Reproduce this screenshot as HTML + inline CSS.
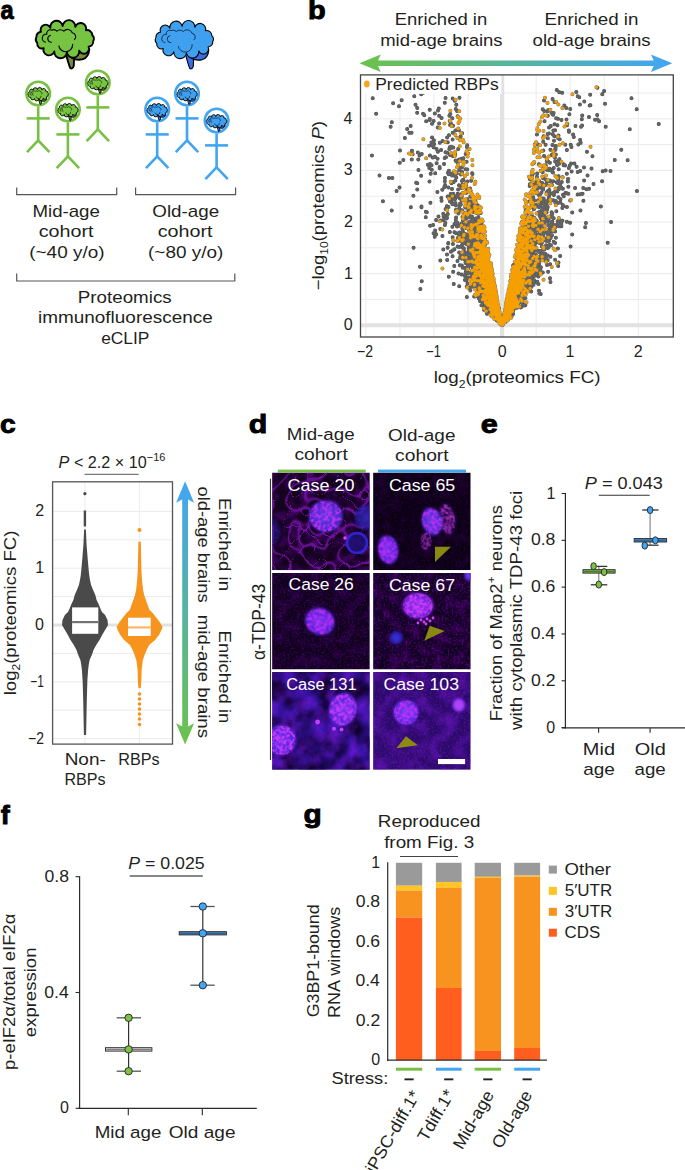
<!DOCTYPE html>
<html><head><meta charset="utf-8"><style>
html,body{margin:0;padding:0;background:#fff;}
body{width:685px;height:1170px;overflow:hidden;}
svg{display:block;font-family:"Liberation Sans",sans-serif;}
</style></head><body>
<svg width="685" height="1170" viewBox="0 0 685 1170">
<g transform="translate(0.51,19.2) scale(0.8917,1)"><text fill="#000" stroke="#000" stroke-width="0.9"><tspan x="0" y="0" font-size="26.5" font-weight="bold">a</tspan></text></g>
<g transform="translate(308.09,19.2) scale(1.0933,1)"><text fill="#000" stroke="#000" stroke-width="0.9"><tspan x="0" y="0" font-size="26.5" font-weight="bold">b</tspan></text></g>
<g transform="translate(-0.11,433) scale(1.0676,1)"><text fill="#000" stroke="#000" stroke-width="0.9"><tspan x="0" y="0" font-size="26.5" font-weight="bold">c</tspan></text></g>
<g transform="translate(248.75,432.6) scale(1.1458,1)"><text fill="#000" stroke="#000" stroke-width="0.9"><tspan x="0" y="0" font-size="26.5" font-weight="bold">d</tspan></text></g>
<g transform="translate(480.8,433) scale(1.1565,1)"><text fill="#000" stroke="#000" stroke-width="0.9"><tspan x="0" y="0" font-size="26.5" font-weight="bold">e</tspan></text></g>
<g transform="translate(0.74,823.6) scale(1.0209,1)"><text fill="#000" stroke="#000" stroke-width="0.9"><tspan x="0" y="0" font-size="26.5" font-weight="bold">f</tspan></text></g>
<g transform="translate(303.38,822.6) scale(1.1255,1)"><text fill="#000" stroke="#000" stroke-width="0.9"><tspan x="0" y="0" font-size="26.5" font-weight="bold">g</tspan></text></g>
<g transform="translate(64.8,39.2) scale(1.0)" stroke="#000" stroke-width="1.9" stroke-linejoin="round"><path d="M1,14 L9.5,14 L9,26.5 Q8,30 5.5,29 Q3.5,24 1,14Z" fill="#7a8a3c"/><path d="M2,13 Q8,22.5 18,20 Q24,18 24.5,10 L20,8Z" fill="#7a8a3c"/><path d="M28.48,1.97A5.2,5.2 0 0 1 23.79,7.44A4.42,4.42 0 0 1 14.39,11.43A5.72,5.72 0 0 1 2.14,13.16A4.94,4.94 0 0 1 -10.53,12.29A5.46,5.46 0 0 1 -21.12,8.97A4.68,4.68 0 0 1 -27.52,3.89A5.2,5.2 0 0 1 -28.48,-1.97A5.72,5.72 0 0 1 -23.79,-7.44A4.94,4.94 0 0 1 -14.39,-11.43A5.2,5.2 0 0 1 -2.14,-13.16A5.46,5.46 0 0 1 10.53,-12.29A4.68,4.68 0 0 1 21.12,-8.97A5.2,5.2 0 0 1 27.52,-3.89A4.94,4.94 0 0 1 28.48,1.97Z" fill="#76c442"/><path d="M-19,3 A4,4 0 0 1 -18,-5 A3.5,3.5 0 0 1 -13,-9 A4,4 0 0 1 -8,-8 A5,5 0 0 1 -1,-8 A5,5 0 0 1 7.5,-6.5 A4,4 0 0 1 9.5,0.5" fill="none" stroke-width="1.14"/><path d="M-14,-4 A3.5,3.5 0 0 0 -13,3 M-6,6.5 A6.5,6.5 0 0 0 7.8,4.6" fill="none" stroke-width="1.14"/></g>
<g transform="translate(184.3,39.6) scale(1.0)" stroke="#000" stroke-width="1.1" stroke-linejoin="round"><path d="M1,14 L9.5,14 L9,26.5 Q8,30 5.5,29 Q3.5,24 1,14Z" fill="#3a6ee6"/><path d="M2,13 Q8,22.5 18,20 Q24,18 24.5,10 L20,8Z" fill="#3a6ee6"/><path d="M28.48,1.97A5.2,5.2 0 0 1 23.79,7.44A4.42,4.42 0 0 1 14.39,11.43A5.72,5.72 0 0 1 2.14,13.16A4.94,4.94 0 0 1 -10.53,12.29A5.46,5.46 0 0 1 -21.12,8.97A4.68,4.68 0 0 1 -27.52,3.89A5.2,5.2 0 0 1 -28.48,-1.97A5.72,5.72 0 0 1 -23.79,-7.44A4.94,4.94 0 0 1 -14.39,-11.43A5.2,5.2 0 0 1 -2.14,-13.16A5.46,5.46 0 0 1 10.53,-12.29A4.68,4.68 0 0 1 21.12,-8.97A5.2,5.2 0 0 1 27.52,-3.89A4.94,4.94 0 0 1 28.48,1.97Z" fill="#40a0f0"/><path d="M-19,3 A4,4 0 0 1 -18,-5 A3.5,3.5 0 0 1 -13,-9 A4,4 0 0 1 -8,-8 A5,5 0 0 1 -1,-8 A5,5 0 0 1 7.5,-6.5 A4,4 0 0 1 9.5,0.5" fill="none" stroke-width="0.66"/><path d="M-14,-4 A3.5,3.5 0 0 0 -13,3 M-6,6.5 A6.5,6.5 0 0 0 7.8,4.6" fill="none" stroke-width="0.66"/></g>
<g stroke="#77c043" stroke-width="2.6" fill="none" stroke-linecap="butt"><circle cx="38.2" cy="93.6" r="11.8" fill="#fff"/><line x1="38.2" y1="106.6" x2="38.2" y2="140.3" stroke="#77c043" stroke-width="2.6"/><line x1="26.7" y1="118.4" x2="49.7" y2="118.4" stroke="#77c043" stroke-width="2.6"/><path d="M27,152.2 L38.2,140.3 L49.4,152.2"/></g><g transform="translate(38.2,94.2) scale(0.35)" stroke="#000" stroke-width="2.6" stroke-linejoin="round"><path d="M1,14 L9.5,14 L9,26.5 Q8,30 5.5,29 Q3.5,24 1,14Z" fill="#7a8a3c"/><path d="M2,13 Q8,22.5 18,20 Q24,18 24.5,10 L20,8Z" fill="#7a8a3c"/><path d="M28.48,1.97A5.2,5.2 0 0 1 23.79,7.44A4.42,4.42 0 0 1 14.39,11.43A5.72,5.72 0 0 1 2.14,13.16A4.94,4.94 0 0 1 -10.53,12.29A5.46,5.46 0 0 1 -21.12,8.97A4.68,4.68 0 0 1 -27.52,3.89A5.2,5.2 0 0 1 -28.48,-1.97A5.72,5.72 0 0 1 -23.79,-7.44A4.94,4.94 0 0 1 -14.39,-11.43A5.2,5.2 0 0 1 -2.14,-13.16A5.46,5.46 0 0 1 10.53,-12.29A4.68,4.68 0 0 1 21.12,-8.97A5.2,5.2 0 0 1 27.52,-3.89A4.94,4.94 0 0 1 28.48,1.97Z" fill="#76c442"/><path d="M-19,3 A4,4 0 0 1 -18,-5 A3.5,3.5 0 0 1 -13,-9 A4,4 0 0 1 -8,-8 A5,5 0 0 1 -1,-8 A5,5 0 0 1 7.5,-6.5 A4,4 0 0 1 9.5,0.5" fill="none" stroke-width="1.56"/><path d="M-14,-4 A3.5,3.5 0 0 0 -13,3 M-6,6.5 A6.5,6.5 0 0 0 7.8,4.6" fill="none" stroke-width="1.56"/></g>
<g stroke="#77c043" stroke-width="2.6" fill="none" stroke-linecap="butt"><circle cx="67.9" cy="109.6" r="11.8" fill="#fff"/><line x1="67.9" y1="122.6" x2="67.9" y2="156.3" stroke="#77c043" stroke-width="2.6"/><line x1="56.4" y1="134.4" x2="79.4" y2="134.4" stroke="#77c043" stroke-width="2.6"/><path d="M56.7,168.2 L67.9,156.3 L79.1,168.2"/></g><g transform="translate(67.9,110.2) scale(0.35)" stroke="#000" stroke-width="2.6" stroke-linejoin="round"><path d="M1,14 L9.5,14 L9,26.5 Q8,30 5.5,29 Q3.5,24 1,14Z" fill="#7a8a3c"/><path d="M2,13 Q8,22.5 18,20 Q24,18 24.5,10 L20,8Z" fill="#7a8a3c"/><path d="M28.48,1.97A5.2,5.2 0 0 1 23.79,7.44A4.42,4.42 0 0 1 14.39,11.43A5.72,5.72 0 0 1 2.14,13.16A4.94,4.94 0 0 1 -10.53,12.29A5.46,5.46 0 0 1 -21.12,8.97A4.68,4.68 0 0 1 -27.52,3.89A5.2,5.2 0 0 1 -28.48,-1.97A5.72,5.72 0 0 1 -23.79,-7.44A4.94,4.94 0 0 1 -14.39,-11.43A5.2,5.2 0 0 1 -2.14,-13.16A5.46,5.46 0 0 1 10.53,-12.29A4.68,4.68 0 0 1 21.12,-8.97A5.2,5.2 0 0 1 27.52,-3.89A4.94,4.94 0 0 1 28.48,1.97Z" fill="#76c442"/><path d="M-19,3 A4,4 0 0 1 -18,-5 A3.5,3.5 0 0 1 -13,-9 A4,4 0 0 1 -8,-8 A5,5 0 0 1 -1,-8 A5,5 0 0 1 7.5,-6.5 A4,4 0 0 1 9.5,0.5" fill="none" stroke-width="1.56"/><path d="M-14,-4 A3.5,3.5 0 0 0 -13,3 M-6,6.5 A6.5,6.5 0 0 0 7.8,4.6" fill="none" stroke-width="1.56"/></g>
<g stroke="#77c043" stroke-width="2.6" fill="none" stroke-linecap="butt"><circle cx="97.8" cy="82.6" r="11.8" fill="#fff"/><line x1="97.8" y1="95.6" x2="97.8" y2="129.3" stroke="#77c043" stroke-width="2.6"/><line x1="86.3" y1="107.4" x2="109.3" y2="107.4" stroke="#77c043" stroke-width="2.6"/><path d="M86.6,141.2 L97.8,129.3 L109,141.2"/></g><g transform="translate(97.8,83.2) scale(0.35)" stroke="#000" stroke-width="2.6" stroke-linejoin="round"><path d="M1,14 L9.5,14 L9,26.5 Q8,30 5.5,29 Q3.5,24 1,14Z" fill="#7a8a3c"/><path d="M2,13 Q8,22.5 18,20 Q24,18 24.5,10 L20,8Z" fill="#7a8a3c"/><path d="M28.48,1.97A5.2,5.2 0 0 1 23.79,7.44A4.42,4.42 0 0 1 14.39,11.43A5.72,5.72 0 0 1 2.14,13.16A4.94,4.94 0 0 1 -10.53,12.29A5.46,5.46 0 0 1 -21.12,8.97A4.68,4.68 0 0 1 -27.52,3.89A5.2,5.2 0 0 1 -28.48,-1.97A5.72,5.72 0 0 1 -23.79,-7.44A4.94,4.94 0 0 1 -14.39,-11.43A5.2,5.2 0 0 1 -2.14,-13.16A5.46,5.46 0 0 1 10.53,-12.29A4.68,4.68 0 0 1 21.12,-8.97A5.2,5.2 0 0 1 27.52,-3.89A4.94,4.94 0 0 1 28.48,1.97Z" fill="#76c442"/><path d="M-19,3 A4,4 0 0 1 -18,-5 A3.5,3.5 0 0 1 -13,-9 A4,4 0 0 1 -8,-8 A5,5 0 0 1 -1,-8 A5,5 0 0 1 7.5,-6.5 A4,4 0 0 1 9.5,0.5" fill="none" stroke-width="1.56"/><path d="M-14,-4 A3.5,3.5 0 0 0 -13,3 M-6,6.5 A6.5,6.5 0 0 0 7.8,4.6" fill="none" stroke-width="1.56"/></g>
<g stroke="#42a5f0" stroke-width="2.6" fill="none" stroke-linecap="butt"><circle cx="157.2" cy="109.6" r="11.8" fill="#fff"/><line x1="157.2" y1="122.6" x2="157.2" y2="156.3" stroke="#42a5f0" stroke-width="2.6"/><line x1="145.7" y1="134.4" x2="168.7" y2="134.4" stroke="#42a5f0" stroke-width="2.6"/><path d="M146,168.2 L157.2,156.3 L168.4,168.2"/></g><g transform="translate(157.2,110.2) scale(0.35)" stroke="#000" stroke-width="2.6" stroke-linejoin="round"><path d="M1,14 L9.5,14 L9,26.5 Q8,30 5.5,29 Q3.5,24 1,14Z" fill="#3a6ee6"/><path d="M2,13 Q8,22.5 18,20 Q24,18 24.5,10 L20,8Z" fill="#3a6ee6"/><path d="M28.48,1.97A5.2,5.2 0 0 1 23.79,7.44A4.42,4.42 0 0 1 14.39,11.43A5.72,5.72 0 0 1 2.14,13.16A4.94,4.94 0 0 1 -10.53,12.29A5.46,5.46 0 0 1 -21.12,8.97A4.68,4.68 0 0 1 -27.52,3.89A5.2,5.2 0 0 1 -28.48,-1.97A5.72,5.72 0 0 1 -23.79,-7.44A4.94,4.94 0 0 1 -14.39,-11.43A5.2,5.2 0 0 1 -2.14,-13.16A5.46,5.46 0 0 1 10.53,-12.29A4.68,4.68 0 0 1 21.12,-8.97A5.2,5.2 0 0 1 27.52,-3.89A4.94,4.94 0 0 1 28.48,1.97Z" fill="#40a0f0"/><path d="M-19,3 A4,4 0 0 1 -18,-5 A3.5,3.5 0 0 1 -13,-9 A4,4 0 0 1 -8,-8 A5,5 0 0 1 -1,-8 A5,5 0 0 1 7.5,-6.5 A4,4 0 0 1 9.5,0.5" fill="none" stroke-width="1.56"/><path d="M-14,-4 A3.5,3.5 0 0 0 -13,3 M-6,6.5 A6.5,6.5 0 0 0 7.8,4.6" fill="none" stroke-width="1.56"/></g>
<g stroke="#42a5f0" stroke-width="2.6" fill="none" stroke-linecap="butt"><circle cx="187" cy="93.6" r="11.8" fill="#fff"/><line x1="187" y1="106.6" x2="187" y2="140.3" stroke="#42a5f0" stroke-width="2.6"/><line x1="175.5" y1="118.4" x2="198.5" y2="118.4" stroke="#42a5f0" stroke-width="2.6"/><path d="M175.8,152.2 L187,140.3 L198.2,152.2"/></g><g transform="translate(187,94.2) scale(0.35)" stroke="#000" stroke-width="2.6" stroke-linejoin="round"><path d="M1,14 L9.5,14 L9,26.5 Q8,30 5.5,29 Q3.5,24 1,14Z" fill="#3a6ee6"/><path d="M2,13 Q8,22.5 18,20 Q24,18 24.5,10 L20,8Z" fill="#3a6ee6"/><path d="M28.48,1.97A5.2,5.2 0 0 1 23.79,7.44A4.42,4.42 0 0 1 14.39,11.43A5.72,5.72 0 0 1 2.14,13.16A4.94,4.94 0 0 1 -10.53,12.29A5.46,5.46 0 0 1 -21.12,8.97A4.68,4.68 0 0 1 -27.52,3.89A5.2,5.2 0 0 1 -28.48,-1.97A5.72,5.72 0 0 1 -23.79,-7.44A4.94,4.94 0 0 1 -14.39,-11.43A5.2,5.2 0 0 1 -2.14,-13.16A5.46,5.46 0 0 1 10.53,-12.29A4.68,4.68 0 0 1 21.12,-8.97A5.2,5.2 0 0 1 27.52,-3.89A4.94,4.94 0 0 1 28.48,1.97Z" fill="#40a0f0"/><path d="M-19,3 A4,4 0 0 1 -18,-5 A3.5,3.5 0 0 1 -13,-9 A4,4 0 0 1 -8,-8 A5,5 0 0 1 -1,-8 A5,5 0 0 1 7.5,-6.5 A4,4 0 0 1 9.5,0.5" fill="none" stroke-width="1.56"/><path d="M-14,-4 A3.5,3.5 0 0 0 -13,3 M-6,6.5 A6.5,6.5 0 0 0 7.8,4.6" fill="none" stroke-width="1.56"/></g>
<g stroke="#42a5f0" stroke-width="2.6" fill="none" stroke-linecap="butt"><circle cx="216.6" cy="120.6" r="11.8" fill="#fff"/><line x1="216.6" y1="133.6" x2="216.6" y2="167.3" stroke="#42a5f0" stroke-width="2.6"/><line x1="205.1" y1="145.4" x2="228.1" y2="145.4" stroke="#42a5f0" stroke-width="2.6"/><path d="M205.4,179.2 L216.6,167.3 L227.8,179.2"/></g><g transform="translate(216.6,121.2) scale(0.35)" stroke="#000" stroke-width="2.6" stroke-linejoin="round"><path d="M1,14 L9.5,14 L9,26.5 Q8,30 5.5,29 Q3.5,24 1,14Z" fill="#3a6ee6"/><path d="M2,13 Q8,22.5 18,20 Q24,18 24.5,10 L20,8Z" fill="#3a6ee6"/><path d="M28.48,1.97A5.2,5.2 0 0 1 23.79,7.44A4.42,4.42 0 0 1 14.39,11.43A5.72,5.72 0 0 1 2.14,13.16A4.94,4.94 0 0 1 -10.53,12.29A5.46,5.46 0 0 1 -21.12,8.97A4.68,4.68 0 0 1 -27.52,3.89A5.2,5.2 0 0 1 -28.48,-1.97A5.72,5.72 0 0 1 -23.79,-7.44A4.94,4.94 0 0 1 -14.39,-11.43A5.2,5.2 0 0 1 -2.14,-13.16A5.46,5.46 0 0 1 10.53,-12.29A4.68,4.68 0 0 1 21.12,-8.97A5.2,5.2 0 0 1 27.52,-3.89A4.94,4.94 0 0 1 28.48,1.97Z" fill="#40a0f0"/><path d="M-19,3 A4,4 0 0 1 -18,-5 A3.5,3.5 0 0 1 -13,-9 A4,4 0 0 1 -8,-8 A5,5 0 0 1 -1,-8 A5,5 0 0 1 7.5,-6.5 A4,4 0 0 1 9.5,0.5" fill="none" stroke-width="1.56"/><path d="M-14,-4 A3.5,3.5 0 0 0 -13,3 M-6,6.5 A6.5,6.5 0 0 0 7.8,4.6" fill="none" stroke-width="1.56"/></g>
<path d="M16.7,187.5 V194.7 H116.7 V187.5" fill="none" stroke="#555" stroke-width="1.2"/>
<path d="M135.6,187.5 V194.7 H235.6 V187.5" fill="none" stroke="#555" stroke-width="1.2"/>
<path d="M16.7,273.4 V281 H234.8 V273.4" fill="none" stroke="#555" stroke-width="1.2"/>
<g transform="translate(32.47,216.5) scale(1.0967,1)"><text fill="#231f20"><tspan x="0" y="0" font-size="17">Mid-age</tspan></text></g>
<g transform="translate(38.66,237.4) scale(1.1616,1)"><text fill="#231f20"><tspan x="0" y="0" font-size="17">cohort</tspan></text></g>
<g transform="translate(29.22,257.7) scale(1.1153,1)"><text fill="#231f20"><tspan x="0" y="0" font-size="17">(~40 y/o)</tspan></text></g>
<g transform="translate(152.31,216.5) scale(1.1049,1)"><text fill="#231f20"><tspan x="0" y="0" font-size="17">Old-age</tspan></text></g>
<g transform="translate(157.66,237.4) scale(1.1616,1)"><text fill="#231f20"><tspan x="0" y="0" font-size="17">cohort</tspan></text></g>
<g transform="translate(148.02,257.7) scale(1.1153,1)"><text fill="#231f20"><tspan x="0" y="0" font-size="17">(~80 y/o)</tspan></text></g>
<g transform="translate(77.86,302.5) scale(1.1034,1)"><text fill="#231f20"><tspan x="0" y="0" font-size="17">Proteomics</tspan></text></g>
<g transform="translate(38.03,322.7) scale(1.1145,1)"><text fill="#231f20"><tspan x="0" y="0" font-size="17">immunofluorescence</tspan></text></g>
<g transform="translate(101.16,343.6) scale(1.0213,1)"><text fill="#231f20"><tspan x="0" y="0" font-size="17">eCLIP</tspan></text></g>
<defs><linearGradient id="gb" gradientUnits="userSpaceOnUse" x1="359.4" y1="0" x2="672.3" y2="0"><stop offset="0" stop-color="#6cc24a"/><stop offset="1" stop-color="#42a5f5"/></linearGradient></defs><path d="M359.4,63.3 L380.7,54.55 L378.1,60.55 L653.6,60.55 L651,54.55 L672.3,63.3 L651,72.05 L653.6,66.05 L378.1,66.05 L380.7,72.05 Z" fill="url(#gb)"/>
<g transform="translate(394.78,24.5) scale(1.0866,1)"><text fill="#231f20"><tspan x="0" y="0" font-size="17">Enriched in</tspan></text></g>
<g transform="translate(380.17,46) scale(1.0894,1)"><text fill="#231f20"><tspan x="0" y="0" font-size="17">mid-age brains</tspan></text></g>
<g transform="translate(544.46,24.8) scale(1.1060,1)"><text fill="#231f20"><tspan x="0" y="0" font-size="17">Enriched in</tspan></text></g>
<g transform="translate(532.52,45.8) scale(1.0967,1)"><text fill="#231f20"><tspan x="0" y="0" font-size="17">old-age brains</tspan></text></g>
<line x1="365.9" y1="74.9" x2="365.9" y2="337" stroke="#ebebeb" stroke-width="1.0"/><line x1="399.95" y1="74.9" x2="399.95" y2="337" stroke="#ebebeb" stroke-width="1.0"/><line x1="434" y1="74.9" x2="434" y2="337" stroke="#ebebeb" stroke-width="1.0"/><line x1="468.05" y1="74.9" x2="468.05" y2="337" stroke="#ebebeb" stroke-width="1.0"/><line x1="536.15" y1="74.9" x2="536.15" y2="337" stroke="#ebebeb" stroke-width="1.0"/><line x1="570.2" y1="74.9" x2="570.2" y2="337" stroke="#ebebeb" stroke-width="1.0"/><line x1="604.25" y1="74.9" x2="604.25" y2="337" stroke="#ebebeb" stroke-width="1.0"/><line x1="638.3" y1="74.9" x2="638.3" y2="337" stroke="#ebebeb" stroke-width="1.0"/><line x1="360.5" y1="299.4" x2="673.3" y2="299.4" stroke="#ebebeb" stroke-width="1.0"/><line x1="360.5" y1="273.6" x2="673.3" y2="273.6" stroke="#ebebeb" stroke-width="1.0"/><line x1="360.5" y1="247.8" x2="673.3" y2="247.8" stroke="#ebebeb" stroke-width="1.0"/><line x1="360.5" y1="222" x2="673.3" y2="222" stroke="#ebebeb" stroke-width="1.0"/><line x1="360.5" y1="196.2" x2="673.3" y2="196.2" stroke="#ebebeb" stroke-width="1.0"/><line x1="360.5" y1="170.4" x2="673.3" y2="170.4" stroke="#ebebeb" stroke-width="1.0"/><line x1="360.5" y1="144.6" x2="673.3" y2="144.6" stroke="#ebebeb" stroke-width="1.0"/><line x1="360.5" y1="118.8" x2="673.3" y2="118.8" stroke="#ebebeb" stroke-width="1.0"/><line x1="360.5" y1="93" x2="673.3" y2="93" stroke="#ebebeb" stroke-width="1.0"/><line x1="502.1" y1="74.9" x2="502.1" y2="337" stroke="#e2e2e2" stroke-width="4.2"/><line x1="360.5" y1="325.2" x2="673.3" y2="325.2" stroke="#e2e2e2" stroke-width="4.0"/>
<clipPath id="cpb"><rect x="360.5" y="74.9" width="312.8" height="262.1"/></clipPath><g clip-path="url(#cpb)"><g fill="none" stroke-linecap="round"><path d="M505.55 317.57h0M466.25 192.83h0M507.02 309.68h0M485.12 282.63h0M510.73 293.91h0M546.13 245.36h0M390.62 126.87h0M491.61 294.72h0M511.51 316.74h0M484.78 295.49h0M437.39 192.01h0M482.63 282.17h0M504.59 321.29h0M501.57 324.47h0M459.88 234.51h0M459.23 286.17h0M491.02 297.34h0M460.83 194.43h0M499.77 316.99h0M521.88 264.78h0M514.02 292.27h0M450.82 174.06h0M529.19 238.56h0M480.45 281.86h0M487.44 266.3h0M533.12 197.31h0M499.33 318.05h0M495.23 305.04h0M494.59 298.32h0M493.38 315.21h0M504.79 317.55h0M543.57 233.07h0M461.11 158.79h0M419.92 266.76h0M508.87 305.28h0M483.25 292.05h0M498.51 316.76h0M532.3 264.69h0M507.34 308.33h0M480.67 212.94h0M509.42 293.44h0M392.31 177.98h0M441.55 200.71h0M541.82 246.39h0M513.82 287.77h0M558.64 160.33h0M497.17 310.48h0M484.6 256.61h0M468 259.32h0M501.21 322.21h0M476.23 207.2h0M505.83 315.79h0M436.58 149.07h0M468.75 214.67h0M485.71 287.02h0M495.89 312.56h0M532.24 276.15h0M480.5 255.92h0M497.67 310.36h0M562.33 207.93h0M504.1 320.19h0M530.54 239.69h0M506.09 317.92h0M522.1 295.53h0M531.68 267.59h0M521.18 254.53h0M544.03 100.56h0M468.28 265.03h0M524.89 259.9h0M423.07 113.81h0M466.7 286.48h0M507.24 312.97h0M448.37 187.57h0M503.54 322.29h0M470.24 237.91h0M514.67 297.46h0M512.81 309.51h0M538.47 200.26h0M441.35 197.91h0M502.6 322.7h0M547.48 111.31h0M448.43 206.94h0M474.53 274.37h0M508.07 305.21h0M544.44 256.47h0M503.6 321.31h0M524.21 288.72h0M528.64 233.31h0M454.93 155.16h0M473.43 280.05h0M491.46 309.41h0M509.87 314.02h0M500.78 322.32h0M505.37 312.88h0M494.32 297.84h0M528.87 254.11h0M495.43 306.48h0M551.98 235.14h0M478.39 256.84h0M523.43 228.65h0M462.37 255.06h0M489.57 310.67h0M512.64 275.94h0M480.21 287.17h0M519.39 247.56h0M532.01 265.89h0M505.4 315.29h0M469.32 243.38h0M475.79 236.12h0M531.52 286.7h0M517.59 282.1h0M468.84 249.64h0M546.35 212.57h0M467.17 261.35h0M498.34 312.55h0M494.13 316.08h0M502.89 323.35h0M526.52 268.1h0M535.45 241.74h0M530.73 257.38h0M432.03 123.72h0M518.53 275.41h0M460.77 204.57h0M495.59 310.39h0M473.29 276.2h0M551.14 215.66h0M499.99 319.38h0M421.7 153.97h0M498.85 319.49h0M419.52 155.45h0M521.47 300.45h0M517.15 287.45h0M530.9 253.65h0M546.46 183.33h0M489.58 282.29h0M602.28 94.17h0M482.12 266.98h0M494.57 310.65h0M540.55 217.99h0M483.45 279.63h0M478.62 297.24h0M443.55 219.97h0M561.4 226.17h0M470.97 221.04h0M492.42 290.52h0M520.49 269.7h0M527.78 285h0M503.02 321.84h0M506.94 313.29h0M502.79 324.28h0M423.16 92.74h0M507.75 310.95h0M452.4 226.76h0M523.46 232.16h0M532.59 279.28h0M448.75 174.31h0M579.9 104.57h0M504.44 314.49h0M546.62 256.05h0M496.37 316.93h0M533.09 217.24h0M460.56 255.94h0M479.96 278.72h0M485.09 264.64h0M490.5 281.68h0M500.41 317.44h0M504.52 314.7h0M498.94 318.75h0M475.95 296.22h0M472.18 263.01h0M515.06 263.76h0M466.61 218.25h0M513.96 293.29h0M509.42 294.06h0M479.96 245h0M511.23 304.69h0M485.75 276.87h0M485.13 266.78h0M513.65 271.65h0M491.39 305.83h0M520.97 283.7h0M522.67 301.05h0M525.78 225.93h0M456.12 233.22h0M539.51 252.13h0M541.14 228.72h0M529 232.17h0M488.52 283.33h0M511.7 300.61h0M501.44 321.99h0M482.25 286.24h0M508.52 309.05h0M503.86 319.96h0M539.92 231.68h0M523.95 271.09h0M526.84 271.43h0M432.71 157.56h0M534.47 218.05h0M505.07 317.78h0M501.64 323.96h0M550.44 256.64h0M514.23 284.95h0M504.38 318.29h0M499.52 317.62h0M554.47 101.94h0M466.49 237.22h0M526.76 233.47h0M474 238.04h0M462.03 180.88h0M526.26 257.66h0M498.92 317.39h0M474.96 251.51h0M528.08 264.91h0M508.45 300.22h0M511.48 295.6h0M493.64 314.45h0M576.32 91.93h0M563.07 194.83h0M509.2 312.78h0M475.37 259.41h0M530.37 238.58h0M467.48 239.93h0M546.72 205.18h0M491.25 302.06h0M520.7 283.76h0M495.64 309.23h0M534.08 162.64h0M557.91 248.54h0M441.12 149.97h0M518.39 280.17h0M490.31 295.16h0M442.32 189.69h0M529.63 269.43h0M486.96 313.76h0M527.01 277.44h0M501.08 323.37h0M480.46 299.11h0M504.84 317.58h0M544.52 223.47h0M494.87 291.12h0M501.04 322.24h0M589.66 105.48h0M521.21 271.63h0M499.58 317.32h0M508.42 312.21h0M509.04 311.15h0M525.62 264.6h0M457.05 226.38h0M483.92 281.31h0M483.45 268.54h0M566.51 119.62h0M466.17 270.77h0M524.94 241.7h0M501.4 323.21h0M501.87 324.52h0M528.05 244.36h0M519.18 247.94h0M447.01 254.62h0M517.71 282.14h0M511.28 305.21h0M494.64 307.57h0M509.61 301.63h0M477.64 257.33h0M636.7 109.2h0M479.98 230.25h0M487 283.78h0M462.99 231.78h0M442.56 141.08h0M491.75 293.07h0M530.05 266.46h0M477.39 253.65h0M447.18 259.88h0M511.29 306.03h0M546.74 259.94h0M577.7 171.9h0M502.72 322.88h0M469.52 233.8h0M506.04 314.68h0M514.59 292h0M523.88 279.36h0M514.25 298.65h0M468.97 238.79h0M536.42 182.89h0M495.45 316.12h0M461.72 200.74h0M465.78 206.88h0M466.94 147h0M528.45 271.47h0M498.92 319.57h0M507.95 314.73h0M544.2 111.04h0M513.94 305.21h0M531.8 234.81h0M458.61 195.17h0M529.65 228.81h0M548.85 225.4h0M500.5 322.37h0M558.59 176.16h0M552.4 171.94h0M495.13 313.51h0M491.2 294.84h0M483.49 279.75h0M481.66 260.88h0M506.8 314.16h0M543.22 234.57h0M542.11 182.98h0M480.58 233.65h0M548.37 191.73h0M475.06 211.22h0M532.69 238.84h0M529.66 277.32h0M433.64 120.89h0M542.7 109.2h0M523.89 242.63h0M445.22 185.76h0M501.24 323.07h0M543.14 178.28h0M520.95 284.94h0M495.9 303.2h0M479.81 293.53h0M527.53 278.11h0M521.69 306.67h0M513.93 300.26h0M477.07 264.84h0M507.68 302.47h0M431.41 142.43h0M522.59 243.58h0M497.97 317.98h0M481.43 305.28h0M544.01 209.16h0M493.24 316.02h0M474.23 237.01h0M535.96 183.74h0M488.22 288.4h0M454.75 100.66h0M566.28 193.12h0M494 302.72h0M485.11 269.48h0M484.61 271.2h0M439.15 123.45h0M484.75 309.95h0M568.82 130.38h0M559.09 163.63h0M498.11 312.53h0M497.44 314.12h0M499.73 319.36h0M505.5 308.93h0M516.36 285.66h0M531.32 275.02h0M546.78 161.22h0M511.37 309.95h0M463.21 233.8h0M483.57 281.33h0M536.06 255.09h0M458.98 185.28h0M500.53 320.78h0M521.91 291.47h0M500.34 322.6h0M476.83 283.78h0M472.15 282.93h0M512.84 307.84h0M427.87 164.69h0M543.25 141.82h0M491.13 279.86h0M550.4 149.76h0M532.74 247.57h0M508.12 302.68h0M507.44 312.17h0M430.42 202.83h0M500.18 320.88h0M480.98 224.09h0M475.37 247.28h0M461.94 245.04h0M527.58 249.04h0M401.66 100.25h0M486.93 279.99h0M505.32 319.02h0M498.18 309.56h0M512.32 297.33h0M491.04 293.72h0M533.73 226.37h0M500.43 321.41h0M514.49 305.58h0M529.85 230.96h0M496.13 307.61h0M497.75 318.58h0M497.79 309.31h0M449.72 121h0M549.55 168.63h0M522.25 285.07h0M476.91 258.09h0M522.22 284.68h0M535.14 192.87h0M444.67 158.08h0M494.35 295.08h0M481.66 246.91h0M511.61 303.18h0M540.52 213.9h0M481.24 301.3h0M555.85 237.69h0M590.18 94.7h0M513.08 292.94h0M538.91 164.17h0M510.69 285.04h0M517.8 298.76h0M487.03 275.05h0M501.76 324.38h0M547.02 209.74h0M487.97 297.37h0M550.16 264.2h0M557.63 221.2h0M429.69 119.92h0M482.54 295.92h0M552.35 217.38h0M498.25 314.36h0M485.19 283.32h0M445.38 223.09h0M510.83 312h0M555.79 145.89h0M486.41 278.33h0M557.03 224.39h0M468.89 229.71h0M506.61 319.08h0M522.01 296.25h0M544.5 222h0M580.13 139.92h0M513.36 285.94h0M523.5 251.34h0M508.31 309.1h0M448.94 170.65h0M410.85 207.17h0M514.31 283.93h0M485.57 291.56h0M497.72 312.71h0M434.92 156.67h0M523.55 277.3h0M521.84 246.72h0M524.55 282.11h0M495.13 314.37h0M416.18 182.83h0M472.69 218.83h0M539.44 256.97h0M534.18 221.66h0M588.94 117.08h0M482.15 230.68h0M489.08 288.19h0M510.17 302.02h0M503.11 321.34h0M504.34 314.7h0M495.72 310.6h0M488.6 263.04h0M454.4 232.17h0M534.62 237.73h0M483.3 281.92h0M532.05 250.03h0M532 251.23h0M429.78 118.91h0M498.03 309.71h0M532.86 273.58h0M476.52 262.41h0M539.87 230.02h0M466.88 297.03h0M450.07 125.04h0M468.17 268.49h0M511.85 301.59h0M521.32 245.13h0M507.11 308.68h0M525.22 253.79h0M502.31 324.53h0M482.67 288.58h0M533.94 276.14h0M516.02 292.78h0M581.08 126.68h0M496.92 310.68h0M488.36 282.86h0M489.46 296.37h0M556.74 89.96h0M524.83 259.6h0M518.9 282.92h0M532.69 251.59h0M525.02 224.19h0M525.85 291.7h0M480.41 279.52h0M533.83 209.35h0M540.08 205.8h0M502.7 324.04h0M452.63 237.34h0M451.13 146.76h0M502.68 323.03h0M509.55 313.52h0M489.85 298.84h0M584.27 101.61h0M465.26 207.6h0M494.22 295.59h0M477.63 281.63h0M557.37 191.39h0M503.76 321.38h0M505.54 321.86h0M492.04 302.57h0M527.82 239.94h0M479.6 286.82h0M465.1 267.88h0M515.4 293.24h0M505.94 313.72h0M494.45 311.26h0M472.78 212.22h0M473.15 244.43h0M504.08 320.87h0M542.03 227.83h0M566.83 173.72h0M550.7 126h0M511.6 296.01h0M459.19 208.62h0M460.79 198.66h0M472.09 226.06h0M478.21 275.17h0M520.28 271.25h0M457.53 162.6h0M547.73 248.1h0M553.92 195.07h0M452.67 98.48h0M595.09 119.67h0M483.01 302.96h0M509.55 311.82h0M553.64 241.71h0M448.22 243.46h0M483.55 284.16h0M488.65 279.2h0M497.96 318.16h0M473.02 208.39h0M488.33 290.41h0M503.98 321.36h0M548.85 217.06h0M553.71 168.12h0M449.42 115.75h0M486.57 306.68h0M535.39 260.65h0M482.04 259.42h0M467.05 189.56h0M534.14 245.91h0M474.82 256.37h0M557.79 189.64h0M514.71 306.84h0M542.01 187.34h0M551.88 216.56h0M511.3 283.59h0M496.85 309.94h0M526.67 290.31h0M477.29 278.96h0M535.66 222.75h0M447.85 172.8h0M545.44 185.08h0M490.67 301.66h0M584.13 180.54h0M536.68 220.72h0M561.46 119.96h0M417.24 189.55h0M491.21 289.18h0M486.16 292.26h0M532.45 222.43h0M563.76 196.33h0M540.7 294.06h0M487.02 296.92h0M508.39 303.57h0M452.61 199.49h0M517.87 288.07h0M477.66 259.86h0M443.54 216.2h0M486.31 295.77h0M456.05 217.5h0M434.71 236.86h0M472.1 216.8h0M469.29 216.97h0M513.92 264.86h0M492.53 302.26h0M557.75 162.42h0M567.83 181.57h0M545.65 168.63h0M557.99 183.36h0M511.85 292.66h0M551.57 212.31h0M488.86 294.72h0M466.05 228.04h0M465.05 254.46h0M523.58 272.04h0M534.29 227.97h0M489.2 277.98h0M513.71 299.51h0M539.5 194.7h0M521.68 291.48h0M511.7 303.64h0M570.29 109.02h0M501.98 324.72h0M487.08 264.41h0M498.68 320.19h0M520.67 260.22h0M525.43 305.03h0M504.74 320.5h0M523.99 297.1h0M471.22 262.19h0M530.63 255.53h0M537.14 250.84h0M502.41 323.91h0M510.2 297.19h0M522.19 249.19h0M503.24 320.66h0M491.73 315.91h0M522.03 252.98h0M517.49 298.58h0M513.06 271.63h0M481.82 273.81h0M503.88 321.68h0M458.2 149.05h0M510.62 300.72h0M476.07 287.26h0M518.25 300.2h0M500.63 319.85h0M467.58 283.54h0M529.92 287.92h0M519.95 294.76h0M525.25 223.77h0M531 225.9h0M485.9 290.2h0M462.96 220.57h0M471.45 248.21h0M430.7 173.78h0M478.97 271.08h0M538.19 257.77h0M485.71 303.68h0M463.53 235.53h0M516.26 282.92h0M484.49 279.73h0M514.11 277.32h0M513.64 297.02h0M511.83 310.16h0M493.06 280.73h0M478.49 212.48h0M474.32 278.22h0M548.45 170.29h0M534.74 237.21h0M475.75 269.05h0M522.05 301.11h0M528 280.94h0M560.45 226.22h0M505.54 318.61h0M529.24 228.42h0M458.93 233.14h0M433.54 233.16h0M495.05 287.27h0M477.74 205.35h0M479.69 280.3h0M494.59 295.07h0M530.37 242.74h0M558.43 197.14h0M466.25 280.39h0M494.39 305.17h0M480.36 274.44h0M462.8 267.72h0M441.58 118.06h0M470.1 188.47h0M614.74 159.94h0M529.84 184.25h0M529.43 201.6h0M497.17 304.94h0M592.46 156.35h0M477.64 280.33h0M417.82 152.57h0M582.54 193.84h0M519.58 263.47h0M537.79 223.79h0M508.28 304.9h0M450.66 194.11h0M467.25 235.29h0M501.11 321.23h0M519.32 286.65h0M548.45 232.44h0M457.4 240.39h0M494.15 303.09h0M526.31 254.31h0M508.42 294.99h0M521.91 294.53h0M583.39 200.85h0M539.63 185.71h0M474.53 245.13h0M571.07 163.6h0M524.24 277.77h0M553.06 200.33h0M518.25 283.01h0M555.77 201.1h0M482.93 280.35h0M553.18 181.29h0M470.39 290.47h0M484.91 303.7h0M446.83 206.18h0M509.06 304.37h0M483.77 291.82h0M453.23 147.44h0M508.28 316.43h0M568.96 131.83h0M481.58 274.34h0M514.54 281.93h0M537.39 282.74h0M494.31 309.28h0M519.97 295.66h0M535.77 231.32h0M561.4 187.46h0M568.08 178.89h0M449.78 147.21h0M488.55 290.26h0M495.27 313h0M509.61 309.18h0M483.41 270.55h0M520.72 307.58h0M557.87 118.74h0M555.58 147.83h0M523.42 271.83h0M553.58 113.01h0M509.47 290.23h0M421.47 207.21h0M485.45 298.31h0M447.63 196.58h0M488.01 293.74h0M498.12 320.62h0M494.65 296.25h0M476.63 212.88h0M521.96 293.19h0M488.53 303.61h0M485.27 288.45h0M515.18 278.68h0M548.9 133.51h0M485.07 276.81h0M471.1 257.45h0M512.09 285.31h0M461.3 258.51h0M543.14 189.51h0M498.53 314.72h0M475.13 281.3h0M505.08 316.07h0M508.25 314.88h0M533.29 251.92h0M486.43 271.04h0M498.18 312.21h0M527.41 271.97h0M517.61 295.98h0M418.46 170.08h0M520.76 297h0M444.48 215.79h0M529.15 270.74h0M544 206.79h0M534.8 200.44h0M511.89 293.73h0M458.49 212.63h0M546.61 192.4h0M462.15 133.36h0M508.6 299.27h0M493.83 313.7h0M494.09 292.31h0M537.52 271.43h0M479.89 275.58h0M472.37 265.5h0M418.29 159.56h0M458.17 189.39h0M497.53 309.15h0M519.66 269.79h0M526.23 279.14h0M466.16 186.31h0M492.93 302.11h0M604.12 90.96h0M546.99 231.94h0M487.09 292.45h0M473.83 206.69h0M506.04 320.46h0M450.08 154.94h0M563.61 206.36h0M537.7 229.84h0M546.06 203.34h0M511.42 295.18h0M436.21 234.35h0M429.73 109.78h0M453.04 125.83h0M507.74 301.82h0M471.09 223.48h0M517.13 300.24h0M475.79 246.61h0M499.32 318.25h0M526.82 285.02h0M411.76 159.55h0M506.93 316.67h0M503.41 322.61h0M535.27 241.51h0M517.26 289.73h0M511 306.7h0M533.65 251.76h0M536.05 241.67h0M504.57 317.47h0M495.48 301.26h0M537.57 224.98h0M496.41 305.47h0M467.95 265.75h0M493.61 310.2h0M500.41 321.81h0M487.2 286.77h0M465.02 275.93h0M484.62 251.07h0M444.82 181.33h0M507.41 317.48h0M520.46 283.94h0M516.87 274.19h0M521.86 244.03h0M510.91 303.3h0M499.71 314.91h0M537.13 260.78h0M493.11 307.24h0M472.51 174.09h0M499.12 315.77h0M499.24 321.05h0M516.22 298.32h0M559.29 92.14h0M527.47 235.17h0M504.23 320.69h0M495.6 309.95h0M459.83 265.2h0M478.12 273.61h0M417.28 183.35h0M451.46 183.14h0M541.06 203.08h0M509.56 299.54h0M472.02 203.17h0M521.81 301.77h0M508.62 301.37h0M509.92 312.34h0M513.21 291.16h0M529.39 268.43h0M519.82 289.68h0M425.87 211.85h0M515.09 281.83h0M479.09 270.39h0M475.73 244.66h0M527.43 274.8h0M512.86 308.34h0M469.38 205.69h0M522.74 287.54h0M488.22 283.83h0M521.86 236.05h0M520.25 258.61h0M516.09 295.31h0M501.87 324.65h0M546.64 169.63h0M445.96 157.18h0M496.71 311.67h0M485.96 295.57h0M463.36 179.82h0M475.95 223.09h0M494.45 312.35h0M460.08 203.56h0M533.23 204.22h0M546.3 255.43h0M551.68 215.62h0M533.74 218.78h0M531.93 244.78h0M554.59 192.02h0M480.37 241.64h0M482.47 254.08h0M610.49 170.9h0M431.51 165.2h0M543.95 222.19h0M476.36 261.98h0M548.15 190.75h0M528.76 256.11h0M400.02 150.6h0M486.35 278.66h0M568.24 193.63h0M548.12 110.15h0M464.5 224.74h0M486.01 294h0M524.15 273.5h0M460.45 237.17h0M435.7 233.96h0M510.69 280.92h0M493.79 304.99h0M590.42 105.22h0M538.85 237.03h0M498.3 319.5h0M500.93 320.76h0M473.82 249.94h0M562.73 204.88h0M516.48 298.68h0M514.11 308.68h0M485.65 262.13h0M484.05 263.46h0M551.89 231.37h0M551.69 222.96h0M525.25 262.84h0M501.3 322.97h0M480.11 261.71h0M503.41 319.29h0M544.55 260.06h0M474.72 206.88h0M483.67 285.37h0M456.82 173.56h0M502.94 323.87h0M487.75 274.67h0M505.14 314.56h0M523.88 286.18h0M536.88 192.25h0M486.38 293.93h0M495.76 305.29h0M520.93 274.12h0M514.76 303.8h0M543.51 249.48h0M455.16 175.5h0M597.45 119.39h0M461.28 239h0M513.57 303.09h0M515.61 281.3h0M530.12 290.15h0M501.96 324.73h0M522.59 239.47h0M556.58 162.82h0M521.92 305.94h0M498.08 310.45h0M548.65 198.08h0M558.49 135.54h0M515.09 292h0M526.95 252.96h0M468.86 272.99h0M484.96 263.08h0M541.44 192.47h0M481.31 280.59h0M521.56 274.13h0M548.76 246.2h0M519.66 267.93h0M550.65 238.04h0M550.57 169.55h0M553.99 140.69h0M467.68 261.26h0M450.01 201.55h0M532.32 252.45h0M515.46 280.96h0M568.8 167.99h0M510.96 295.19h0M519.69 265.35h0M433.9 140.29h0M520.72 248.63h0M477.57 280.04h0M496.95 310.12h0M417.18 112.78h0M449.32 148.91h0M488.41 287.63h0M513.87 286.72h0M473.25 264.66h0M452.7 204.28h0M527.05 249.62h0M538.37 242.43h0M447.17 152.77h0M484.1 290.03h0M506.36 310.4h0M605.69 126.69h0M499.65 322.5h0M532.77 174.1h0M473.78 281.76h0M497.51 319.02h0M497.2 308.26h0M481.01 236.25h0M514.1 279.77h0M506.38 316.45h0M507.6 305.47h0M475.37 200.99h0M519.82 285.98h0M520.57 275.75h0M544.25 212.84h0M483.65 269.84h0M485.75 298.17h0M517.1 280.02h0M582.23 115.41h0M536.8 266.76h0M521.9 240.57h0M473.44 285.62h0M534.67 206.2h0M508.21 300.39h0M532.39 257.68h0M530.38 230.2h0M506.64 316.95h0M490.25 298.91h0M468.85 236.48h0M492.3 309.7h0M534.83 219.01h0M488.55 273.04h0M512.79 307.52h0M501.6 324.46h0M432.34 145.49h0M518.27 289.65h0M538.09 250.84h0M488.41 286.5h0M538.11 144.44h0M485.04 289.74h0M529.77 240.37h0M507.09 313.29h0M549.33 195.91h0M512.07 308.59h0M548.69 219.96h0M493.85 303.2h0M481.73 222.52h0M555.86 154.61h0M491.57 310.18h0M480.77 298.94h0M554.28 225.27h0M513.33 296.89h0M547.66 193.13h0M460.86 174.56h0M507.52 313.01h0M525.54 275.93h0M504.99 318.83h0M514.42 307.05h0M520.66 295.24h0M524.51 278.01h0M486.98 295.15h0M526.64 287.48h0M458.03 237.72h0M479.93 247.51h0M437.58 158.72h0M512.9 301.78h0M517.14 305.87h0M469.48 240.23h0M508.89 298.83h0M528.42 291.05h0M488 260.16h0M493.16 303.13h0M552.94 172.55h0M542.71 210.67h0M454.3 265.89h0M502.33 324.41h0M485.1 253.81h0M551.94 185.06h0M486.47 279.12h0M597.19 115.03h0M488.94 283.55h0M551.55 154.95h0M453.88 195.44h0M535.68 229.06h0M464.64 186.18h0M553.32 130.56h0M471.9 244.23h0M467.39 259.41h0M470.97 245.45h0M455.57 160.58h0M475 230.23h0M507.04 309.45h0M495.86 318.1h0M500.84 322.54h0M500.76 321.16h0M511.89 283.73h0M460.08 257.78h0M466.31 238.52h0M524.28 295.49h0M543.22 258.92h0M549.78 228.22h0M513.18 270.46h0M504.08 319.65h0M464.87 224.53h0M517.29 281.45h0M518.93 264.53h0M500.9 321.31h0M510.15 288.72h0M593.51 183.94h0M499.35 313.5h0M508.5 301.43h0M474.16 296.47h0M524.08 253.05h0M505.04 320.58h0M529.12 282.64h0M507.5 306.6h0M525.65 259.33h0M599.1 121.19h0M464.95 279.97h0M530.86 269.32h0M491.88 279.72h0M513.1 313.94h0M514.1 291.56h0M583.31 188.1h0M501.43 323.51h0M424.3 115.19h0M452.71 250.43h0M585.92 223.06h0M528.9 268.39h0M448.29 242.98h0M546.64 158.67h0M494.05 302.36h0M482.8 256.65h0M501.43 323.96h0M491.97 293.96h0M471.62 223.67h0M547.74 207.04h0M522.69 255.98h0M516.96 252.47h0M503.81 320.1h0M524.72 219.73h0M442.43 236.1h0M551.34 226.37h0M487.47 294.07h0M468.45 235.6h0M507.22 316.83h0M483.77 273.59h0M525.54 281.42h0M505.58 316.17h0M526.12 273.52h0M471.98 255.03h0M465.74 184.21h0M532.73 206.46h0M475.93 258.38h0M498.46 310.04h0M523.19 258.29h0M504.46 318.2h0M514.29 295.81h0M421.18 94.19h0M537.94 262.36h0M455.14 199.01h0M510.37 288.46h0M527.25 241.73h0M494.29 307.02h0M531.77 284.71h0M460.14 195.79h0M445.6 209.08h0M546.46 258.64h0M500.16 319.53h0M490.71 304.99h0M527.15 281.58h0M459 240.54h0M526.71 277.12h0M512.7 301.71h0M478.46 217.11h0M501.11 321.17h0M462.03 193.82h0M500.56 319.91h0M498.93 319.82h0M481.62 286.48h0M517.37 287.3h0M458.75 236.91h0M486.9 282.46h0M477.57 251.78h0M507.27 308.71h0M473.79 246.02h0M492.7 297.28h0M512.14 308.86h0M529.68 185.95h0M474.44 237.56h0M496.76 320.43h0M533.26 261.49h0M483.6 278.93h0M530.75 228.95h0M521.05 264.98h0M538.38 276.46h0M487.78 302.41h0M521.75 292.73h0M482.26 290.71h0M579.25 97.26h0M528.28 260.95h0M567.03 125.17h0M479.62 207.87h0M525.12 248.02h0M532.56 184.21h0M490.79 299.85h0M413.4 195.65h0M580.17 194.27h0M536.92 176.8h0M457.09 111.06h0M459.86 205.56h0M521.48 278.56h0M482.01 259.21h0M458.85 225.83h0M479.28 244.98h0M525.65 269.26h0M543.76 258.27h0M520.96 279.23h0M581.8 119.2h0M541.64 210.39h0M475.3 279.76h0M536.41 206.18h0M474.67 252.3h0M493.52 297.56h0M508.34 306.41h0M515.31 288.08h0M532.53 181.56h0M505.81 317.65h0M457.49 260.88h0M489.25 308.81h0M485.14 239.53h0M515.63 285.14h0M519.27 276.14h0M536.29 255.73h0M487.08 281.31h0M467.83 236.98h0M521.04 253.57h0M528.65 281.48h0M503.93 318.06h0M493.8 304.06h0M484.84 306.79h0M529.4 259.68h0M533.86 231.24h0M515.21 304.16h0M482.52 289.57h0M558.73 169.37h0M478.19 262.72h0M508.74 310.75h0M525.45 294.15h0M552.1 171.23h0M553.69 218.15h0M438.02 110.55h0M500.92 319.83h0M460.66 234.36h0M552.72 134.15h0M529.11 248.46h0M577.63 194.45h0M489.27 277.16h0M504.85 317.52h0M541 212.16h0M481.57 240.17h0M482.57 273.7h0M409.33 132.78h0M467.25 169.44h0M511.25 296.53h0M492.23 302.54h0M505.61 317.91h0M474.59 260.82h0M490.89 313.37h0M546.49 239.32h0M488.65 300.22h0M492.13 294.62h0M495 310.03h0M570.2 200.56h0M486.07 284.51h0M502.29 324.62h0M589.06 188.82h0M530.68 234.71h0M448.97 135.23h0M454.49 223.97h0M544 209.93h0M474.9 234.04h0M431.72 169.66h0M455.4 180.52h0M481.24 259.27h0M543.1 203.04h0M494.92 292.97h0M580.18 171.12h0M486.45 292.1h0M506.06 306.82h0M506.02 310.37h0M506.14 314.12h0M520.48 302.04h0M506.87 313.12h0M498.19 313.78h0M391.8 122.18h0M458.46 213.4h0M549.97 180.51h0M492.05 278.77h0M499.69 320.74h0M532.08 281.54h0M517.47 285.62h0M529.52 262.77h0M545.95 239.75h0M462.36 210.73h0M555.24 149h0M468.12 277.43h0M510.57 307.04h0M478.87 285.7h0M464.3 243.17h0M482.98 247.94h0M499.15 311.18h0M505.75 312.04h0M468.07 253.3h0M518.26 277.31h0M495.65 306.61h0M528.15 260.73h0M504.48 317.69h0M489.2 283.6h0M505.67 314.14h0M512.39 295.45h0M475.9 218.5h0M521.63 283.35h0M519.85 280.04h0M555.48 149.87h0M526.19 281.27h0M498.88 310.38h0M535.16 220.77h0M449.83 232.09h0M558.82 189.34h0M519.55 282.44h0M490.33 279.3h0M439.66 168.34h0M570.72 144.83h0M566.83 221.71h0M504.77 315.92h0M516.76 280.34h0M528.7 239.62h0M485.16 276.35h0M547.4 207.45h0M493.34 301.4h0M468.88 251.8h0M510.66 312.01h0M475.27 252.7h0M533.54 224.65h0M516.19 303.67h0M470.58 225.03h0M549.33 189.91h0M565.26 144.67h0M461.25 223.63h0M500.59 322.97h0M627.62 160.14h0M485.8 292.73h0M524.23 259.61h0M547.11 264.99h0M456.05 161.18h0M490.1 294.57h0M388.88 177.96h0M506.19 315.49h0M535.93 182.41h0M477.9 265.22h0M501.14 322.93h0M473.97 274.42h0M512.23 311.24h0M483.46 253.14h0M558.22 221.65h0M484.2 261.69h0M580.69 142.79h0M452.81 155.88h0M527.59 253.58h0M545.12 253.86h0M526.85 254.41h0M539.31 181.18h0M480.57 264.22h0M504.32 314.82h0M495.42 309.55h0M489.87 280.86h0M492.1 300.23h0M559.4 159.18h0M527.05 212h0M410.63 126h0M472.49 251.6h0M444.77 102.87h0M495.51 310.36h0M447.61 247.82h0M472.75 208.32h0M483.44 283.5h0M472.09 173.16h0M517.53 283.07h0M506.19 319.11h0M450.84 123.35h0M532.74 201.68h0M468.89 249.74h0M484.7 283.71h0M480.5 254.05h0M533.81 259.3h0M462.35 184.66h0M482.2 283.59h0M510.94 312.55h0M510.19 293.05h0M501.07 323.52h0M489.79 306.54h0M539 212.3h0M501.63 324.45h0M493.83 300.38h0M497.7 316.3h0M500.64 323.42h0M525.17 274.57h0M523.87 278.54h0M483.7 258.52h0M512.17 282.75h0M478.02 249.34h0M482.56 281.32h0M586.97 151.7h0M555.06 130.29h0M479.82 244.68h0M504.37 322.25h0M515.22 277.17h0M521.48 248.71h0M513.05 310.95h0M452.3 118.24h0M404.85 137.88h0M464.46 253.84h0M536.08 204.93h0M528.33 277.25h0M479.91 242.69h0M530.68 238.1h0M555.07 231.49h0M459.49 247.12h0M546.57 212.48h0M501.29 323.06h0M522.17 230.76h0M492.61 299.52h0M569.8 165.39h0M479.75 250.21h0M533.49 200.16h0M425.76 217.21h0M497.71 314.9h0M504.57 319.3h0M519.2 297.46h0M498.57 316.72h0M497.39 310.68h0M488.62 274.7h0M469.94 244.9h0M520.75 271.35h0M525.1 277.39h0M491.22 302.48h0M465.5 262.44h0M449.03 173.11h0M482.11 296.23h0M507.56 304.33h0M549.75 199.58h0M466.93 204.29h0M504.72 316.3h0M453.72 181.95h0M452.56 256.24h0M511.12 280.22h0M510.55 293.61h0M439.16 115.81h0M455.42 202.95h0M519.68 292.81h0M502.6 324.17h0M554.96 157.86h0M468.14 205.18h0M472.14 209.13h0M426.78 212.27h0M586.42 189.28h0M475.75 227.54h0M542.77 272.48h0M514.98 300.45h0M565.09 165.44h0M437.84 151.87h0M480.58 272h0M537.75 270.69h0M491.46 275.51h0M515.63 296.75h0M417.27 108.06h0M536.18 206.23h0M582.06 125.48h0M505.14 316.2h0M495.01 293.29h0M486.16 281.28h0M522.09 223.13h0M502.82 323.03h0M516.25 295.37h0M528.95 232.09h0M506.54 307.17h0M489.9 301.14h0M411.93 150.75h0M477.33 283.24h0M541.09 256.09h0M447.07 217.64h0M518.59 256.61h0M498.84 321.38h0M494.4 308.17h0M524.26 254.59h0M575.49 125.98h0M547.65 133.92h0M543.61 198.62h0M496.6 314.8h0M482.9 282.04h0M503.41 322.8h0M548.43 225.03h0M555.09 243h0M492.29 300.24h0M494.27 306.95h0M502.23 324.78h0M497.6 314.25h0M507.67 314.12h0M473.51 250.83h0M476.98 261.72h0M456.3 177.4h0M515.86 277.06h0M525.41 298.02h0M542.02 220.68h0M495.54 299.28h0M436.69 163.26h0M562.86 188.7h0M498.31 317.63h0M497.89 318.33h0M539.6 224.17h0M436.1 220.05h0M438.48 216.62h0M519.63 291.38h0M469.7 233.1h0M443.3 249.46h0M542.12 198.6h0M487.43 282.12h0M457.21 196.68h0M531.17 254.11h0M452.93 244.04h0M455.84 219.88h0M460.94 197.94h0M444.91 224.89h0M485.47 269.67h0M509.59 301.71h0M480.63 273.71h0M429.3 167.97h0M457.73 193.78h0M499.66 316.96h0M554.27 136.15h0M498.85 315.7h0M463.85 219.05h0M504.55 317.54h0M451.33 182.82h0M475.44 244.16h0M505.79 316.61h0M558.2 266.07h0M515.26 287.6h0M543.25 150.4h0M524.47 280.13h0M421.47 206.61h0M452 175.42h0M573.78 136.96h0M539.19 263.86h0M516.92 279.46h0M464.36 213.2h0M507.98 297.55h0M518.13 297.23h0M572.19 234.58h0M487.08 307.05h0M493.78 292.42h0M495.07 304.46h0M495.47 303.01h0M524.85 254.22h0M482.86 278.86h0M490.59 278.58h0M511.56 291.19h0M557.93 202.89h0M506.5 315.68h0M529.55 265.48h0M514.61 271.82h0M452 203.33h0M489.31 303.45h0M494.72 303.83h0M528.73 223.84h0M498.46 313.85h0M490.33 305.73h0M542.69 254.49h0M500.93 320.79h0M539.04 237.58h0M497.93 318.64h0M535.81 275.35h0M530.02 179.15h0M461.57 210.25h0M510.5 297.91h0M500.88 322.17h0M484.28 303.06h0M519.64 283.52h0M538.59 194.72h0M533.86 282.84h0M515.58 302.19h0M488.27 293.46h0M471.86 265.92h0M504.6 318h0M506.31 315.2h0M547.8 138.26h0M399.75 162.64h0M498.64 317.26h0M466.61 206.03h0M484.27 299.25h0M547.67 255.62h0M454.44 249.2h0M562.61 177.16h0M463.91 248.61h0M503.61 319.51h0M434.83 113.39h0M499.72 316.3h0M547.54 238.68h0M527.8 244.24h0M539.52 234.68h0M527.75 249.44h0M498.42 316.37h0M508.77 303.16h0M486.87 274.07h0M481.6 245.62h0M529.18 256.36h0M546.79 230.63h0M525.41 224.67h0M484.83 295.14h0M522.44 296.33h0M507.93 304.55h0M468.02 224.77h0M494.82 297.89h0M528.22 281.61h0M506.97 319.11h0M486.68 288.41h0M498.56 307.84h0M512.39 310.25h0M482.29 232.62h0M552.27 213.76h0M523.92 274.17h0M528.14 251.73h0M529.96 240.52h0M535.49 206.02h0M481.31 259.98h0M549.06 240.75h0M497.87 315.71h0M502.99 322.48h0M531.45 217.47h0M458.66 159.81h0M515.01 284.33h0M551.19 224.76h0M490.32 299.81h0M465.71 236.88h0M510.44 297.33h0M494.3 303.56h0M497.48 315.69h0M551.46 112.72h0M521.46 247.77h0M517.55 285.98h0M509.14 295.62h0M517.76 296.41h0M464.15 259.05h0M467.84 217.25h0M524.32 279.26h0M518.21 262.41h0M450.31 113.94h0M533 279.92h0M484.04 293.08h0M539.38 293.57h0M550.5 282.1h0M430.01 163.96h0M445.07 185.11h0M537.67 188.6h0M506.36 314.49h0M528.84 247.58h0M501.22 323.31h0M490.27 275.45h0M478.96 255.86h0M477.3 208.89h0M461.24 254.17h0M544.54 121.24h0M531.19 291.49h0M550.94 245.29h0M475.25 239.93h0M517.19 288.76h0M548.12 271.75h0M487.77 252.46h0M484.4 286.66h0M430.08 225.74h0M514.39 299.94h0M530.69 259.88h0M496.92 310.52h0M557.41 125.22h0M476.09 251.08h0M517.8 282.96h0M534.74 255.46h0M507.9 312.05h0M548.95 233.88h0M538.68 227.17h0M491.77 299.2h0M505.96 315.32h0M513.6 287.69h0M499.47 314.43h0M506.96 304.35h0M465.66 153.97h0M501.38 323.37h0M475.54 208.62h0M494.12 294.63h0M492.85 300h0M541.79 242.92h0M512.37 300.24h0M532.71 221.67h0M509.31 303.92h0M511.74 305.56h0M528 255.6h0M555.15 227.56h0M503.24 321.04h0M470.67 211.74h0M549.01 127.44h0M575.06 187.99h0M602.07 181.25h0M516.16 279.7h0M523.22 253.34h0M487.23 299.07h0M508.92 304.47h0M488 290.32h0M482.5 273.96h0M456.32 104.78h0M536.67 273.5h0M494.47 312.33h0M533.12 268.94h0M516.86 282.08h0M525.05 241.12h0M473.23 247.23h0M498.52 311.57h0M561.75 182.04h0M476.11 250h0M540.12 203.34h0M462.34 228.85h0M495.95 301.39h0M521.53 254.18h0M465.09 220.89h0M538.96 212.26h0M506.24 316.92h0M455.84 209.89h0M444.3 187.25h0M473.47 240.22h0M487 260.37h0M447.78 142.35h0M488.58 295.43h0M540 194.48h0M486.28 275.3h0M450.8 195.81h0M539.06 207.13h0M487.58 299.85h0M486.22 272.62h0M482.21 266.09h0M528.39 283.74h0M537.51 234.84h0M520.38 301.74h0M560.18 184.31h0M471.68 277.28h0M485.1 289.19h0M407.21 129.06h0M485.02 299h0M526.55 271.82h0M452.85 173.14h0M526.52 256.92h0M494.45 304.52h0M472 275.96h0M546.29 246.03h0M465.36 236.34h0M501.18 322.8h0M505.93 315.88h0M526.72 283.6h0M478.9 296.29h0M505.52 317.13h0M491.93 287.01h0M486.89 262.58h0M555.09 259.66h0M553.14 114.75h0M493.66 303.72h0M494.28 296.94h0M492.38 300.67h0M531.54 260.65h0M501.29 323.3h0M538.78 262.01h0M512.44 312.65h0M503.93 316.29h0M458.51 273.6h0M524.22 286.99h0M488.61 278.74h0M503.83 322.42h0M485.28 286.36h0M514.85 276.79h0M516.03 281.36h0M523 236.73h0M468.83 260.3h0M557.12 165h0M540.88 267.14h0M503.16 321.17h0M523.11 298.4h0M479.29 257.87h0M440.33 229.07h0M505.61 320.03h0M492.6 303.97h0M529.82 256.32h0M459.97 198.58h0M514.1 293.85h0M463.13 243.37h0M465.06 255.02h0M529.93 282.04h0M421.12 175.8h0M415.51 104.65h0M478.83 240.27h0M530.57 226.45h0M502.04 325.01h0M486.15 294.18h0M539.44 260.17h0M518.68 270.02h0M519.81 270.54h0M491.62 274.11h0M411.53 132.74h0M448.79 276.67h0M532.32 216.23h0M473.71 221.62h0M508.79 299.02h0M505.14 317.19h0M510.21 288.37h0M440.32 260.57h0M510.78 300.63h0M572.24 212.55h0M510.88 291.32h0M506.03 314.55h0M504.63 320.95h0M490.52 265.39h0M505.89 316.64h0M516.94 307.87h0M487.18 287.15h0M500.01 317.32h0M497.46 312.91h0M530.47 193.12h0M510.21 310.11h0M475.69 259.18h0M455.9 205.36h0M491.77 287.42h0M513.62 303.86h0M532.05 175.28h0M516.05 297.29h0M498.65 313.07h0M523.04 234.42h0M481.06 250.41h0M519.76 286.49h0M530.61 277.87h0M539 290.74h0M487.82 295.27h0M528.02 255.52h0M532.45 240.05h0M493.89 306.13h0M499.98 318.11h0M489.85 283.5h0M504.74 318.96h0M537.26 250.7h0M567.31 123.92h0M556.71 182.28h0M534.14 280.3h0M478.92 298.52h0M605.04 103.64h0M481.64 293.72h0M482.29 290.28h0M480.07 212.93h0M529.39 261.34h0M501.29 321.2h0M514.64 289.23h0M445.51 152.33h0M532.03 276.71h0M492.31 296.24h0M460.61 136.59h0M527.92 248.05h0M455.26 154.5h0M494.84 294.86h0M429.46 181.49h0M514.91 288.74h0M503.34 323.38h0M543.17 224.68h0M497.88 319.7h0M483.79 263.41h0M472.63 225.64h0M434.16 143.93h0M467.63 273.28h0M508.79 310.01h0M531.17 202.78h0M480.71 273.34h0M485.49 242.13h0M493.25 299.97h0M549.88 162.72h0M399.55 187.55h0M576.62 166.81h0M532.57 275.37h0M489.18 290.95h0M544.2 249.39h0M461.77 196.56h0M547.97 221.26h0M510.17 305.51h0M452.56 204.14h0M492.3 299.61h0M556.16 118.31h0M475.24 268.37h0M509.89 303.69h0M530.27 233.22h0M529.12 256.46h0M540.46 250.95h0M468.6 240.37h0M546.19 201.21h0M543.29 253.44h0M509.02 295.39h0M523.04 282.97h0M509.01 303.43h0M504.48 318.85h0M506.36 314.21h0M537.25 281.63h0M467.26 145.15h0M474.01 271.65h0M479.69 270.85h0M520.29 267.11h0M493.12 301.82h0M533.52 284.71h0M466.54 161.68h0M465.55 272.8h0M485.58 297.7h0M482.96 287.58h0M443.31 213.71h0M478.44 289.17h0M510.45 301.37h0M464.67 242.26h0M460.03 167.67h0M503.4 322.23h0M538.46 283.95h0M511.96 304.57h0M545.6 144.82h0M514.06 305.1h0M544.61 238.22h0M489.43 297.35h0M466 192.01h0M563.58 165.27h0M510.17 287.63h0M494.32 314.87h0M535.8 220.42h0M497.03 308.73h0M542.22 226.73h0M552.34 221.83h0M531.28 206.77h0M494.99 294.44h0M487.01 290.04h0M509.46 309.63h0M513.44 308.86h0M509.96 307.11h0M502.33 324.77h0M471.32 230.85h0M477.25 254.8h0M470.76 263.2h0M568.34 186.69h0M482.53 290.98h0M476.14 236.57h0M470.06 262.47h0M547.74 115.63h0M532.22 172.7h0M498.97 308.13h0M527.89 230.68h0M522.34 263.17h0M545.98 240.82h0M498.71 318.47h0M445.53 97.96h0M512.53 291.63h0M513.56 293.61h0M503.51 321.28h0M541.33 258.24h0M480.06 284.7h0M492.15 310.58h0M480.54 276.78h0M500.53 320.76h0M484.69 275.04h0M494.55 310.06h0M458.31 240.49h0M515.9 302.6h0M481.46 293.1h0M514.98 276.59h0M505.44 313.69h0M523.58 282.93h0M474.62 227.93h0M513.28 302.88h0M509.06 296.74h0M504.61 321.64h0M468.81 266h0M518.51 283.65h0M454.54 175.86h0M523.39 272.58h0M516.91 260.45h0M488.84 279.16h0M440.66 220.56h0M513.81 291.4h0M480.97 290.96h0M487.55 291.4h0M470.34 196.44h0M520.71 232.89h0M457.23 210.9h0M510.53 296.31h0M486.89 278.41h0M391.72 210.51h0M447.14 137.6h0M511.88 296.61h0M486.18 288.69h0M452.59 139.41h0M512.1 310.16h0M512.08 302.2h0M509.67 314.27h0M491.16 288.97h0M451.93 147.83h0M513.48 287.5h0M493.91 292.53h0M509.79 296.12h0M534.79 244.82h0M474.09 256.37h0M482.27 269.9h0M490.43 290.27h0M543.06 254.83h0M464.97 259.5h0M483.31 287.26h0M472.46 279.97h0M512.12 303.73h0M433.58 147.18h0M480.23 279.51h0M587.54 175.41h0M499.57 322.36h0M514.18 291.83h0M473.8 251.09h0M488.29 269.68h0M525.74 246.4h0M467.26 181.45h0M510.51 300.09h0M508.17 307.74h0M591.49 168.56h0M548.41 200.8h0M569.41 114.36h0M491.68 288.91h0M523.45 239.8h0M450.89 251.64h0M486.48 297.22h0M522.44 244.84h0M547.04 158.41h0M535.15 247.49h0M521.22 287.19h0M539.58 215.63h0M455.74 109.07h0M528.11 226.73h0M484.41 260.79h0M469.32 288h0M433.1 225.02h0M524.79 277.85h0M566.32 108.12h0M516.18 275.91h0M477.63 278.28h0M457.6 116.13h0M514.18 303.21h0M474.56 209.07h0M459.18 252.49h0M565.38 192.99h0M489.08 291.7h0M492.69 301.12h0M492.22 295.25h0M550.02 278.14h0M509.97 301.43h0M506.26 314.21h0M465.55 236.19h0M555.22 161.5h0M570.05 222.82h0M473.28 221.21h0M469.53 212.37h0M543.64 136.22h0M539.18 241.32h0M531.78 234.47h0M513.29 297.47h0M511.2 308.11h0M481.92 255.89h0M531.9 226.98h0M523.54 297.17h0M526.9 218.3h0M537.46 265.62h0M494.35 309.36h0M536.25 269.66h0M512.35 301.28h0M496.25 309.62h0M470.69 196.79h0M513.09 295.13h0M497.48 312.52h0M519.47 256.95h0M470.42 273.47h0M580.45 210.38h0M412.64 154.14h0M510.68 307.69h0M535.26 269.39h0M470.66 239.83h0M488.23 305h0M486.32 267.12h0M551.1 236.27h0M466.34 182.79h0M518.29 292.59h0M517.05 284.46h0M495.15 310.56h0M521.41 255.45h0M542.35 217.92h0M483.41 283.15h0M473.21 283.6h0M512.58 301.94h0M493.5 300.08h0M538.11 270.34h0M538.63 272.43h0M498.67 320.29h0M485.54 304.63h0M504.62 320.46h0M435.18 230.38h0M467.2 268.42h0M503.19 323.23h0M514.22 265.91h0M508.87 305.34h0M533.24 163.47h0M564.33 105.51h0M558.65 188.04h0M498.27 307.93h0M542.34 202.95h0M539.28 186.44h0M539.61 229.11h0M497.13 306.38h0M529.23 269.68h0M532.22 246.28h0M544.83 216.79h0M486.88 291.87h0M466.8 244.31h0M484.8 299.54h0M493.64 305.37h0M508 294.75h0M525.19 251.56h0M499.27 318.09h0M550.98 230.41h0M457.37 222.67h0M513.85 294.06h0M498.34 319.05h0M570.59 246.58h0M508.15 316.5h0M492.42 304.58h0M447.76 214.12h0M550.61 193.54h0M516.35 299.33h0M511.62 293.86h0M477.3 271.91h0M466.49 258.67h0M500.59 321.88h0M514.64 285.22h0M525.42 246.43h0M472.01 286.8h0M470.57 204.97h0M506.28 315.07h0M504.09 319.76h0M463.43 158.29h0M462.49 216.83h0M504.15 321.83h0M529.3 226.15h0M524.99 246.86h0M509.46 310.04h0M500.07 321.03h0M485.62 286.65h0M530.37 233.79h0M455.49 172.18h0M459.23 170.26h0M532.16 263.17h0M583.97 167.41h0M498.53 315.57h0M534.99 238.2h0M523.85 274.71h0M511.83 307.3h0M476.2 259.28h0M452.76 132.65h0M507.09 308.61h0M523.53 305.04h0M467.71 266.22h0M501.69 324.75h0M547.42 233.9h0M462.71 180.18h0M491.12 285.9h0M463.77 234.98h0M478.83 263.99h0M426.17 121.3h0M514.3 300.6h0M491.79 277.62h0M461.82 265.45h0M475.23 246.48h0M471.38 274.02h0M523.4 263.57h0M465.89 263.22h0M518.04 305.85h0M470.5 201.53h0M522.95 266.92h0M520.03 288.6h0M505.93 320.27h0M523.24 295.27h0M473.75 236.32h0M522.2 274.01h0M515.9 292.29h0M508.79 316.55h0M458.95 130.27h0M493.17 301.81h0M510.13 303.34h0M465.61 257.17h0M483.61 295.77h0M517.85 297.9h0M498.01 317.75h0M530.58 276.43h0M494.01 291.67h0M498.64 314.77h0M462.95 247.67h0M472.88 268.33h0M485.68 261.07h0M541.04 187.64h0M446.54 218.54h0M490.11 284.38h0M562.44 220.87h0M497.06 319.44h0M520.89 280.13h0M499.1 319.14h0M462.11 237.58h0M528.51 282.46h0M560.16 255.92h0M461.05 240.73h0M451.99 189h0M467.9 201.73h0M510.1 303.73h0M437.75 127.49h0M514.17 304.16h0M471.94 275.87h0M523.68 262.11h0M528.92 257.8h0M500.54 322.28h0M478.62 249.32h0M464.87 252.05h0M490.62 299.36h0M504.73 320.4h0M509.98 291.66h0M530.77 264.61h0M545.75 165.36h0M435.2 173.33h0M535.64 235.46h0M571.64 171.57h0M555.35 202.5h0M475.2 280.52h0M452.13 196.54h0M517.97 301.46h0M485.78 274.47h0M519.53 286.69h0M501.6 324.03h0M476.58 258.72h0M506.39 313.28h0M556.33 211.34h0M525.59 266.72h0M547.66 241.06h0M486.93 284.09h0M486.64 308.06h0M511.48 313.31h0M452.19 173.81h0M467.02 256.44h0M461.33 187.95h0M489.38 305.46h0M519.37 281.61h0M468.63 248.02h0M533.9 259.83h0M513.9 300.01h0M492.93 313.17h0M536.95 134.47h0M503.37 322.47h0M498.06 319.07h0M540.8 170.87h0M547.38 208.4h0M522.47 250.74h0M487.12 281.6h0M523.76 235.39h0M531.21 253.62h0M549.83 181.35h0M518.14 304.42h0M429.92 155.55h0M533.12 234.4h0M483.65 257.12h0M468.29 208.97h0M544.75 205.63h0M548.49 236.27h0M501.68 324.72h0M515.6 289.73h0M500.57 322.39h0M500.06 322.74h0M525.43 268.32h0M507.33 301.9h0M472.49 237.11h0M548.71 247.09h0M453.74 284h0M444.94 178.02h0M492.67 292.04h0M560.49 199.2h0M560.4 202.58h0M441.1 88.67h0M477.75 264.98h0M496.64 312.18h0M464.48 216.84h0M494.38 312.89h0M480.61 261.68h0M482.51 256.87h0M545.62 179.59h0M552.56 99.12h0M484.84 245.33h0M525.62 210.09h0M479.53 242.67h0M546.79 219.79h0M485.63 299.04h0M542.71 172.21h0M548.43 161.75h0M503.48 321.41h0M455.83 222.52h0M514.04 305.27h0M479.54 271.03h0M538.37 259.31h0M520.61 234.58h0M558.88 226.32h0M629.78 129.32h0M513.28 293.02h0M480.15 245.41h0M525.85 242.63h0M483.84 248.44h0M498.26 317.39h0M414.28 96.3h0M531.46 216.3h0M500.53 321.25h0M490.96 312.38h0M541.87 242.07h0M466 255.69h0M470.95 262.26h0M510.38 308.14h0M523.71 247.13h0M511.15 308.01h0M439.82 142.73h0M525 305.42h0M505.95 309.25h0M473.81 263.71h0M511 297.45h0M511.6 295.13h0M494.16 303.6h0M553 192.9h0M506.21 317.74h0M539.71 214.52h0M466.78 212.54h0M505 321.03h0M523.87 278.19h0M455.42 130.49h0M468.47 245.54h0M507.39 314.9h0M498.82 317.62h0M429.13 145.65h0M509.17 303.58h0M500.57 322.08h0M519.32 244.67h0M475.09 248.22h0M471.18 243.49h0M496.24 301.02h0M516.94 294.74h0M470.05 249.81h0M507.56 298.18h0M501.41 324.14h0M521.29 241.54h0M461.93 167.48h0M520.37 283.7h0M501.17 320.83h0M516.65 285.37h0M524.23 245.43h0M507.7 309.58h0M523.9 251.55h0M455.9 205.4h0M474.21 204h0M530.99 226.47h0M501.32 323.89h0M541.57 243.35h0M529.13 242.62h0M510.54 297.91h0M477.3 233.98h0M484.23 275.53h0M540.81 241.78h0M545.42 240.02h0M520.88 291.7h0M483.9 309.82h0M498.08 314.04h0M530.97 256.09h0M516.95 268.21h0M484.55 254.71h0M549.69 244.68h0M493.13 309.66h0M475.51 247.73h0M475.21 264.44h0M533.16 239.8h0M511.03 296.8h0M498.93 315.12h0M500.95 322.26h0M486.09 274.19h0M511.76 302.09h0M488.32 302.93h0M477.44 258.69h0M513.17 288.18h0M563.78 164.31h0M476.1 243.92h0M505.94 315.92h0M519.26 307.06h0M510.43 301.47h0M490.58 294.12h0M543.22 201.04h0M505.46 311.84h0M532.84 257.3h0M487.84 295.24h0M485.88 269.8h0M473.26 266.58h0M559.71 139.33h0M513.63 297.09h0M537.15 173.41h0M512.88 287.42h0M501.85 324.43h0M513.57 301.2h0M480.45 268.43h0M520.24 273.22h0M499.53 318.05h0M558.35 179.28h0M522.45 217.02h0M508.39 304.57h0M518.29 276.15h0M501.35 324.03h0M505.38 316.3h0M543.43 216.62h0M479.38 277.78h0M506.96 304.35h0M524.69 282.42h0M502.42 324.83h0M562.17 92.81h0M490.62 295.21h0M519.19 256.58h0M514.05 300.26h0M399 106.2h0M521.77 271.99h0M464.94 233.69h0M470.92 256.76h0M524.33 255.29h0M540.41 270.03h0M508.34 305.01h0M543.29 215.43h0M558.48 262.42h0M502.33 324.59h0M515.2 301.8h0M547.67 260.3h0M473.8 275.53h0M515.14 303.22h0M534.91 144.62h0M482.32 236.4h0M486.49 291.1h0M470.6 254.06h0M474.85 234.31h0M498.66 316.74h0M524.77 225.72h0M573.11 134.38h0M497 308.74h0M535.28 192.74h0M516.06 275.9h0M531.52 259.69h0M480.24 237.23h0M500.43 321.93h0M527.46 213.69h0M545.86 211.92h0M453.22 193.71h0M480.32 230.12h0M539.55 243.03h0M540.54 252.9h0M472.6 277.49h0M507.83 313.74h0M518.86 265.73h0M467.03 190.4h0M508.61 314.54h0M486.04 285.97h0M457.57 246.51h0M481.3 256.38h0M578.38 144.44h0M577.71 96.2h0M459.47 97.85h0M486.56 295.16h0M438.78 108.6h0M481.46 300.83h0M529.98 252.63h0M525.97 265.17h0M513.84 302.83h0M480.79 263.82h0M477.91 247.95h0M476.22 221.89h0M468.74 223.13h0M526.16 252.88h0M515.24 299.71h0M524.55 251.94h0M467.32 223.13h0M439.63 167.06h0M484.61 269.14h0M506.58 314.83h0M467.4 199.37h0M538.42 239.12h0M484.24 281.88h0M473.48 249.31h0M513.89 289.44h0M571.45 147.07h0M498.27 316.17h0M508.91 304.5h0M507.24 309.76h0M566.91 206.91h0M566.87 149.91h0M511.21 309.4h0M517.27 290.28h0M492.18 293.75h0M459.4 232.44h0M552.47 144.9h0M533.56 192.14h0M533.84 185.51h0M530.41 218.67h0M522.31 221.66h0M475.18 256.35h0M533.35 223.82h0M602.72 171.22h0M533.02 225.64h0M531.33 276.44h0M493.86 307.66h0M543.14 207.38h0M461.64 274.6h0M543.43 186.68h0M524.08 266.06h0M514.77 282.26h0M468.78 222.25h0M504.28 316.42h0M558.69 182.21h0M531.93 228.99h0M483.72 254.27h0M539.45 268.3h0M462.21 172.12h0M501.51 323.25h0M486.56 282.61h0M479.94 300.96h0M554.52 124.31h0M533.07 197.83h0M521.66 292.33h0M533.86 221.62h0M533.16 203.82h0M536.26 241.88h0M512.98 285.4h0M558.22 138.17h0M508.78 304.28h0M465.68 169.27h0M491.42 291.49h0M544.02 156h0M509.94 307.84h0M542.22 187.89h0M552.43 114.12h0M513.23 265.25h0M525.96 288.26h0M531.25 269.76h0M515.03 296.71h0M444.01 163.91h0M574.44 163.53h0M485.04 260.71h0M472.7 260.2h0M466.29 202.28h0M453.19 271.73h0M508.03 316.52h0M470.62 190.73h0M486.56 258.79h0M509.26 305.77h0M509.95 307h0M486.93 299.08h0M480.14 288.02h0M371.95 155.54h0M509.76 315.58h0M501.66 323h0M502.71 323.68h0M492.8 298.28h0M523.3 240.14h0M560.48 220.57h0M527.69 259.42h0M561.3 223.77h0M494.22 305.78h0M432.03 137.42h0M471.16 180.8h0M521.9 301.63h0M476.23 277.75h0M499.63 318.17h0M478.94 272.32h0M491.73 286.85h0M480.13 287.31h0M636.94 191.04h0M658.73 123.96h0M607.65 242.64h0M611.06 222h0M600.85 206.52h0M621.27 149.76h0M605.61 170.4h0M379.52 175.56h0M382.93 201.36h0M396.55 191.04h0M413.57 247.8h0M420.38 289.08h0M421.74 281.34h0M585.18 227.16h0M631.49 98.16h0M597.44 87.84h0M372.71 98.16h0M376.12 113.64h0M393.14 103.32h0M403.36 160.08h0" stroke="#4c4c4c" stroke-width="4.0"/><path d="M505.55 317.57h0M466.25 192.83h0M507.02 309.68h0M485.12 282.63h0M510.73 293.91h0M546.13 245.36h0M390.62 126.87h0M491.61 294.72h0M511.51 316.74h0M484.78 295.49h0M437.39 192.01h0M482.63 282.17h0M504.59 321.29h0M501.57 324.47h0M459.88 234.51h0M459.23 286.17h0M491.02 297.34h0M460.83 194.43h0M499.77 316.99h0M521.88 264.78h0M514.02 292.27h0M450.82 174.06h0M529.19 238.56h0M480.45 281.86h0M487.44 266.3h0M533.12 197.31h0M499.33 318.05h0M495.23 305.04h0M494.59 298.32h0M493.38 315.21h0M504.79 317.55h0M543.57 233.07h0M461.11 158.79h0M419.92 266.76h0M508.87 305.28h0M483.25 292.05h0M498.51 316.76h0M532.3 264.69h0M507.34 308.33h0M480.67 212.94h0M509.42 293.44h0M392.31 177.98h0M441.55 200.71h0M541.82 246.39h0M513.82 287.77h0M558.64 160.33h0M497.17 310.48h0M484.6 256.61h0M468 259.32h0M501.21 322.21h0M476.23 207.2h0M505.83 315.79h0M436.58 149.07h0M468.75 214.67h0M485.71 287.02h0M495.89 312.56h0M532.24 276.15h0M480.5 255.92h0M497.67 310.36h0M562.33 207.93h0M504.1 320.19h0M530.54 239.69h0M506.09 317.92h0M522.1 295.53h0M531.68 267.59h0M521.18 254.53h0M544.03 100.56h0M468.28 265.03h0M524.89 259.9h0M423.07 113.81h0M466.7 286.48h0M507.24 312.97h0M448.37 187.57h0M503.54 322.29h0M470.24 237.91h0M514.67 297.46h0M512.81 309.51h0M538.47 200.26h0M441.35 197.91h0M502.6 322.7h0M547.48 111.31h0M448.43 206.94h0M474.53 274.37h0M508.07 305.21h0M544.44 256.47h0M503.6 321.31h0M524.21 288.72h0M528.64 233.31h0M454.93 155.16h0M473.43 280.05h0M491.46 309.41h0M509.87 314.02h0M500.78 322.32h0M505.37 312.88h0M494.32 297.84h0M528.87 254.11h0M495.43 306.48h0M551.98 235.14h0M478.39 256.84h0M523.43 228.65h0M462.37 255.06h0M489.57 310.67h0M512.64 275.94h0M480.21 287.17h0M519.39 247.56h0M532.01 265.89h0M505.4 315.29h0M469.32 243.38h0M475.79 236.12h0M531.52 286.7h0M517.59 282.1h0M468.84 249.64h0M546.35 212.57h0M467.17 261.35h0M498.34 312.55h0M494.13 316.08h0M502.89 323.35h0M526.52 268.1h0M535.45 241.74h0M530.73 257.38h0M432.03 123.72h0M518.53 275.41h0M460.77 204.57h0M495.59 310.39h0M473.29 276.2h0M551.14 215.66h0M499.99 319.38h0M421.7 153.97h0M498.85 319.49h0M419.52 155.45h0M521.47 300.45h0M517.15 287.45h0M530.9 253.65h0M546.46 183.33h0M489.58 282.29h0M602.28 94.17h0M482.12 266.98h0M494.57 310.65h0M540.55 217.99h0M483.45 279.63h0M478.62 297.24h0M443.55 219.97h0M561.4 226.17h0M470.97 221.04h0M492.42 290.52h0M520.49 269.7h0M527.78 285h0M503.02 321.84h0M506.94 313.29h0M502.79 324.28h0M423.16 92.74h0M507.75 310.95h0M452.4 226.76h0M523.46 232.16h0M532.59 279.28h0M448.75 174.31h0M579.9 104.57h0M504.44 314.49h0M546.62 256.05h0M496.37 316.93h0M533.09 217.24h0M460.56 255.94h0M479.96 278.72h0M485.09 264.64h0M490.5 281.68h0M500.41 317.44h0M504.52 314.7h0M498.94 318.75h0M475.95 296.22h0M472.18 263.01h0M515.06 263.76h0M466.61 218.25h0M513.96 293.29h0M509.42 294.06h0M479.96 245h0M511.23 304.69h0M485.75 276.87h0M485.13 266.78h0M513.65 271.65h0M491.39 305.83h0M520.97 283.7h0M522.67 301.05h0M525.78 225.93h0M456.12 233.22h0M539.51 252.13h0M541.14 228.72h0M529 232.17h0M488.52 283.33h0M511.7 300.61h0M501.44 321.99h0M482.25 286.24h0M508.52 309.05h0M503.86 319.96h0M539.92 231.68h0M523.95 271.09h0M526.84 271.43h0M432.71 157.56h0M534.47 218.05h0M505.07 317.78h0M501.64 323.96h0M550.44 256.64h0M514.23 284.95h0M504.38 318.29h0M499.52 317.62h0M554.47 101.94h0M466.49 237.22h0M526.76 233.47h0M474 238.04h0M462.03 180.88h0M526.26 257.66h0M498.92 317.39h0M474.96 251.51h0M528.08 264.91h0M508.45 300.22h0M511.48 295.6h0M493.64 314.45h0M576.32 91.93h0M563.07 194.83h0M509.2 312.78h0M475.37 259.41h0M530.37 238.58h0M467.48 239.93h0M546.72 205.18h0M491.25 302.06h0M520.7 283.76h0M495.64 309.23h0M534.08 162.64h0M557.91 248.54h0M441.12 149.97h0M518.39 280.17h0M490.31 295.16h0M442.32 189.69h0M529.63 269.43h0M486.96 313.76h0M527.01 277.44h0M501.08 323.37h0M480.46 299.11h0M504.84 317.58h0M544.52 223.47h0M494.87 291.12h0M501.04 322.24h0M589.66 105.48h0M521.21 271.63h0M499.58 317.32h0M508.42 312.21h0M509.04 311.15h0M525.62 264.6h0M457.05 226.38h0M483.92 281.31h0M483.45 268.54h0M566.51 119.62h0M466.17 270.77h0M524.94 241.7h0M501.4 323.21h0M501.87 324.52h0M528.05 244.36h0M519.18 247.94h0M447.01 254.62h0M517.71 282.14h0M511.28 305.21h0M494.64 307.57h0M509.61 301.63h0M477.64 257.33h0M636.7 109.2h0M479.98 230.25h0M487 283.78h0M462.99 231.78h0M442.56 141.08h0M491.75 293.07h0M530.05 266.46h0M477.39 253.65h0M447.18 259.88h0M511.29 306.03h0M546.74 259.94h0M577.7 171.9h0M502.72 322.88h0M469.52 233.8h0M506.04 314.68h0M514.59 292h0M523.88 279.36h0M514.25 298.65h0M468.97 238.79h0M536.42 182.89h0M495.45 316.12h0M461.72 200.74h0M465.78 206.88h0M466.94 147h0M528.45 271.47h0M498.92 319.57h0M507.95 314.73h0M544.2 111.04h0M513.94 305.21h0M531.8 234.81h0M458.61 195.17h0M529.65 228.81h0M548.85 225.4h0M500.5 322.37h0M558.59 176.16h0M552.4 171.94h0M495.13 313.51h0M491.2 294.84h0M483.49 279.75h0M481.66 260.88h0M506.8 314.16h0M543.22 234.57h0M542.11 182.98h0M480.58 233.65h0M548.37 191.73h0M475.06 211.22h0M532.69 238.84h0M529.66 277.32h0M433.64 120.89h0M542.7 109.2h0M523.89 242.63h0M445.22 185.76h0M501.24 323.07h0M543.14 178.28h0M520.95 284.94h0M495.9 303.2h0M479.81 293.53h0M527.53 278.11h0M521.69 306.67h0M513.93 300.26h0M477.07 264.84h0M507.68 302.47h0M431.41 142.43h0M522.59 243.58h0M497.97 317.98h0M481.43 305.28h0M544.01 209.16h0M493.24 316.02h0M474.23 237.01h0M535.96 183.74h0M488.22 288.4h0M454.75 100.66h0M566.28 193.12h0M494 302.72h0M485.11 269.48h0M484.61 271.2h0M439.15 123.45h0M484.75 309.95h0M568.82 130.38h0M559.09 163.63h0M498.11 312.53h0M497.44 314.12h0M499.73 319.36h0M505.5 308.93h0M516.36 285.66h0M531.32 275.02h0M546.78 161.22h0M511.37 309.95h0M463.21 233.8h0M483.57 281.33h0M536.06 255.09h0M458.98 185.28h0M500.53 320.78h0M521.91 291.47h0M500.34 322.6h0M476.83 283.78h0M472.15 282.93h0M512.84 307.84h0M427.87 164.69h0M543.25 141.82h0M491.13 279.86h0M550.4 149.76h0M532.74 247.57h0M508.12 302.68h0M507.44 312.17h0M430.42 202.83h0M500.18 320.88h0M480.98 224.09h0M475.37 247.28h0M461.94 245.04h0M527.58 249.04h0M401.66 100.25h0M486.93 279.99h0M505.32 319.02h0M498.18 309.56h0M512.32 297.33h0M491.04 293.72h0M533.73 226.37h0M500.43 321.41h0M514.49 305.58h0M529.85 230.96h0M496.13 307.61h0M497.75 318.58h0M497.79 309.31h0M449.72 121h0M549.55 168.63h0M522.25 285.07h0M476.91 258.09h0M522.22 284.68h0M535.14 192.87h0M444.67 158.08h0M494.35 295.08h0M481.66 246.91h0M511.61 303.18h0M540.52 213.9h0M481.24 301.3h0M555.85 237.69h0M590.18 94.7h0M513.08 292.94h0M538.91 164.17h0M510.69 285.04h0M517.8 298.76h0M487.03 275.05h0M501.76 324.38h0M547.02 209.74h0M487.97 297.37h0M550.16 264.2h0M557.63 221.2h0M429.69 119.92h0M482.54 295.92h0M552.35 217.38h0M498.25 314.36h0M485.19 283.32h0M445.38 223.09h0M510.83 312h0M555.79 145.89h0M486.41 278.33h0M557.03 224.39h0M468.89 229.71h0M506.61 319.08h0M522.01 296.25h0M544.5 222h0M580.13 139.92h0M513.36 285.94h0M523.5 251.34h0M508.31 309.1h0M448.94 170.65h0M410.85 207.17h0M514.31 283.93h0M485.57 291.56h0M497.72 312.71h0M434.92 156.67h0M523.55 277.3h0M521.84 246.72h0M524.55 282.11h0M495.13 314.37h0M416.18 182.83h0M472.69 218.83h0M539.44 256.97h0M534.18 221.66h0M588.94 117.08h0M482.15 230.68h0M489.08 288.19h0M510.17 302.02h0M503.11 321.34h0M504.34 314.7h0M495.72 310.6h0M488.6 263.04h0M454.4 232.17h0M534.62 237.73h0M483.3 281.92h0M532.05 250.03h0M532 251.23h0M429.78 118.91h0M498.03 309.71h0M532.86 273.58h0M476.52 262.41h0M539.87 230.02h0M466.88 297.03h0M450.07 125.04h0M468.17 268.49h0M511.85 301.59h0M521.32 245.13h0M507.11 308.68h0M525.22 253.79h0M502.31 324.53h0M482.67 288.58h0M533.94 276.14h0M516.02 292.78h0M581.08 126.68h0M496.92 310.68h0M488.36 282.86h0M489.46 296.37h0M556.74 89.96h0M524.83 259.6h0M518.9 282.92h0M532.69 251.59h0M525.02 224.19h0M525.85 291.7h0M480.41 279.52h0M533.83 209.35h0M540.08 205.8h0M502.7 324.04h0M452.63 237.34h0M451.13 146.76h0M502.68 323.03h0M509.55 313.52h0M489.85 298.84h0M584.27 101.61h0M465.26 207.6h0M494.22 295.59h0M477.63 281.63h0M557.37 191.39h0M503.76 321.38h0M505.54 321.86h0M492.04 302.57h0M527.82 239.94h0M479.6 286.82h0M465.1 267.88h0M515.4 293.24h0M505.94 313.72h0M494.45 311.26h0M472.78 212.22h0M473.15 244.43h0M504.08 320.87h0M542.03 227.83h0M566.83 173.72h0M550.7 126h0M511.6 296.01h0M459.19 208.62h0M460.79 198.66h0M472.09 226.06h0M478.21 275.17h0M520.28 271.25h0M457.53 162.6h0M547.73 248.1h0M553.92 195.07h0M452.67 98.48h0M595.09 119.67h0M483.01 302.96h0M509.55 311.82h0M553.64 241.71h0M448.22 243.46h0M483.55 284.16h0M488.65 279.2h0M497.96 318.16h0M473.02 208.39h0M488.33 290.41h0M503.98 321.36h0M548.85 217.06h0M553.71 168.12h0M449.42 115.75h0M486.57 306.68h0M535.39 260.65h0M482.04 259.42h0M467.05 189.56h0M534.14 245.91h0M474.82 256.37h0M557.79 189.64h0M514.71 306.84h0M542.01 187.34h0M551.88 216.56h0M511.3 283.59h0M496.85 309.94h0M526.67 290.31h0M477.29 278.96h0M535.66 222.75h0M447.85 172.8h0M545.44 185.08h0M490.67 301.66h0M584.13 180.54h0M536.68 220.72h0M561.46 119.96h0M417.24 189.55h0M491.21 289.18h0M486.16 292.26h0M532.45 222.43h0M563.76 196.33h0M540.7 294.06h0M487.02 296.92h0M508.39 303.57h0M452.61 199.49h0M517.87 288.07h0M477.66 259.86h0M443.54 216.2h0M486.31 295.77h0M456.05 217.5h0M434.71 236.86h0M472.1 216.8h0M469.29 216.97h0M513.92 264.86h0M492.53 302.26h0M557.75 162.42h0M567.83 181.57h0M545.65 168.63h0M557.99 183.36h0M511.85 292.66h0M551.57 212.31h0M488.86 294.72h0M466.05 228.04h0M465.05 254.46h0M523.58 272.04h0M534.29 227.97h0M489.2 277.98h0M513.71 299.51h0M539.5 194.7h0M521.68 291.48h0M511.7 303.64h0M570.29 109.02h0M501.98 324.72h0M487.08 264.41h0M498.68 320.19h0M520.67 260.22h0M525.43 305.03h0M504.74 320.5h0M523.99 297.1h0M471.22 262.19h0M530.63 255.53h0M537.14 250.84h0M502.41 323.91h0M510.2 297.19h0M522.19 249.19h0M503.24 320.66h0M491.73 315.91h0M522.03 252.98h0M517.49 298.58h0M513.06 271.63h0M481.82 273.81h0M503.88 321.68h0M458.2 149.05h0M510.62 300.72h0M476.07 287.26h0M518.25 300.2h0M500.63 319.85h0M467.58 283.54h0M529.92 287.92h0M519.95 294.76h0M525.25 223.77h0M531 225.9h0M485.9 290.2h0M462.96 220.57h0M471.45 248.21h0M430.7 173.78h0M478.97 271.08h0M538.19 257.77h0M485.71 303.68h0M463.53 235.53h0M516.26 282.92h0M484.49 279.73h0M514.11 277.32h0M513.64 297.02h0M511.83 310.16h0M493.06 280.73h0M478.49 212.48h0M474.32 278.22h0M548.45 170.29h0M534.74 237.21h0M475.75 269.05h0M522.05 301.11h0M528 280.94h0M560.45 226.22h0M505.54 318.61h0M529.24 228.42h0M458.93 233.14h0M433.54 233.16h0M495.05 287.27h0M477.74 205.35h0M479.69 280.3h0M494.59 295.07h0M530.37 242.74h0M558.43 197.14h0M466.25 280.39h0M494.39 305.17h0M480.36 274.44h0M462.8 267.72h0M441.58 118.06h0M470.1 188.47h0M614.74 159.94h0M529.84 184.25h0M529.43 201.6h0M497.17 304.94h0M592.46 156.35h0M477.64 280.33h0M417.82 152.57h0M582.54 193.84h0M519.58 263.47h0M537.79 223.79h0M508.28 304.9h0M450.66 194.11h0M467.25 235.29h0M501.11 321.23h0M519.32 286.65h0M548.45 232.44h0M457.4 240.39h0M494.15 303.09h0M526.31 254.31h0M508.42 294.99h0M521.91 294.53h0M583.39 200.85h0M539.63 185.71h0M474.53 245.13h0M571.07 163.6h0M524.24 277.77h0M553.06 200.33h0M518.25 283.01h0M555.77 201.1h0M482.93 280.35h0M553.18 181.29h0M470.39 290.47h0M484.91 303.7h0M446.83 206.18h0M509.06 304.37h0M483.77 291.82h0M453.23 147.44h0M508.28 316.43h0M568.96 131.83h0M481.58 274.34h0M514.54 281.93h0M537.39 282.74h0M494.31 309.28h0M519.97 295.66h0M535.77 231.32h0M561.4 187.46h0M568.08 178.89h0M449.78 147.21h0M488.55 290.26h0M495.27 313h0M509.61 309.18h0M483.41 270.55h0M520.72 307.58h0M557.87 118.74h0M555.58 147.83h0M523.42 271.83h0M553.58 113.01h0M509.47 290.23h0M421.47 207.21h0M485.45 298.31h0M447.63 196.58h0M488.01 293.74h0M498.12 320.62h0M494.65 296.25h0M476.63 212.88h0M521.96 293.19h0M488.53 303.61h0M485.27 288.45h0M515.18 278.68h0M548.9 133.51h0M485.07 276.81h0M471.1 257.45h0M512.09 285.31h0M461.3 258.51h0M543.14 189.51h0M498.53 314.72h0M475.13 281.3h0M505.08 316.07h0M508.25 314.88h0M533.29 251.92h0M486.43 271.04h0M498.18 312.21h0M527.41 271.97h0M517.61 295.98h0M418.46 170.08h0M520.76 297h0M444.48 215.79h0M529.15 270.74h0M544 206.79h0M534.8 200.44h0M511.89 293.73h0M458.49 212.63h0M546.61 192.4h0M462.15 133.36h0M508.6 299.27h0M493.83 313.7h0M494.09 292.31h0M537.52 271.43h0M479.89 275.58h0M472.37 265.5h0M418.29 159.56h0M458.17 189.39h0M497.53 309.15h0M519.66 269.79h0M526.23 279.14h0M466.16 186.31h0M492.93 302.11h0M604.12 90.96h0M546.99 231.94h0M487.09 292.45h0M473.83 206.69h0M506.04 320.46h0M450.08 154.94h0M563.61 206.36h0M537.7 229.84h0M546.06 203.34h0M511.42 295.18h0M436.21 234.35h0M429.73 109.78h0M453.04 125.83h0M507.74 301.82h0M471.09 223.48h0M517.13 300.24h0M475.79 246.61h0M499.32 318.25h0M526.82 285.02h0M411.76 159.55h0M506.93 316.67h0M503.41 322.61h0M535.27 241.51h0M517.26 289.73h0M511 306.7h0M533.65 251.76h0M536.05 241.67h0M504.57 317.47h0M495.48 301.26h0M537.57 224.98h0M496.41 305.47h0M467.95 265.75h0M493.61 310.2h0M500.41 321.81h0M487.2 286.77h0M465.02 275.93h0M484.62 251.07h0M444.82 181.33h0M507.41 317.48h0M520.46 283.94h0M516.87 274.19h0M521.86 244.03h0M510.91 303.3h0M499.71 314.91h0M537.13 260.78h0M493.11 307.24h0M472.51 174.09h0M499.12 315.77h0M499.24 321.05h0M516.22 298.32h0M559.29 92.14h0M527.47 235.17h0M504.23 320.69h0M495.6 309.95h0M459.83 265.2h0M478.12 273.61h0M417.28 183.35h0M451.46 183.14h0M541.06 203.08h0M509.56 299.54h0M472.02 203.17h0M521.81 301.77h0M508.62 301.37h0M509.92 312.34h0M513.21 291.16h0M529.39 268.43h0M519.82 289.68h0M425.87 211.85h0M515.09 281.83h0M479.09 270.39h0M475.73 244.66h0M527.43 274.8h0M512.86 308.34h0M469.38 205.69h0M522.74 287.54h0M488.22 283.83h0M521.86 236.05h0M520.25 258.61h0M516.09 295.31h0M501.87 324.65h0M546.64 169.63h0M445.96 157.18h0M496.71 311.67h0M485.96 295.57h0M463.36 179.82h0M475.95 223.09h0M494.45 312.35h0M460.08 203.56h0M533.23 204.22h0M546.3 255.43h0M551.68 215.62h0M533.74 218.78h0M531.93 244.78h0M554.59 192.02h0M480.37 241.64h0M482.47 254.08h0M610.49 170.9h0M431.51 165.2h0M543.95 222.19h0M476.36 261.98h0M548.15 190.75h0M528.76 256.11h0M400.02 150.6h0M486.35 278.66h0M568.24 193.63h0M548.12 110.15h0M464.5 224.74h0M486.01 294h0M524.15 273.5h0M460.45 237.17h0M435.7 233.96h0M510.69 280.92h0M493.79 304.99h0M590.42 105.22h0M538.85 237.03h0M498.3 319.5h0M500.93 320.76h0M473.82 249.94h0M562.73 204.88h0M516.48 298.68h0M514.11 308.68h0M485.65 262.13h0M484.05 263.46h0M551.89 231.37h0M551.69 222.96h0M525.25 262.84h0M501.3 322.97h0M480.11 261.71h0M503.41 319.29h0M544.55 260.06h0M474.72 206.88h0M483.67 285.37h0M456.82 173.56h0M502.94 323.87h0M487.75 274.67h0M505.14 314.56h0M523.88 286.18h0M536.88 192.25h0M486.38 293.93h0M495.76 305.29h0M520.93 274.12h0M514.76 303.8h0M543.51 249.48h0M455.16 175.5h0M597.45 119.39h0M461.28 239h0M513.57 303.09h0M515.61 281.3h0M530.12 290.15h0M501.96 324.73h0M522.59 239.47h0M556.58 162.82h0M521.92 305.94h0M498.08 310.45h0M548.65 198.08h0M558.49 135.54h0M515.09 292h0M526.95 252.96h0M468.86 272.99h0M484.96 263.08h0M541.44 192.47h0M481.31 280.59h0M521.56 274.13h0M548.76 246.2h0M519.66 267.93h0M550.65 238.04h0M550.57 169.55h0M553.99 140.69h0M467.68 261.26h0M450.01 201.55h0M532.32 252.45h0M515.46 280.96h0M568.8 167.99h0M510.96 295.19h0M519.69 265.35h0M433.9 140.29h0M520.72 248.63h0M477.57 280.04h0M496.95 310.12h0M417.18 112.78h0M449.32 148.91h0M488.41 287.63h0M513.87 286.72h0M473.25 264.66h0M452.7 204.28h0M527.05 249.62h0M538.37 242.43h0M447.17 152.77h0M484.1 290.03h0M506.36 310.4h0M605.69 126.69h0M499.65 322.5h0M532.77 174.1h0M473.78 281.76h0M497.51 319.02h0M497.2 308.26h0M481.01 236.25h0M514.1 279.77h0M506.38 316.45h0M507.6 305.47h0M475.37 200.99h0M519.82 285.98h0M520.57 275.75h0M544.25 212.84h0M483.65 269.84h0M485.75 298.17h0M517.1 280.02h0M582.23 115.41h0M536.8 266.76h0M521.9 240.57h0M473.44 285.62h0M534.67 206.2h0M508.21 300.39h0M532.39 257.68h0M530.38 230.2h0M506.64 316.95h0M490.25 298.91h0M468.85 236.48h0M492.3 309.7h0M534.83 219.01h0M488.55 273.04h0M512.79 307.52h0M501.6 324.46h0M432.34 145.49h0M518.27 289.65h0M538.09 250.84h0M488.41 286.5h0M538.11 144.44h0M485.04 289.74h0M529.77 240.37h0M507.09 313.29h0M549.33 195.91h0M512.07 308.59h0M548.69 219.96h0M493.85 303.2h0M481.73 222.52h0M555.86 154.61h0M491.57 310.18h0M480.77 298.94h0M554.28 225.27h0M513.33 296.89h0M547.66 193.13h0M460.86 174.56h0M507.52 313.01h0M525.54 275.93h0M504.99 318.83h0M514.42 307.05h0M520.66 295.24h0M524.51 278.01h0M486.98 295.15h0M526.64 287.48h0M458.03 237.72h0M479.93 247.51h0M437.58 158.72h0M512.9 301.78h0M517.14 305.87h0M469.48 240.23h0M508.89 298.83h0M528.42 291.05h0M488 260.16h0M493.16 303.13h0M552.94 172.55h0M542.71 210.67h0M454.3 265.89h0M502.33 324.41h0M485.1 253.81h0M551.94 185.06h0M486.47 279.12h0M597.19 115.03h0M488.94 283.55h0M551.55 154.95h0M453.88 195.44h0M535.68 229.06h0M464.64 186.18h0M553.32 130.56h0M471.9 244.23h0M467.39 259.41h0M470.97 245.45h0M455.57 160.58h0M475 230.23h0M507.04 309.45h0M495.86 318.1h0M500.84 322.54h0M500.76 321.16h0M511.89 283.73h0M460.08 257.78h0M466.31 238.52h0M524.28 295.49h0M543.22 258.92h0M549.78 228.22h0M513.18 270.46h0M504.08 319.65h0M464.87 224.53h0M517.29 281.45h0M518.93 264.53h0M500.9 321.31h0M510.15 288.72h0M593.51 183.94h0M499.35 313.5h0M508.5 301.43h0M474.16 296.47h0M524.08 253.05h0M505.04 320.58h0M529.12 282.64h0M507.5 306.6h0M525.65 259.33h0M599.1 121.19h0M464.95 279.97h0M530.86 269.32h0M491.88 279.72h0M513.1 313.94h0M514.1 291.56h0M583.31 188.1h0M501.43 323.51h0M424.3 115.19h0M452.71 250.43h0M585.92 223.06h0M528.9 268.39h0M448.29 242.98h0M546.64 158.67h0M494.05 302.36h0M482.8 256.65h0M501.43 323.96h0M491.97 293.96h0M471.62 223.67h0M547.74 207.04h0M522.69 255.98h0M516.96 252.47h0M503.81 320.1h0M524.72 219.73h0M442.43 236.1h0M551.34 226.37h0M487.47 294.07h0M468.45 235.6h0M507.22 316.83h0M483.77 273.59h0M525.54 281.42h0M505.58 316.17h0M526.12 273.52h0M471.98 255.03h0M465.74 184.21h0M532.73 206.46h0M475.93 258.38h0M498.46 310.04h0M523.19 258.29h0M504.46 318.2h0M514.29 295.81h0M421.18 94.19h0M537.94 262.36h0M455.14 199.01h0M510.37 288.46h0M527.25 241.73h0M494.29 307.02h0M531.77 284.71h0M460.14 195.79h0M445.6 209.08h0M546.46 258.64h0M500.16 319.53h0M490.71 304.99h0M527.15 281.58h0M459 240.54h0M526.71 277.12h0M512.7 301.71h0M478.46 217.11h0M501.11 321.17h0M462.03 193.82h0M500.56 319.91h0M498.93 319.82h0M481.62 286.48h0M517.37 287.3h0M458.75 236.91h0M486.9 282.46h0M477.57 251.78h0M507.27 308.71h0M473.79 246.02h0M492.7 297.28h0M512.14 308.86h0M529.68 185.95h0M474.44 237.56h0M496.76 320.43h0M533.26 261.49h0M483.6 278.93h0M530.75 228.95h0M521.05 264.98h0M538.38 276.46h0M487.78 302.41h0M521.75 292.73h0M482.26 290.71h0M579.25 97.26h0M528.28 260.95h0M567.03 125.17h0M479.62 207.87h0M525.12 248.02h0M532.56 184.21h0M490.79 299.85h0M413.4 195.65h0M580.17 194.27h0M536.92 176.8h0M457.09 111.06h0M459.86 205.56h0M521.48 278.56h0M482.01 259.21h0M458.85 225.83h0M479.28 244.98h0M525.65 269.26h0M543.76 258.27h0M520.96 279.23h0M581.8 119.2h0M541.64 210.39h0M475.3 279.76h0M536.41 206.18h0M474.67 252.3h0M493.52 297.56h0M508.34 306.41h0M515.31 288.08h0M532.53 181.56h0M505.81 317.65h0M457.49 260.88h0M489.25 308.81h0M485.14 239.53h0M515.63 285.14h0M519.27 276.14h0M536.29 255.73h0M487.08 281.31h0M467.83 236.98h0M521.04 253.57h0M528.65 281.48h0M503.93 318.06h0M493.8 304.06h0M484.84 306.79h0M529.4 259.68h0M533.86 231.24h0M515.21 304.16h0M482.52 289.57h0M558.73 169.37h0M478.19 262.72h0M508.74 310.75h0M525.45 294.15h0M552.1 171.23h0M553.69 218.15h0M438.02 110.55h0M500.92 319.83h0M460.66 234.36h0M552.72 134.15h0M529.11 248.46h0M577.63 194.45h0M489.27 277.16h0M504.85 317.52h0M541 212.16h0M481.57 240.17h0M482.57 273.7h0M409.33 132.78h0M467.25 169.44h0M511.25 296.53h0M492.23 302.54h0M505.61 317.91h0M474.59 260.82h0M490.89 313.37h0M546.49 239.32h0M488.65 300.22h0M492.13 294.62h0M495 310.03h0M570.2 200.56h0M486.07 284.51h0M502.29 324.62h0M589.06 188.82h0M530.68 234.71h0M448.97 135.23h0M454.49 223.97h0M544 209.93h0M474.9 234.04h0M431.72 169.66h0M455.4 180.52h0M481.24 259.27h0M543.1 203.04h0M494.92 292.97h0M580.18 171.12h0M486.45 292.1h0M506.06 306.82h0M506.02 310.37h0M506.14 314.12h0M520.48 302.04h0M506.87 313.12h0M498.19 313.78h0M391.8 122.18h0M458.46 213.4h0M549.97 180.51h0M492.05 278.77h0M499.69 320.74h0M532.08 281.54h0M517.47 285.62h0M529.52 262.77h0M545.95 239.75h0M462.36 210.73h0M555.24 149h0M468.12 277.43h0M510.57 307.04h0M478.87 285.7h0M464.3 243.17h0M482.98 247.94h0M499.15 311.18h0M505.75 312.04h0M468.07 253.3h0M518.26 277.31h0M495.65 306.61h0M528.15 260.73h0M504.48 317.69h0M489.2 283.6h0M505.67 314.14h0M512.39 295.45h0M475.9 218.5h0M521.63 283.35h0M519.85 280.04h0M555.48 149.87h0M526.19 281.27h0M498.88 310.38h0M535.16 220.77h0M449.83 232.09h0M558.82 189.34h0M519.55 282.44h0M490.33 279.3h0M439.66 168.34h0M570.72 144.83h0M566.83 221.71h0M504.77 315.92h0M516.76 280.34h0M528.7 239.62h0M485.16 276.35h0M547.4 207.45h0M493.34 301.4h0M468.88 251.8h0M510.66 312.01h0M475.27 252.7h0M533.54 224.65h0M516.19 303.67h0M470.58 225.03h0M549.33 189.91h0M565.26 144.67h0M461.25 223.63h0M500.59 322.97h0M627.62 160.14h0M485.8 292.73h0M524.23 259.61h0M547.11 264.99h0M456.05 161.18h0M490.1 294.57h0M388.88 177.96h0M506.19 315.49h0M535.93 182.41h0M477.9 265.22h0M501.14 322.93h0M473.97 274.42h0M512.23 311.24h0M483.46 253.14h0M558.22 221.65h0M484.2 261.69h0M580.69 142.79h0M452.81 155.88h0M527.59 253.58h0M545.12 253.86h0M526.85 254.41h0M539.31 181.18h0M480.57 264.22h0M504.32 314.82h0M495.42 309.55h0M489.87 280.86h0M492.1 300.23h0M559.4 159.18h0M527.05 212h0M410.63 126h0M472.49 251.6h0M444.77 102.87h0M495.51 310.36h0M447.61 247.82h0M472.75 208.32h0M483.44 283.5h0M472.09 173.16h0M517.53 283.07h0M506.19 319.11h0M450.84 123.35h0M532.74 201.68h0M468.89 249.74h0M484.7 283.71h0M480.5 254.05h0M533.81 259.3h0M462.35 184.66h0M482.2 283.59h0M510.94 312.55h0M510.19 293.05h0M501.07 323.52h0M489.79 306.54h0M539 212.3h0M501.63 324.45h0M493.83 300.38h0M497.7 316.3h0M500.64 323.42h0M525.17 274.57h0M523.87 278.54h0M483.7 258.52h0M512.17 282.75h0M478.02 249.34h0M482.56 281.32h0M586.97 151.7h0M555.06 130.29h0M479.82 244.68h0M504.37 322.25h0M515.22 277.17h0M521.48 248.71h0M513.05 310.95h0M452.3 118.24h0M404.85 137.88h0M464.46 253.84h0M536.08 204.93h0M528.33 277.25h0M479.91 242.69h0M530.68 238.1h0M555.07 231.49h0M459.49 247.12h0M546.57 212.48h0M501.29 323.06h0M522.17 230.76h0M492.61 299.52h0M569.8 165.39h0M479.75 250.21h0M533.49 200.16h0M425.76 217.21h0M497.71 314.9h0M504.57 319.3h0M519.2 297.46h0M498.57 316.72h0M497.39 310.68h0M488.62 274.7h0M469.94 244.9h0M520.75 271.35h0M525.1 277.39h0M491.22 302.48h0M465.5 262.44h0M449.03 173.11h0M482.11 296.23h0M507.56 304.33h0M549.75 199.58h0M466.93 204.29h0M504.72 316.3h0M453.72 181.95h0M452.56 256.24h0M511.12 280.22h0M510.55 293.61h0M439.16 115.81h0M455.42 202.95h0M519.68 292.81h0M502.6 324.17h0M554.96 157.86h0M468.14 205.18h0M472.14 209.13h0M426.78 212.27h0M586.42 189.28h0M475.75 227.54h0M542.77 272.48h0M514.98 300.45h0M565.09 165.44h0M437.84 151.87h0M480.58 272h0M537.75 270.69h0M491.46 275.51h0M515.63 296.75h0M417.27 108.06h0M536.18 206.23h0M582.06 125.48h0M505.14 316.2h0M495.01 293.29h0M486.16 281.28h0M522.09 223.13h0M502.82 323.03h0M516.25 295.37h0M528.95 232.09h0M506.54 307.17h0M489.9 301.14h0M411.93 150.75h0M477.33 283.24h0M541.09 256.09h0M447.07 217.64h0M518.59 256.61h0M498.84 321.38h0M494.4 308.17h0M524.26 254.59h0M575.49 125.98h0M547.65 133.92h0M543.61 198.62h0M496.6 314.8h0M482.9 282.04h0M503.41 322.8h0M548.43 225.03h0M555.09 243h0M492.29 300.24h0M494.27 306.95h0M502.23 324.78h0M497.6 314.25h0M507.67 314.12h0M473.51 250.83h0M476.98 261.72h0M456.3 177.4h0M515.86 277.06h0M525.41 298.02h0M542.02 220.68h0M495.54 299.28h0M436.69 163.26h0M562.86 188.7h0M498.31 317.63h0M497.89 318.33h0M539.6 224.17h0M436.1 220.05h0M438.48 216.62h0M519.63 291.38h0M469.7 233.1h0M443.3 249.46h0M542.12 198.6h0M487.43 282.12h0M457.21 196.68h0M531.17 254.11h0M452.93 244.04h0M455.84 219.88h0M460.94 197.94h0M444.91 224.89h0M485.47 269.67h0M509.59 301.71h0M480.63 273.71h0M429.3 167.97h0M457.73 193.78h0M499.66 316.96h0M554.27 136.15h0M498.85 315.7h0M463.85 219.05h0M504.55 317.54h0M451.33 182.82h0M475.44 244.16h0M505.79 316.61h0M558.2 266.07h0M515.26 287.6h0M543.25 150.4h0M524.47 280.13h0M421.47 206.61h0M452 175.42h0M573.78 136.96h0M539.19 263.86h0M516.92 279.46h0M464.36 213.2h0M507.98 297.55h0M518.13 297.23h0M572.19 234.58h0M487.08 307.05h0M493.78 292.42h0M495.07 304.46h0M495.47 303.01h0M524.85 254.22h0M482.86 278.86h0M490.59 278.58h0M511.56 291.19h0M557.93 202.89h0M506.5 315.68h0M529.55 265.48h0M514.61 271.82h0M452 203.33h0M489.31 303.45h0M494.72 303.83h0M528.73 223.84h0M498.46 313.85h0M490.33 305.73h0M542.69 254.49h0M500.93 320.79h0M539.04 237.58h0M497.93 318.64h0M535.81 275.35h0M530.02 179.15h0M461.57 210.25h0M510.5 297.91h0M500.88 322.17h0M484.28 303.06h0M519.64 283.52h0M538.59 194.72h0M533.86 282.84h0M515.58 302.19h0M488.27 293.46h0M471.86 265.92h0M504.6 318h0M506.31 315.2h0M547.8 138.26h0M399.75 162.64h0M498.64 317.26h0M466.61 206.03h0M484.27 299.25h0M547.67 255.62h0M454.44 249.2h0M562.61 177.16h0M463.91 248.61h0M503.61 319.51h0M434.83 113.39h0M499.72 316.3h0M547.54 238.68h0M527.8 244.24h0M539.52 234.68h0M527.75 249.44h0M498.42 316.37h0M508.77 303.16h0M486.87 274.07h0M481.6 245.62h0M529.18 256.36h0M546.79 230.63h0M525.41 224.67h0M484.83 295.14h0M522.44 296.33h0M507.93 304.55h0M468.02 224.77h0M494.82 297.89h0M528.22 281.61h0M506.97 319.11h0M486.68 288.41h0M498.56 307.84h0M512.39 310.25h0M482.29 232.62h0M552.27 213.76h0M523.92 274.17h0M528.14 251.73h0M529.96 240.52h0M535.49 206.02h0M481.31 259.98h0M549.06 240.75h0M497.87 315.71h0M502.99 322.48h0M531.45 217.47h0M458.66 159.81h0M515.01 284.33h0M551.19 224.76h0M490.32 299.81h0M465.71 236.88h0M510.44 297.33h0M494.3 303.56h0M497.48 315.69h0M551.46 112.72h0M521.46 247.77h0M517.55 285.98h0M509.14 295.62h0M517.76 296.41h0M464.15 259.05h0M467.84 217.25h0M524.32 279.26h0M518.21 262.41h0M450.31 113.94h0M533 279.92h0M484.04 293.08h0M539.38 293.57h0M550.5 282.1h0M430.01 163.96h0M445.07 185.11h0M537.67 188.6h0M506.36 314.49h0M528.84 247.58h0M501.22 323.31h0M490.27 275.45h0M478.96 255.86h0M477.3 208.89h0M461.24 254.17h0M544.54 121.24h0M531.19 291.49h0M550.94 245.29h0M475.25 239.93h0M517.19 288.76h0M548.12 271.75h0M487.77 252.46h0M484.4 286.66h0M430.08 225.74h0M514.39 299.94h0M530.69 259.88h0M496.92 310.52h0M557.41 125.22h0M476.09 251.08h0M517.8 282.96h0M534.74 255.46h0M507.9 312.05h0M548.95 233.88h0M538.68 227.17h0M491.77 299.2h0M505.96 315.32h0M513.6 287.69h0M499.47 314.43h0M506.96 304.35h0M465.66 153.97h0M501.38 323.37h0M475.54 208.62h0M494.12 294.63h0M492.85 300h0M541.79 242.92h0M512.37 300.24h0M532.71 221.67h0M509.31 303.92h0M511.74 305.56h0M528 255.6h0M555.15 227.56h0M503.24 321.04h0M470.67 211.74h0M549.01 127.44h0M575.06 187.99h0M602.07 181.25h0M516.16 279.7h0M523.22 253.34h0M487.23 299.07h0M508.92 304.47h0M488 290.32h0M482.5 273.96h0M456.32 104.78h0M536.67 273.5h0M494.47 312.33h0M533.12 268.94h0M516.86 282.08h0M525.05 241.12h0M473.23 247.23h0M498.52 311.57h0M561.75 182.04h0M476.11 250h0M540.12 203.34h0M462.34 228.85h0M495.95 301.39h0M521.53 254.18h0M465.09 220.89h0M538.96 212.26h0M506.24 316.92h0M455.84 209.89h0M444.3 187.25h0M473.47 240.22h0M487 260.37h0M447.78 142.35h0M488.58 295.43h0M540 194.48h0M486.28 275.3h0M450.8 195.81h0M539.06 207.13h0M487.58 299.85h0M486.22 272.62h0M482.21 266.09h0M528.39 283.74h0M537.51 234.84h0M520.38 301.74h0M560.18 184.31h0M471.68 277.28h0M485.1 289.19h0M407.21 129.06h0M485.02 299h0M526.55 271.82h0M452.85 173.14h0M526.52 256.92h0M494.45 304.52h0M472 275.96h0M546.29 246.03h0M465.36 236.34h0M501.18 322.8h0M505.93 315.88h0M526.72 283.6h0M478.9 296.29h0M505.52 317.13h0M491.93 287.01h0M486.89 262.58h0M555.09 259.66h0M553.14 114.75h0M493.66 303.72h0M494.28 296.94h0M492.38 300.67h0M531.54 260.65h0M501.29 323.3h0M538.78 262.01h0M512.44 312.65h0M503.93 316.29h0M458.51 273.6h0M524.22 286.99h0M488.61 278.74h0M503.83 322.42h0M485.28 286.36h0M514.85 276.79h0M516.03 281.36h0M523 236.73h0M468.83 260.3h0M557.12 165h0M540.88 267.14h0M503.16 321.17h0M523.11 298.4h0M479.29 257.87h0M440.33 229.07h0M505.61 320.03h0M492.6 303.97h0M529.82 256.32h0M459.97 198.58h0M514.1 293.85h0M463.13 243.37h0M465.06 255.02h0M529.93 282.04h0M421.12 175.8h0M415.51 104.65h0M478.83 240.27h0M530.57 226.45h0M502.04 325.01h0M486.15 294.18h0M539.44 260.17h0M518.68 270.02h0M519.81 270.54h0M491.62 274.11h0M411.53 132.74h0M448.79 276.67h0M532.32 216.23h0M473.71 221.62h0M508.79 299.02h0M505.14 317.19h0M510.21 288.37h0M440.32 260.57h0M510.78 300.63h0M572.24 212.55h0M510.88 291.32h0M506.03 314.55h0M504.63 320.95h0M490.52 265.39h0M505.89 316.64h0M516.94 307.87h0M487.18 287.15h0M500.01 317.32h0M497.46 312.91h0M530.47 193.12h0M510.21 310.11h0M475.69 259.18h0M455.9 205.36h0M491.77 287.42h0M513.62 303.86h0M532.05 175.28h0M516.05 297.29h0M498.65 313.07h0M523.04 234.42h0M481.06 250.41h0M519.76 286.49h0M530.61 277.87h0M539 290.74h0M487.82 295.27h0M528.02 255.52h0M532.45 240.05h0M493.89 306.13h0M499.98 318.11h0M489.85 283.5h0M504.74 318.96h0M537.26 250.7h0M567.31 123.92h0M556.71 182.28h0M534.14 280.3h0M478.92 298.52h0M605.04 103.64h0M481.64 293.72h0M482.29 290.28h0M480.07 212.93h0M529.39 261.34h0M501.29 321.2h0M514.64 289.23h0M445.51 152.33h0M532.03 276.71h0M492.31 296.24h0M460.61 136.59h0M527.92 248.05h0M455.26 154.5h0M494.84 294.86h0M429.46 181.49h0M514.91 288.74h0M503.34 323.38h0M543.17 224.68h0M497.88 319.7h0M483.79 263.41h0M472.63 225.64h0M434.16 143.93h0M467.63 273.28h0M508.79 310.01h0M531.17 202.78h0M480.71 273.34h0M485.49 242.13h0M493.25 299.97h0M549.88 162.72h0M399.55 187.55h0M576.62 166.81h0M532.57 275.37h0M489.18 290.95h0M544.2 249.39h0M461.77 196.56h0M547.97 221.26h0M510.17 305.51h0M452.56 204.14h0M492.3 299.61h0M556.16 118.31h0M475.24 268.37h0M509.89 303.69h0M530.27 233.22h0M529.12 256.46h0M540.46 250.95h0M468.6 240.37h0M546.19 201.21h0M543.29 253.44h0M509.02 295.39h0M523.04 282.97h0M509.01 303.43h0M504.48 318.85h0M506.36 314.21h0M537.25 281.63h0M467.26 145.15h0M474.01 271.65h0M479.69 270.85h0M520.29 267.11h0M493.12 301.82h0M533.52 284.71h0M466.54 161.68h0M465.55 272.8h0M485.58 297.7h0M482.96 287.58h0M443.31 213.71h0M478.44 289.17h0M510.45 301.37h0M464.67 242.26h0M460.03 167.67h0M503.4 322.23h0M538.46 283.95h0M511.96 304.57h0M545.6 144.82h0M514.06 305.1h0M544.61 238.22h0M489.43 297.35h0M466 192.01h0M563.58 165.27h0M510.17 287.63h0M494.32 314.87h0M535.8 220.42h0M497.03 308.73h0M542.22 226.73h0M552.34 221.83h0M531.28 206.77h0M494.99 294.44h0M487.01 290.04h0M509.46 309.63h0M513.44 308.86h0M509.96 307.11h0M502.33 324.77h0M471.32 230.85h0M477.25 254.8h0M470.76 263.2h0M568.34 186.69h0M482.53 290.98h0M476.14 236.57h0M470.06 262.47h0M547.74 115.63h0M532.22 172.7h0M498.97 308.13h0M527.89 230.68h0M522.34 263.17h0M545.98 240.82h0M498.71 318.47h0M445.53 97.96h0M512.53 291.63h0M513.56 293.61h0M503.51 321.28h0M541.33 258.24h0M480.06 284.7h0M492.15 310.58h0M480.54 276.78h0M500.53 320.76h0M484.69 275.04h0M494.55 310.06h0M458.31 240.49h0M515.9 302.6h0M481.46 293.1h0M514.98 276.59h0M505.44 313.69h0M523.58 282.93h0M474.62 227.93h0M513.28 302.88h0M509.06 296.74h0M504.61 321.64h0M468.81 266h0M518.51 283.65h0M454.54 175.86h0M523.39 272.58h0M516.91 260.45h0M488.84 279.16h0M440.66 220.56h0M513.81 291.4h0M480.97 290.96h0M487.55 291.4h0M470.34 196.44h0M520.71 232.89h0M457.23 210.9h0M510.53 296.31h0M486.89 278.41h0M391.72 210.51h0M447.14 137.6h0M511.88 296.61h0M486.18 288.69h0M452.59 139.41h0M512.1 310.16h0M512.08 302.2h0M509.67 314.27h0M491.16 288.97h0M451.93 147.83h0M513.48 287.5h0M493.91 292.53h0M509.79 296.12h0M534.79 244.82h0M474.09 256.37h0M482.27 269.9h0M490.43 290.27h0M543.06 254.83h0M464.97 259.5h0M483.31 287.26h0M472.46 279.97h0M512.12 303.73h0M433.58 147.18h0M480.23 279.51h0M587.54 175.41h0M499.57 322.36h0M514.18 291.83h0M473.8 251.09h0M488.29 269.68h0M525.74 246.4h0M467.26 181.45h0M510.51 300.09h0M508.17 307.74h0M591.49 168.56h0M548.41 200.8h0M569.41 114.36h0M491.68 288.91h0M523.45 239.8h0M450.89 251.64h0M486.48 297.22h0M522.44 244.84h0M547.04 158.41h0M535.15 247.49h0M521.22 287.19h0M539.58 215.63h0M455.74 109.07h0M528.11 226.73h0M484.41 260.79h0M469.32 288h0M433.1 225.02h0M524.79 277.85h0M566.32 108.12h0M516.18 275.91h0M477.63 278.28h0M457.6 116.13h0M514.18 303.21h0M474.56 209.07h0M459.18 252.49h0M565.38 192.99h0M489.08 291.7h0M492.69 301.12h0M492.22 295.25h0M550.02 278.14h0M509.97 301.43h0M506.26 314.21h0M465.55 236.19h0M555.22 161.5h0M570.05 222.82h0M473.28 221.21h0M469.53 212.37h0M543.64 136.22h0M539.18 241.32h0M531.78 234.47h0M513.29 297.47h0M511.2 308.11h0M481.92 255.89h0M531.9 226.98h0M523.54 297.17h0M526.9 218.3h0M537.46 265.62h0M494.35 309.36h0M536.25 269.66h0M512.35 301.28h0M496.25 309.62h0M470.69 196.79h0M513.09 295.13h0M497.48 312.52h0M519.47 256.95h0M470.42 273.47h0M580.45 210.38h0M412.64 154.14h0M510.68 307.69h0M535.26 269.39h0M470.66 239.83h0M488.23 305h0M486.32 267.12h0M551.1 236.27h0M466.34 182.79h0M518.29 292.59h0M517.05 284.46h0M495.15 310.56h0M521.41 255.45h0M542.35 217.92h0M483.41 283.15h0M473.21 283.6h0M512.58 301.94h0M493.5 300.08h0M538.11 270.34h0M538.63 272.43h0M498.67 320.29h0M485.54 304.63h0M504.62 320.46h0M435.18 230.38h0M467.2 268.42h0M503.19 323.23h0M514.22 265.91h0M508.87 305.34h0M533.24 163.47h0M564.33 105.51h0M558.65 188.04h0M498.27 307.93h0M542.34 202.95h0M539.28 186.44h0M539.61 229.11h0M497.13 306.38h0M529.23 269.68h0M532.22 246.28h0M544.83 216.79h0M486.88 291.87h0M466.8 244.31h0M484.8 299.54h0M493.64 305.37h0M508 294.75h0M525.19 251.56h0M499.27 318.09h0M550.98 230.41h0M457.37 222.67h0M513.85 294.06h0M498.34 319.05h0M570.59 246.58h0M508.15 316.5h0M492.42 304.58h0M447.76 214.12h0M550.61 193.54h0M516.35 299.33h0M511.62 293.86h0M477.3 271.91h0M466.49 258.67h0M500.59 321.88h0M514.64 285.22h0M525.42 246.43h0M472.01 286.8h0M470.57 204.97h0M506.28 315.07h0M504.09 319.76h0M463.43 158.29h0M462.49 216.83h0M504.15 321.83h0M529.3 226.15h0M524.99 246.86h0M509.46 310.04h0M500.07 321.03h0M485.62 286.65h0M530.37 233.79h0M455.49 172.18h0M459.23 170.26h0M532.16 263.17h0M583.97 167.41h0M498.53 315.57h0M534.99 238.2h0M523.85 274.71h0M511.83 307.3h0M476.2 259.28h0M452.76 132.65h0M507.09 308.61h0M523.53 305.04h0M467.71 266.22h0M501.69 324.75h0M547.42 233.9h0M462.71 180.18h0M491.12 285.9h0M463.77 234.98h0M478.83 263.99h0M426.17 121.3h0M514.3 300.6h0M491.79 277.62h0M461.82 265.45h0M475.23 246.48h0M471.38 274.02h0M523.4 263.57h0M465.89 263.22h0M518.04 305.85h0M470.5 201.53h0M522.95 266.92h0M520.03 288.6h0M505.93 320.27h0M523.24 295.27h0M473.75 236.32h0M522.2 274.01h0M515.9 292.29h0M508.79 316.55h0M458.95 130.27h0M493.17 301.81h0M510.13 303.34h0M465.61 257.17h0M483.61 295.77h0M517.85 297.9h0M498.01 317.75h0M530.58 276.43h0M494.01 291.67h0M498.64 314.77h0M462.95 247.67h0M472.88 268.33h0M485.68 261.07h0M541.04 187.64h0M446.54 218.54h0M490.11 284.38h0M562.44 220.87h0M497.06 319.44h0M520.89 280.13h0M499.1 319.14h0M462.11 237.58h0M528.51 282.46h0M560.16 255.92h0M461.05 240.73h0M451.99 189h0M467.9 201.73h0M510.1 303.73h0M437.75 127.49h0M514.17 304.16h0M471.94 275.87h0M523.68 262.11h0M528.92 257.8h0M500.54 322.28h0M478.62 249.32h0M464.87 252.05h0M490.62 299.36h0M504.73 320.4h0M509.98 291.66h0M530.77 264.61h0M545.75 165.36h0M435.2 173.33h0M535.64 235.46h0M571.64 171.57h0M555.35 202.5h0M475.2 280.52h0M452.13 196.54h0M517.97 301.46h0M485.78 274.47h0M519.53 286.69h0M501.6 324.03h0M476.58 258.72h0M506.39 313.28h0M556.33 211.34h0M525.59 266.72h0M547.66 241.06h0M486.93 284.09h0M486.64 308.06h0M511.48 313.31h0M452.19 173.81h0M467.02 256.44h0M461.33 187.95h0M489.38 305.46h0M519.37 281.61h0M468.63 248.02h0M533.9 259.83h0M513.9 300.01h0M492.93 313.17h0M536.95 134.47h0M503.37 322.47h0M498.06 319.07h0M540.8 170.87h0M547.38 208.4h0M522.47 250.74h0M487.12 281.6h0M523.76 235.39h0M531.21 253.62h0M549.83 181.35h0M518.14 304.42h0M429.92 155.55h0M533.12 234.4h0M483.65 257.12h0M468.29 208.97h0M544.75 205.63h0M548.49 236.27h0M501.68 324.72h0M515.6 289.73h0M500.57 322.39h0M500.06 322.74h0M525.43 268.32h0M507.33 301.9h0M472.49 237.11h0M548.71 247.09h0M453.74 284h0M444.94 178.02h0M492.67 292.04h0M560.49 199.2h0M560.4 202.58h0M441.1 88.67h0M477.75 264.98h0M496.64 312.18h0M464.48 216.84h0M494.38 312.89h0M480.61 261.68h0M482.51 256.87h0M545.62 179.59h0M552.56 99.12h0M484.84 245.33h0M525.62 210.09h0M479.53 242.67h0M546.79 219.79h0M485.63 299.04h0M542.71 172.21h0M548.43 161.75h0M503.48 321.41h0M455.83 222.52h0M514.04 305.27h0M479.54 271.03h0M538.37 259.31h0M520.61 234.58h0M558.88 226.32h0M629.78 129.32h0M513.28 293.02h0M480.15 245.41h0M525.85 242.63h0M483.84 248.44h0M498.26 317.39h0M414.28 96.3h0M531.46 216.3h0M500.53 321.25h0M490.96 312.38h0M541.87 242.07h0M466 255.69h0M470.95 262.26h0M510.38 308.14h0M523.71 247.13h0M511.15 308.01h0M439.82 142.73h0M525 305.42h0M505.95 309.25h0M473.81 263.71h0M511 297.45h0M511.6 295.13h0M494.16 303.6h0M553 192.9h0M506.21 317.74h0M539.71 214.52h0M466.78 212.54h0M505 321.03h0M523.87 278.19h0M455.42 130.49h0M468.47 245.54h0M507.39 314.9h0M498.82 317.62h0M429.13 145.65h0M509.17 303.58h0M500.57 322.08h0M519.32 244.67h0M475.09 248.22h0M471.18 243.49h0M496.24 301.02h0M516.94 294.74h0M470.05 249.81h0M507.56 298.18h0M501.41 324.14h0M521.29 241.54h0M461.93 167.48h0M520.37 283.7h0M501.17 320.83h0M516.65 285.37h0M524.23 245.43h0M507.7 309.58h0M523.9 251.55h0M455.9 205.4h0M474.21 204h0M530.99 226.47h0M501.32 323.89h0M541.57 243.35h0M529.13 242.62h0M510.54 297.91h0M477.3 233.98h0M484.23 275.53h0M540.81 241.78h0M545.42 240.02h0M520.88 291.7h0M483.9 309.82h0M498.08 314.04h0M530.97 256.09h0M516.95 268.21h0M484.55 254.71h0M549.69 244.68h0M493.13 309.66h0M475.51 247.73h0M475.21 264.44h0M533.16 239.8h0M511.03 296.8h0M498.93 315.12h0M500.95 322.26h0M486.09 274.19h0M511.76 302.09h0M488.32 302.93h0M477.44 258.69h0M513.17 288.18h0M563.78 164.31h0M476.1 243.92h0M505.94 315.92h0M519.26 307.06h0M510.43 301.47h0M490.58 294.12h0M543.22 201.04h0M505.46 311.84h0M532.84 257.3h0M487.84 295.24h0M485.88 269.8h0M473.26 266.58h0M559.71 139.33h0M513.63 297.09h0M537.15 173.41h0M512.88 287.42h0M501.85 324.43h0M513.57 301.2h0M480.45 268.43h0M520.24 273.22h0M499.53 318.05h0M558.35 179.28h0M522.45 217.02h0M508.39 304.57h0M518.29 276.15h0M501.35 324.03h0M505.38 316.3h0M543.43 216.62h0M479.38 277.78h0M506.96 304.35h0M524.69 282.42h0M502.42 324.83h0M562.17 92.81h0M490.62 295.21h0M519.19 256.58h0M514.05 300.26h0M399 106.2h0M521.77 271.99h0M464.94 233.69h0M470.92 256.76h0M524.33 255.29h0M540.41 270.03h0M508.34 305.01h0M543.29 215.43h0M558.48 262.42h0M502.33 324.59h0M515.2 301.8h0M547.67 260.3h0M473.8 275.53h0M515.14 303.22h0M534.91 144.62h0M482.32 236.4h0M486.49 291.1h0M470.6 254.06h0M474.85 234.31h0M498.66 316.74h0M524.77 225.72h0M573.11 134.38h0M497 308.74h0M535.28 192.74h0M516.06 275.9h0M531.52 259.69h0M480.24 237.23h0M500.43 321.93h0M527.46 213.69h0M545.86 211.92h0M453.22 193.71h0M480.32 230.12h0M539.55 243.03h0M540.54 252.9h0M472.6 277.49h0M507.83 313.74h0M518.86 265.73h0M467.03 190.4h0M508.61 314.54h0M486.04 285.97h0M457.57 246.51h0M481.3 256.38h0M578.38 144.44h0M577.71 96.2h0M459.47 97.85h0M486.56 295.16h0M438.78 108.6h0M481.46 300.83h0M529.98 252.63h0M525.97 265.17h0M513.84 302.83h0M480.79 263.82h0M477.91 247.95h0M476.22 221.89h0M468.74 223.13h0M526.16 252.88h0M515.24 299.71h0M524.55 251.94h0M467.32 223.13h0M439.63 167.06h0M484.61 269.14h0M506.58 314.83h0M467.4 199.37h0M538.42 239.12h0M484.24 281.88h0M473.48 249.31h0M513.89 289.44h0M571.45 147.07h0M498.27 316.17h0M508.91 304.5h0M507.24 309.76h0M566.91 206.91h0M566.87 149.91h0M511.21 309.4h0M517.27 290.28h0M492.18 293.75h0M459.4 232.44h0M552.47 144.9h0M533.56 192.14h0M533.84 185.51h0M530.41 218.67h0M522.31 221.66h0M475.18 256.35h0M533.35 223.82h0M602.72 171.22h0M533.02 225.64h0M531.33 276.44h0M493.86 307.66h0M543.14 207.38h0M461.64 274.6h0M543.43 186.68h0M524.08 266.06h0M514.77 282.26h0M468.78 222.25h0M504.28 316.42h0M558.69 182.21h0M531.93 228.99h0M483.72 254.27h0M539.45 268.3h0M462.21 172.12h0M501.51 323.25h0M486.56 282.61h0M479.94 300.96h0M554.52 124.31h0M533.07 197.83h0M521.66 292.33h0M533.86 221.62h0M533.16 203.82h0M536.26 241.88h0M512.98 285.4h0M558.22 138.17h0M508.78 304.28h0M465.68 169.27h0M491.42 291.49h0M544.02 156h0M509.94 307.84h0M542.22 187.89h0M552.43 114.12h0M513.23 265.25h0M525.96 288.26h0M531.25 269.76h0M515.03 296.71h0M444.01 163.91h0M574.44 163.53h0M485.04 260.71h0M472.7 260.2h0M466.29 202.28h0M453.19 271.73h0M508.03 316.52h0M470.62 190.73h0M486.56 258.79h0M509.26 305.77h0M509.95 307h0M486.93 299.08h0M480.14 288.02h0M371.95 155.54h0M509.76 315.58h0M501.66 323h0M502.71 323.68h0M492.8 298.28h0M523.3 240.14h0M560.48 220.57h0M527.69 259.42h0M561.3 223.77h0M494.22 305.78h0M432.03 137.42h0M471.16 180.8h0M521.9 301.63h0M476.23 277.75h0M499.63 318.17h0M478.94 272.32h0M491.73 286.85h0M480.13 287.31h0M636.94 191.04h0M658.73 123.96h0M607.65 242.64h0M611.06 222h0M600.85 206.52h0M621.27 149.76h0M605.61 170.4h0M379.52 175.56h0M382.93 201.36h0M396.55 191.04h0M413.57 247.8h0M420.38 289.08h0M421.74 281.34h0M585.18 227.16h0M631.49 98.16h0M597.44 87.84h0M372.71 98.16h0M376.12 113.64h0M393.14 103.32h0M403.36 160.08h0" stroke="#636363" stroke-width="3.3"/><path d="M539.09 241.75h0M517.59 275.82h0M490.7 286.09h0M480.14 226.71h0M508.15 311.14h0M532.37 225.53h0M489.83 267.96h0M501.08 320.67h0M525.3 263.35h0M503.99 322.53h0M556.92 263.26h0M489.55 292.12h0M502.51 324.76h0M525.1 264.39h0M502.66 322.82h0M479.34 198.02h0M489.25 264.87h0M485.08 297.22h0M509.07 292.38h0M521.03 257.25h0M506.3 315.85h0M534.96 207.18h0M478 256.61h0M472.79 262.2h0M512.9 290.26h0M488.37 285.87h0M539.71 184.46h0M512.84 271.67h0M479.05 264.99h0M500.2 319.91h0M508.02 301.36h0M467.54 214.73h0M501.51 323.02h0M516.98 290.91h0M501.9 324.96h0M504.06 321.08h0M489.72 285.03h0M485.97 311.07h0M520.49 237.58h0M504.48 317.92h0M495.83 294.37h0M503.55 319.91h0M462.08 252.23h0M502.91 323.69h0M511.91 295.49h0M501.28 321.48h0M474.59 254.63h0M494.68 289.87h0M516.33 276.96h0M521.65 246.16h0M531.92 272.9h0M529.22 272.35h0M498.07 310.87h0M504.67 313.26h0M534.22 161.94h0M511.22 274.55h0M491.55 291.72h0M518.18 306.13h0M445.22 142.05h0M508.22 301.17h0M564.49 126.42h0M520.16 279.01h0M486.55 258.93h0M512.29 276.84h0M515.22 283.53h0M503.44 320.05h0M529.87 207.79h0M503.28 321.74h0M484.86 257.58h0M516.55 285.28h0M499.98 320.98h0M486.73 283.22h0M506.44 312.39h0M509.53 304.35h0M558.37 104.5h0M483.6 278.32h0M501.56 322.79h0M531.66 184.86h0M502.76 323.14h0M520.73 236.43h0M489.51 277.71h0M494.43 297.33h0M533.14 202.99h0M488.34 293.36h0M523.3 276.22h0M507.75 301.95h0M494.97 311.57h0M482.81 286.02h0M522.12 255.43h0M511.61 303h0M536.8 270.14h0M485.36 290.19h0M506.24 302.1h0M470.46 250.27h0M512.25 269.81h0M501.06 322h0M511.58 297.09h0M500.9 322.75h0M512.8 271.48h0M503.47 320.9h0M481.26 260.84h0M522.5 256.55h0M488.26 248.85h0M520.97 231.92h0M517.25 261.19h0M506.2 316.77h0M495.52 296.68h0M509.14 295.51h0M484.55 227.82h0M492.58 302.06h0M493.95 299.12h0M507.54 304.01h0M547.79 180.05h0M507.82 295.86h0M531.57 268.18h0M527.46 232.17h0M502.08 325.17h0M494.84 310.52h0M516.87 293.26h0M527.09 238.29h0M486.52 280.58h0M508.73 307.31h0M502.92 321.53h0M482.5 262.57h0M499.41 312.29h0M497.9 307.7h0M484.79 286.01h0M529.17 176.64h0M455.71 211.66h0M533.65 236.31h0M513.01 278.15h0M499.56 323.4h0M518.87 238.78h0M479.56 263.86h0M544.23 165.16h0M488.79 305.47h0M518.72 260.44h0M506.24 308.4h0M514.89 296.76h0M527.06 234.75h0M532.06 190.34h0M512.43 311.18h0M506.31 318.34h0M502.51 323.99h0M515.64 287.81h0M516.35 289.18h0M478.01 229.84h0M502.8 323.31h0M492.62 293.16h0M500.98 321.37h0M454.18 171.25h0M474.41 224.79h0M522.76 285.34h0M491.99 300.71h0M514.74 296.45h0M495.75 300.94h0M515.59 261.89h0M476.54 293.21h0M525.86 240.83h0M545.31 168.36h0M493.13 299.98h0M543.48 238.87h0M523.17 243.88h0M496.51 310.57h0M516.21 270.15h0M472.68 198.79h0M503.67 321.72h0M501.48 324.24h0M506.15 303.71h0M496.63 305.18h0M501.16 322.11h0M511.38 293.96h0M480.04 280.69h0M459.47 121.03h0M534.48 220.92h0M502.86 322.01h0M500.67 321.09h0M557.93 136.6h0M520.11 273.22h0M530.42 245.76h0M495.05 298.66h0M507.58 299.41h0M518.63 237.92h0M509.26 288.96h0M496.38 304.28h0M498.17 314.72h0M510.01 301.02h0M525.65 258.54h0M490.75 282.44h0M484.66 248.66h0M453.24 240.23h0M485.79 301.67h0M474.14 256h0M516.73 272.62h0M546.19 261.9h0M539.88 197.86h0M520.79 289.26h0M534.44 149.12h0M477.84 274.73h0M533.87 187.43h0M423.35 139.28h0M512.01 285.06h0M499.18 309.62h0M495.6 305.42h0M484.31 265.25h0M532.25 202.87h0M522.86 237.71h0M514.59 291.25h0M522.96 256.58h0M487.65 264.71h0M512.53 299.49h0M485.89 259.71h0M482.02 254.61h0M505.26 311.07h0M503.48 320.63h0M492.27 316.61h0M537.79 238.28h0M507.58 320.5h0M521.14 251.66h0M554.46 227.35h0M496.68 299.41h0M538.53 236.33h0M502.3 324.44h0M530.73 236.21h0M480.15 256.21h0M492.36 299.25h0M501.23 321.01h0M506.14 315.77h0M517.28 251.85h0M516.23 284.87h0M502.63 322.72h0M501.54 323.73h0M528.16 235.97h0M510.39 293.46h0M499.68 320.13h0M505.38 319.22h0M496.43 309.95h0M482.4 244.89h0M508.65 305.34h0M514.52 266.77h0M522.37 242.15h0M511.46 292.74h0M494.42 297.16h0M516.7 253.4h0M536.33 259.68h0M513.06 292.02h0M509.66 306.47h0M511.57 284.58h0M561.43 161.68h0M509.65 302h0M525.21 227.88h0M491.93 269.6h0M482.68 262.98h0M503.37 320.72h0M513.51 271.93h0M521.21 223.55h0M543.19 246.91h0M469.65 191.78h0M500.51 317.08h0M526.02 203.34h0M534.49 188.95h0M506.29 311.14h0M483.06 280.52h0M512.13 290.64h0M491.12 283.7h0M476.24 263.2h0M516.4 249.27h0M499.41 317.43h0M523.82 250.98h0M497.1 310.34h0M479.99 248.09h0M501.6 324.01h0M546.17 229.34h0M491.74 304.74h0M472.26 226.78h0M519.58 237.67h0M531.11 184.36h0M534.91 269.38h0M469.61 149.01h0M508.9 297.7h0M507.93 305.09h0M480.66 271.98h0M475.61 212.76h0M528.19 196.19h0M485.52 302.88h0M519.07 251.1h0M524.6 216.66h0M447.18 210.22h0M465.65 199.15h0M480.2 259.79h0M511.42 289.8h0M530.63 232.61h0M467.71 269.33h0M495.05 287.53h0M512.57 296.63h0M522.89 246.22h0M496.31 313.3h0M510.98 294.99h0M439.66 221.36h0M499.21 313.36h0M480.94 252.83h0M543.51 279.8h0M497.58 307.41h0M503.78 317.17h0M499.46 313.37h0M498.92 315.97h0M525.69 212.97h0M492.36 291.94h0M505.62 313.69h0M500.92 322.99h0M500.82 320.74h0M451.13 153.06h0M477.69 235.08h0M505.71 316.22h0M503.82 318.01h0M524.38 267.99h0M512.88 285.61h0M505.9 314.42h0M517.31 267.87h0M486.27 260.69h0M505.03 314.44h0M527.23 209.52h0M488.27 275.63h0M493.78 304.54h0M500.87 321.89h0M481.77 250.89h0M511.19 317.74h0M519.59 278.03h0M509.05 295.71h0M499.91 322.09h0M496.82 301.7h0M512.43 280.99h0M488.94 278.69h0M515.84 282.42h0M500.2 322.09h0M499.74 314.19h0M503.66 320.38h0M508 306.19h0M506.19 304.41h0M499.51 317.67h0M496.15 307.08h0M524.27 268.57h0M501.47 321.99h0M529.27 262.56h0M497.87 315.06h0M517.48 285.91h0M485.85 263.29h0M483.8 291.96h0M509.18 290.17h0M500.49 322.39h0M475.13 289.62h0M485.92 277.67h0M506.74 305.66h0M487.61 275.48h0M501 322.18h0M498.21 315.15h0M489.94 286.56h0M490.89 308.62h0M482.86 291.28h0M510.63 303.26h0M497.29 307.56h0M514.79 298.91h0M481.37 228.53h0M498.14 309.83h0M531.39 220.83h0M502.23 324.48h0M512.78 282.74h0M534.06 193.47h0M526.84 290.41h0M542.16 256.71h0M492.92 300.9h0M478.97 271.97h0M512.21 286.14h0M508.91 311.31h0M515.32 269.9h0M483.6 270.76h0M489.78 287.01h0M462.17 173.96h0M468.34 206.39h0M499.47 318.27h0M516.56 284.9h0M482.49 299.48h0M509.53 301.97h0M484.86 292.8h0M490.17 298.22h0M510.75 306.44h0M500.85 321.43h0M507.72 318.38h0M502.44 324.51h0M491.52 307.1h0M493.97 303.22h0M504.24 317.3h0M509.53 292.76h0M493.26 303.4h0M495.04 309.95h0M553.15 230.17h0M514.77 280.33h0M511.62 300.52h0M514.29 278.24h0M509.61 316.31h0M484.81 252.61h0M512.55 273.8h0M483.79 253.28h0M501.91 324.42h0M492.93 294.09h0M490.35 314.85h0M518.71 272.13h0M513.28 279.74h0M509.13 293.46h0M493.53 290.81h0M517.99 257.9h0M509.14 305.8h0M525.1 273.83h0M478.9 212.75h0M550.39 203.25h0M450.36 120.73h0M493.31 290.83h0M486.23 291.52h0M495.81 308.18h0M506.26 306.29h0M486.39 280.98h0M480.06 290.81h0M493.11 289.99h0M517 280.25h0M472.14 261.04h0M501.09 323.58h0M526.04 201.61h0M532.9 224.6h0M499.17 310.69h0M529.95 231.33h0M490.97 266.18h0M493.82 296.78h0M499.8 321.89h0M481.44 236.14h0M503.58 322.63h0M537.35 256.5h0M490.96 299.39h0M502.69 323.27h0M479.01 273.11h0M523.52 238.46h0M501.49 323.79h0M492.16 286.22h0M487.72 280.9h0M544.75 166.45h0M504.92 318.48h0M478.82 222.35h0M494.54 300.89h0M463.03 188.11h0M516.67 289.16h0M524.6 274.32h0M555.06 250.24h0M527.6 207.24h0M505.01 320.58h0M490.98 305.56h0M542.57 229.71h0M497.71 311.52h0M490.59 301.02h0M481.11 230.52h0M501.84 324.14h0M521.01 279.84h0M555.45 188.61h0M506.5 310.05h0M509.06 297.89h0M479.1 220.59h0M496.15 296.85h0M502.37 324.17h0M519.89 244.67h0M500.02 318.73h0M488.04 260.89h0M526.19 246.9h0M483.92 226.2h0M522.18 252.04h0M512.19 270.16h0M513.48 276.67h0M507.7 294.05h0M473.43 276.44h0M507.45 308.2h0M474.99 280.21h0M533.33 163.01h0M525.96 223.51h0M521.77 281.43h0M462.8 139.65h0M494.72 310.68h0M490.37 298.26h0M514.06 277.32h0M484.4 245.05h0M493.89 282.82h0M488.74 286.76h0M463.07 239.55h0M510.22 298.06h0M486.34 251.05h0M444.45 123.45h0M534.18 248.23h0M496.33 300.25h0M509.29 312.6h0M486.72 281.57h0M494.89 286.12h0M543.89 185.42h0M524.6 271.68h0M457.87 116.97h0M503.68 317.06h0M500.56 318.1h0M485.14 231.7h0M493.4 278.17h0M481.94 275.7h0M504.72 313.14h0M515.86 281.81h0M462.65 257.52h0M517.02 306.86h0M491.84 270.66h0M531.99 235.72h0M507.29 299.6h0M478 226.85h0M500.13 321.39h0M525.91 194.99h0M517.76 303.42h0M495.81 313.9h0M544.58 136.77h0M478.33 294.2h0M464.32 227.37h0M528.46 245.45h0M505.91 315.17h0M493.1 300.67h0M529.8 280.63h0M505.4 319.44h0M512.12 305.6h0M519.23 251.52h0M514.73 287.93h0M523.72 280.3h0M487.27 291.39h0M489.89 299.52h0M458.26 128.56h0M525.67 235.36h0M505.7 305.81h0M466.51 151.28h0M490.3 273.68h0M508.04 297.78h0M510.24 312.32h0M481.35 277.81h0M538.36 183.11h0M502.72 322.8h0M489.98 279.59h0M542.19 222.96h0M512.16 299.56h0M494.97 295.76h0M515.82 265.41h0M501.23 322.19h0M488.06 280.44h0M549.28 185.78h0M507.8 300.29h0M480.24 211.71h0M484.41 267.36h0M506.78 319.48h0M472.93 235.1h0M474.51 245.68h0M492.77 282.05h0M512.01 283.92h0M503.29 320.58h0M497.18 314.39h0M534.85 266.01h0M489.61 273.8h0M526.17 211.4h0M488.61 257.09h0M504.81 317.76h0M493.52 303.68h0M495.32 294.92h0M490.19 309.48h0M497.3 319.59h0M512.32 280.45h0M488.34 259.23h0M511.94 276.96h0M485.17 235.98h0M535.89 225.33h0M497.45 303.27h0M476.69 260.34h0M481.89 269.45h0M478.38 267.34h0M503.16 323.29h0M479.22 229.01h0M515.59 303.06h0M462.79 218.66h0M488.06 289.21h0M512.94 307.14h0M491.89 271.33h0M566.74 123.65h0M477.54 280.7h0M512.13 303.75h0M518.68 280.73h0M516.23 272.25h0M495.63 297.82h0M515.68 302.57h0M490.08 286.06h0M493.73 307.58h0M509.18 297.24h0M524.79 260.19h0M482.34 249.22h0M512.87 296.39h0M505.67 308.91h0M489.97 286.2h0M510.95 287.43h0M506.23 308.85h0M462.83 192.8h0M479.72 267.33h0M514.4 283.66h0M503.72 318.01h0M497.55 301.34h0M522.07 295.43h0M523.27 287.41h0M465.8 257.71h0M483.76 298.92h0M503.08 321.37h0M521.19 264.87h0M528.45 267.92h0M509.28 299.69h0M502.26 324.88h0M479.06 231.49h0M480.76 251.56h0M502.38 323.82h0M476.93 292.31h0M507.76 316.94h0M500.17 321.38h0M523.14 243.94h0M513.43 293.87h0M508.92 290.35h0M479.93 266.28h0M513.96 297.81h0M518.82 240.97h0M486.84 291.38h0M503.09 324.11h0M509.06 314.58h0M510.6 283.79h0M526.29 238.77h0M492.27 272.43h0M489.87 280.72h0M513.5 294.42h0M497.21 313.25h0M490.09 300.23h0M481.59 253.2h0M483.93 264.16h0M499.19 316.64h0M478.17 252.76h0M504.93 318.27h0M499.37 312.6h0M473.46 254.06h0M519.71 282.12h0M509.73 305.69h0M480.33 230.31h0M513.47 276.27h0M476.49 234.57h0M462.68 200.1h0M493.32 304.94h0M516.2 282.36h0M471.24 228.8h0M508.75 316.26h0M503.53 320.35h0M490.65 291.03h0M534.1 236.16h0M528.51 247.56h0M504.34 317.78h0M492.88 295.45h0M509.59 304.72h0M493.16 301.94h0M511.06 284.93h0M494.64 289.42h0M511.88 288.58h0M504.6 318.49h0M488.34 301.87h0M481.63 246.29h0M502.91 321.76h0M510.78 308.36h0M507.51 311.26h0M509.27 295.72h0M518.21 268.42h0M523.14 232.82h0M484.71 283.51h0M496.1 305.02h0M526.03 264.76h0M517.89 266.03h0M506.12 315.92h0M501.1 321.4h0M519.81 275.44h0M470.16 279.72h0M521.34 228.89h0M490.5 275.35h0M411.81 154.33h0M475.43 181.81h0M523.09 270.38h0M474.74 183.97h0M512.44 281.98h0M506.99 315.85h0M500.71 319.47h0M492.82 297.86h0M493.11 300.31h0M482.7 266.03h0M492.91 308.21h0M520.3 286.97h0M495.97 291.56h0M506.16 312.91h0M507.88 297.85h0M509.34 290.4h0M509.62 299.85h0M467.67 228.26h0M520.29 265.29h0M524.04 291.72h0M532.72 258.38h0M496.5 317.3h0M489.27 270.92h0M463.3 215.48h0M518.93 277.09h0M489.2 290.67h0M512.87 296.37h0M528.87 176.8h0M503.67 319.93h0M487.37 263.64h0M495.52 296.39h0M487 289.54h0M499.45 311.76h0M482.62 231.74h0M509.63 306.44h0M482.55 259.74h0M463.08 162.1h0M527.3 219.98h0M505.35 313.44h0M483.71 275.47h0M540.48 273.11h0M467.6 156.47h0M517.59 251.64h0M498.63 307.79h0M492.79 298.36h0M531.88 172.61h0M494.84 285.42h0M479.33 244.45h0M483.18 295.32h0M514.68 291.41h0M514.53 287.89h0M484.19 255.52h0M517.35 277.66h0M489.31 278.45h0M553.01 151.22h0M494.77 307.78h0M493.6 292.54h0M475.79 202.55h0M505.8 316.98h0M498.69 315.6h0M498.6 321.5h0M524.59 269.14h0M500.77 322.33h0M455.26 151.64h0M531.69 172.92h0M514.39 292.99h0M517.91 239.97h0M514.95 256.96h0M480.77 236.76h0M505.74 309.84h0M485.48 272.48h0M496.91 301.93h0M508.82 298.78h0M493.37 282.81h0M511.1 282.24h0M501.57 323.09h0M516.43 293.17h0M528.96 208.54h0M504.82 320.55h0M521.27 241.77h0M483.97 253.07h0M515.34 291.98h0M508.05 299.33h0M499.28 315.26h0M531.01 240.95h0M483.59 273.29h0M515.28 301.17h0M516.61 290.83h0M485.28 260.6h0M515.85 269.15h0M532.98 181.47h0M492.55 294.23h0M515.75 278.67h0M510.83 298.26h0M497.61 303.14h0M495.19 310.75h0M513.75 302.84h0M482.52 259.39h0M474.95 201.75h0M474.62 284.47h0M493.7 300.43h0M491.96 303.52h0M525.01 227.63h0M484.31 231.88h0M512.72 302.06h0M493.55 303.06h0M494.06 287.18h0M503.5 318.86h0M523.47 221.7h0M522.19 237.52h0M502.78 324.23h0M518.55 292.97h0M509.49 303.19h0M500.13 318.21h0M553.72 156.1h0M504.6 319.32h0M495.54 302.2h0M476.24 224.33h0M495.67 294.96h0M494.54 303.52h0M471.34 210.23h0M527.79 234.47h0M500.89 321.72h0M497.53 314.43h0M495.82 302.74h0M525.49 248.73h0M516.82 266.38h0M503.35 320.62h0M523.79 292.89h0M495.43 299.64h0M514.03 296.59h0M492.46 284.93h0M495.66 307.19h0M523.32 248.97h0M490.01 275.41h0M528.67 235.84h0M497.76 318.96h0M473 252.52h0M521.22 290.21h0M493.02 309.24h0M505.88 312.19h0M498.24 312.69h0M521.55 257.9h0M546.24 115.48h0M521.31 242.78h0M518.78 291.29h0M512.02 306.24h0M498.53 316.34h0M503.65 321.04h0M519.49 272.42h0M498.06 316.66h0M497.85 314.49h0M508.62 292.09h0M468.35 207.47h0M506.95 314.42h0M530.19 261.34h0M515.26 273.6h0M531.71 213.18h0M518.21 236h0M504.53 317.65h0M510.63 290.82h0M502.53 323.9h0M510.77 297.73h0M494.38 305.38h0M465.61 200.25h0M523.34 258.2h0M523.67 240.83h0M510.14 298.78h0M530.51 248.27h0M521.38 232.07h0M506.77 299.12h0M501.45 323.89h0M505.98 317.15h0M498.6 317.59h0M478.42 243.17h0M482.7 221.21h0M522.81 283.59h0M476.66 211.12h0M495.54 289h0M516.25 285.6h0M532.47 271.69h0M510.04 307.73h0M518.94 261.37h0M511.58 276.06h0M484.59 256.85h0M512.21 283.58h0M495.72 312.01h0M492.65 299.54h0M484.81 275.56h0M538.19 238.71h0M487.16 288.71h0M506.88 314.26h0M464.11 162.07h0M490.64 292.51h0M526.66 211.87h0M546.4 194.24h0M498.6 313.45h0M509.56 311.7h0M520.83 257.52h0M508.78 297.15h0M497.11 308.98h0M520.65 267h0M510.65 288.28h0M555.78 205.28h0M506.94 313.22h0M533.91 192.56h0M519.8 283.76h0M509.46 300.73h0M501.91 324.55h0M515.66 266.44h0M542.3 260.39h0M502.2 324.66h0M505.14 318.59h0M508.66 303.03h0M480.51 212.14h0M482.43 257.35h0M505.43 317.69h0M480.96 235.35h0M538.19 237.19h0M508.31 306.79h0M496.5 309.41h0M508.7 310.66h0M509.63 304.47h0M543.61 248.26h0M513.85 273.46h0M516.93 263.62h0M519.48 236.82h0M481.61 237.08h0M497.14 305.65h0M499.67 320.66h0M504.3 314.36h0M484.44 260.28h0M496.6 318.07h0M514.01 278.87h0M516.29 277.39h0M504.22 315.19h0M474.94 277.1h0M471.42 250.21h0M503.72 317.4h0M475.87 295.44h0M483.88 273.38h0M504.6 313.56h0M520.45 258.96h0M496.89 311.61h0M500.69 320.72h0M540.24 231.39h0M487.55 250.97h0M489.41 254.75h0M492.1 307.64h0M506.38 312.98h0M506.11 317.22h0M482.03 230.33h0M492.18 273.57h0M527.02 251.3h0M483.47 283.3h0M520.77 227.86h0M496.94 301.5h0M506.75 318.14h0M498.83 319.26h0M472.01 177.95h0M479.21 230.33h0M514.69 287.76h0M500.35 317.62h0M476.52 207.09h0M499.34 318.54h0M499.65 320.73h0M504.81 318.13h0M498.94 310.77h0M489.38 272.81h0M461.23 133.35h0M499.89 320.97h0M511 293.84h0M500.87 323.8h0M497.34 318.43h0M497.42 314.47h0M509.91 301.78h0M502.68 324h0M494.44 313.06h0M487.53 280.97h0M526.41 222.14h0M495.4 312.71h0M498.85 310.36h0M502.6 323.65h0M539.16 130.71h0M483.61 238.25h0M514.43 282.13h0M496.11 297.5h0M504.28 316.1h0M542.26 176.58h0M505.28 316.09h0M501.43 322.56h0M507.33 297.85h0M529.63 213.01h0M498.6 318.78h0M528.05 217.99h0M455.65 172.73h0M470.52 283.97h0M484.82 270.71h0M525.4 257.47h0M520.81 298.91h0M512.26 293.07h0M494.96 310.11h0M513.42 297.7h0M536.5 213.61h0M497.84 308.11h0M510.02 314.17h0M518.87 287.64h0M478.2 293.01h0M494.72 292.98h0M510.59 292.04h0M510.33 281.15h0M514.47 302.4h0M532.31 164.18h0M530.62 198.93h0M512.64 308.35h0M572.45 94.14h0M522.92 293.25h0M507.25 299.85h0M510.14 285.8h0M509.5 311.34h0M469.78 212.21h0M511.23 301.25h0M527.69 238.39h0M502.9 321.55h0M489.7 286.08h0M491.39 304.14h0M505.93 305.92h0M495.27 307.13h0M500.25 321.63h0M486.14 284.96h0M486.05 274.64h0M522.67 216.18h0M472.81 249.16h0M482.61 262.61h0M512.95 270.02h0M477.21 264.74h0M486.1 277.15h0M512.9 293.74h0M509.12 288.4h0M510.98 307.58h0M503.92 321.15h0M465.43 203.25h0M520.91 245.08h0M502.1 325.19h0M525.27 212.5h0M544.73 225.79h0M509.76 291.15h0M502.78 323.88h0M459.73 146.26h0M450.38 110.63h0M505.3 314.69h0M486.63 293.99h0M498.11 319.07h0M501.08 323.09h0M519.73 239.04h0M494.23 304.27h0M504.36 313.01h0M506.61 311.03h0M457.45 240.73h0M506.1 314.6h0M518.45 250.93h0M486.13 276.93h0M465.86 186.62h0M479.59 274.07h0M495.07 311.79h0M523.23 240.41h0M498.26 317.62h0M516.97 278.09h0M488.01 278.14h0M509.59 292.73h0M485.32 249.42h0M459.3 237.68h0M480.14 257.53h0M508.18 304.85h0M515.25 283.48h0M525.15 273.87h0M509.55 314.97h0M558.84 218.11h0M505.12 317.51h0M513.15 293.7h0M486.26 293.26h0M482.15 256.88h0M507.19 313.34h0M492.16 287.42h0M486.19 260.05h0M490.97 304.67h0M528.66 254.98h0M503.43 321.44h0M543.41 115.33h0M496.29 299.53h0M536.88 192.1h0M477.05 244.51h0M510.24 291.44h0M545.29 212.51h0M556.08 101.7h0M510.63 295.08h0M502.41 323.69h0M475.29 262.2h0M507.61 303.07h0M518.29 292.32h0M506.32 315.84h0M516.34 263.62h0M468.74 191.77h0M530.65 261.74h0M495.32 294.52h0M522.88 261.67h0M512.25 290.15h0M460.26 118.54h0M514.98 275.56h0M496.77 297.24h0M497.98 314.43h0M481.99 219.52h0M525.8 228.19h0M510.29 302.83h0M465.21 205.81h0M510.78 306.56h0M500.69 321.37h0M510.5 307.97h0M510.86 276.46h0M509.7 288h0M506.37 318.67h0M474.63 257.19h0M499.37 313.34h0M509.59 315.88h0M506.31 313.29h0M516.43 268.69h0M546.03 175.47h0M510.26 303.74h0M503.39 318.89h0M493.5 303.86h0M530.93 178.59h0M512.73 290.88h0M512.74 273.99h0M543.05 138.03h0M502.92 321.26h0M509.55 306.66h0M463.06 185.24h0M525.2 288.94h0M494.73 307.88h0M541.65 237.27h0M486.48 251.43h0M484.38 286.62h0M494.26 307.52h0M506.53 311.82h0M505.42 314.99h0M481.33 230.33h0M502.9 323.88h0M507.67 307.94h0M484.88 265.04h0M510.76 283.48h0M501.77 324.21h0M518.75 301.58h0M513.56 306.1h0M536.5 247.79h0M509.19 292.28h0M477.95 238.65h0M505.73 306.73h0M483.64 281.72h0M502.71 323.31h0M457.04 167.34h0M532.23 171.02h0M515.75 290.2h0M489.17 300.91h0M492.73 273.73h0M506.24 308.64h0M490.28 275.3h0M522.6 230.44h0M518.85 252.71h0M482.78 275.56h0M537.98 229.32h0M492.34 282.98h0M473.91 269.93h0M488.69 262.31h0M498.85 315.93h0M505.08 314.25h0M506.18 303.27h0M490.47 283.19h0M515.47 266.63h0M492.07 294.75h0M507.46 302.56h0M506.56 304.43h0M486.3 251.47h0M472.37 231.98h0M477.15 274.48h0M524.29 230.02h0M508.94 297.51h0M493.77 278.92h0M458.23 164.97h0M486.68 280.23h0M510.93 296.35h0M480.64 282.64h0M470.48 237.8h0M502.45 323.44h0M498.25 316.51h0M538.67 124.37h0M538.25 180.15h0M509.7 297.45h0M527.41 253.83h0M514.77 261.76h0M520.57 266.89h0M492.8 292.99h0M521 264.01h0M487.19 277.82h0M485.62 257.99h0M493.79 306.84h0M498.59 316.63h0M476.77 275.89h0M508.69 304.99h0M478.01 228.07h0M450.76 181.79h0M511.63 293.32h0M508.59 292.42h0M526.53 248.9h0M489.39 299.6h0M487.26 255.79h0M533.18 223.56h0M486.46 276.38h0M522.56 287.21h0M536.75 257.08h0M498.47 308.67h0M517.18 264.79h0M530.48 232.62h0M513.42 298.45h0M483.67 251.94h0M493.88 306.42h0M498.03 313.79h0M472.4 194.32h0M492.49 282.95h0M506.5 314.39h0M489.19 267.24h0M486.59 258.8h0M491.93 295.64h0M490.9 305.69h0M514.96 277.14h0M498.53 313.47h0M504.04 320.11h0M471.86 270.58h0M503.82 317.94h0M489.55 274.37h0M454.33 153.89h0M539.84 157.22h0M503.37 320.84h0M504.18 321.62h0M442.31 229.54h0M519.12 263.35h0M500.1 321.64h0M521.85 273.83h0M494.39 288.24h0M484.06 242.22h0M493.52 306.29h0M497.35 315.36h0M498.06 313.7h0M499.37 320.36h0M492.38 296.75h0M500.53 316.93h0M511.26 291.2h0M476.35 260.58h0M537.43 157.28h0M534.24 220.27h0M472.34 159.9h0M496.56 298.46h0M562.9 143.27h0M534.72 145.04h0M509.47 285.92h0M503 321.95h0M508.25 313.7h0M492.59 299.92h0M528.54 280.63h0M508.78 301.07h0M490.88 302.9h0M493.57 309.53h0M536.68 178.88h0M497.97 309.91h0M516.53 299.41h0M503.75 319.22h0M529.35 237.2h0M495.5 315.06h0M495.45 297.3h0M471.6 281.65h0M499.75 315.29h0M547.49 102.91h0M494.92 304.27h0M513.29 266.7h0M494.56 301.3h0M515.8 267.89h0M484.94 271.5h0M509.46 310.95h0M516.42 278.21h0M494.21 282.35h0M491 284.67h0M525.71 255.9h0M505.64 310.91h0M512.9 288.74h0M486.38 298.58h0M455.36 134.91h0M482.43 249.86h0M532.78 243.59h0M491.18 282.98h0M550.23 199.78h0M497.3 308.78h0M489.89 281.53h0M505.99 308.81h0M464.03 234.49h0M462.16 240.71h0M494.92 300.96h0M516.17 250.6h0M506.31 316.6h0M509.47 302.73h0M514.32 268.55h0M488.58 269.13h0M519.47 234.66h0M493.22 289.01h0M463.45 165.05h0M497.06 306.8h0M488.08 252.47h0M502.24 324.6h0M519.78 278.49h0M497.73 307.77h0M501.59 322.84h0M485.39 253.17h0M489.58 281.52h0M473.41 280.4h0M461.42 225.51h0M486.05 250.91h0M505.91 313.86h0M491.72 270.74h0M501.11 321.9h0M481 291.51h0M474.83 243.75h0M517.85 245.6h0M509.81 300.63h0M498.11 317.81h0M503.06 320.8h0M505.64 310.55h0M500.84 322.38h0M535.96 186.59h0M518.14 269.87h0M515.07 274.93h0M480.21 290h0M496.53 313.07h0M517.81 288.84h0M480.66 266.09h0M508.87 301.56h0M513.21 278.99h0M527.65 241.72h0M494.6 284.91h0M479.94 210.55h0M476.06 271.47h0M513.3 286.06h0M495.53 303.05h0M516.45 278.12h0M502.12 325.09h0M448.89 198.64h0M490.22 266.69h0M498.56 316.7h0M485.2 269.14h0M505.98 318.95h0M477.2 268.42h0M481.96 262.12h0M529.28 196.22h0M486.64 281.02h0M497.52 310.77h0M490.59 271.54h0M459.76 161.19h0M519.05 247.52h0M473.52 277.54h0M510.55 310.2h0M491.96 303.36h0M532.26 220.67h0M451.66 126.22h0M479.85 206.85h0M503.72 319.93h0M509.99 294.28h0M483.15 249.35h0M508.58 313.84h0M494.61 311.04h0M511.17 284.79h0M553.58 248.57h0M522.62 285h0M527.4 242.51h0M506.69 309.61h0M483.42 265.61h0M499.27 314.31h0M537.37 148.38h0M511.48 277.96h0M502.86 323.44h0M515.26 275.53h0M499.41 316.56h0M480.72 265.93h0M516.08 305.77h0M534.17 265.98h0M527.53 230.6h0M521.07 280.56h0M512.09 301.16h0M493.73 305.65h0M474.95 294.86h0M537.38 128.22h0M488.05 252.98h0M455.56 99.72h0M522.08 287.19h0M517.68 258.7h0M531.08 200.94h0M478.16 243.57h0M513.97 300.77h0M542.19 240.96h0M492.03 277.81h0M489 297.09h0M506.43 320.35h0M489.64 302.51h0M454.87 156.01h0M489.15 254.71h0M505.49 309.07h0M539.4 165.62h0M500.44 318.65h0M550.39 109.87h0M515.67 302.16h0M487 285.6h0M511.92 279.76h0M488.86 287.51h0M486.7 271.46h0M469.21 232.02h0M465.53 213.24h0M475.46 236.81h0M478.37 222.96h0M474.66 267.35h0M590.52 146.75h0M511.63 299.97h0M487.69 279.94h0M499.98 319.57h0M468.89 189.85h0M481.77 264.53h0M490.59 304.53h0M499.05 315.77h0M484.44 242.71h0M525.58 295.01h0M486.95 242.06h0M493.18 289.97h0M490.58 288.98h0M521.09 255.62h0M508.75 310.13h0M499.28 319.66h0M496.94 307.75h0M543.5 130.91h0M497.39 311.02h0M491.92 314.11h0M482.58 232.04h0M482.72 249.82h0M514.72 298.67h0M474.94 273.55h0M518.54 284.86h0M519.03 254.69h0M490.37 285.6h0M500.61 321.74h0M542.82 218.65h0M491.84 306.98h0M478.34 266.31h0M495.19 304.68h0M498.04 316.62h0M517.18 248.88h0M498.11 313.2h0M529.25 221.29h0M480.4 276.07h0M536.1 142.32h0M509.36 290.34h0M523.38 261.22h0M500.47 321.92h0M492.3 301.57h0M505.02 314.54h0M504.38 316.05h0M487.14 281.33h0M490.47 302.62h0M523 224.42h0M519.41 280.65h0M479.75 261.03h0M517.83 279.35h0M501.88 324.35h0M518.93 274.46h0M461.21 195.85h0M488.41 293.25h0M516.85 283.82h0M501.43 323.74h0M489.42 270.81h0M485.46 286.03h0M463.72 142.37h0M483.54 268.62h0M557.21 177.98h0M514.01 296.49h0M498.76 312.54h0M541.4 165.78h0M499.37 317.3h0M526.54 302.26h0M521.91 222.08h0M469.17 203.74h0M501.95 324.42h0M470.15 190.08h0M524.62 206.77h0M505.72 307.28h0M504.92 313.26h0M494.61 294.61h0M483.06 245.55h0M504.77 314.18h0M530.12 288.45h0M513.54 277.63h0M548.32 237.4h0M502.2 324.93h0M507.7 308.32h0M538.39 201.83h0M520.59 263.59h0M532.22 232.94h0M530.67 201.74h0M503.33 322.2h0M482.69 265.18h0M504.61 320.65h0M503.14 322.8h0M525.63 233.61h0M464.41 193.08h0M499.8 314.72h0M502.44 324.1h0M537.09 192.37h0M543.27 169.06h0M483.7 308.41h0M489.19 293.97h0M480.2 264.51h0M505.47 310.22h0M502.78 323.91h0M480.57 250.14h0M496.33 294.66h0M508.96 307.43h0M493.2 301.65h0M506.31 308.63h0M562.38 108.08h0M482.25 269.65h0M508.29 315.07h0M519.74 231.77h0M521.79 255.73h0M537.58 151.44h0M515.08 285.86h0M487.61 270.78h0M495.62 315.16h0M480.9 270.57h0M487.24 265.59h0M530.2 281.4h0M539.34 152.78h0M507.29 311.47h0M490.16 285.21h0M488.97 286.85h0M495.95 291.67h0M555.31 176.1h0M484.79 242.35h0M504.46 322.28h0M477.48 194.62h0M504.95 316.07h0M541.89 117.35h0M468.3 244.04h0M494.76 301.47h0M505.64 314.51h0M499.52 313.5h0M495.63 305.06h0M505.72 315.27h0M475.85 252.38h0M491.63 279.35h0M468.13 153.59h0M491.49 284.27h0M505.13 315.58h0M523.72 219.58h0M501.25 322.56h0M528.45 226.3h0M501.97 324.63h0M534.11 256.38h0M481.12 281.47h0M504.7 315.16h0M503.65 319.97h0M483.63 297.73h0M489.98 293.43h0M484.93 239.61h0M501.14 323.25h0M514.82 275.7h0M485.4 263.81h0M516.18 287.5h0M509.83 314.45h0M506.98 318.25h0M493.78 313.74h0M501.27 323.07h0M498.5 314.41h0M474.86 206.21h0M498.72 316.14h0M479.73 289.96h0M488.84 291.94h0M503.37 322.13h0M496.04 297.74h0M541.85 151.05h0M495.86 293.6h0M511.11 298.4h0M526.94 211.87h0M516.22 278.57h0M509.06 310.34h0M511.53 305.61h0M426.14 158.2h0M516.94 250.03h0M499.46 317.05h0M504.22 322.26h0M492.24 297.24h0M486.15 287.49h0M502.33 324.29h0M540.76 171.03h0M522.17 255.59h0M502.21 324.73h0M489.1 280.62h0M474.37 285.07h0M514.55 306.99h0M501.47 323.06h0M498.22 306.94h0M518.89 262.45h0M465.95 212.84h0M512.8 281.81h0M530.2 230.8h0M483.24 254.22h0M474.29 198.64h0M503.13 322.13h0M498.86 313.01h0M506.66 300.36h0M499.43 316.6h0M491.84 272.23h0M513.92 302.68h0M494.34 298.69h0M501.93 324.77h0M497.91 314.39h0M474.27 201.75h0M527.44 260.66h0M496.74 296.04h0M541.02 165.53h0M479.21 210.15h0M489.89 282.66h0M498.03 308.75h0M515.47 288.7h0M492.1 278.42h0M509.59 295.43h0M511.27 307.11h0M510.44 295.98h0M521.06 287.94h0M507.5 295.58h0M546.16 167.28h0M487.88 304.43h0M508.44 317.41h0M507.37 304.08h0M505.57 313.97h0M506.9 306.97h0M497.57 313.33h0M521.24 264.83h0M496.34 304.97h0M493.31 301.57h0M497.69 305.48h0M496.76 315.11h0M518.89 249.19h0M511.35 301.77h0M515.48 254.99h0M487.23 273.09h0M492.37 305.62h0M519.82 228.63h0M486.51 269.43h0M510.66 299.79h0M475.8 207.81h0M483.55 268.97h0M548.71 216.68h0M470.99 212.83h0M473.6 197.06h0M513.37 285.75h0M479.19 287.95h0M477.69 266.75h0M480.55 227.14h0M514.66 275.94h0M505.86 313.85h0M534.12 218.37h0M502.23 325h0M496.17 308.07h0M539.05 222.88h0M482.56 261.68h0M517.79 282.7h0M491.86 312.14h0M509.66 301.96h0M511.44 301.86h0M504.42 319.89h0M495.5 314.87h0M511.81 293.54h0M515.05 270.95h0M502.01 324.73h0M472.05 195.16h0M502.41 323.94h0M522.09 248.2h0M513.21 294.19h0M492.17 308.19h0M512.82 287.57h0M522.12 300.89h0M409.07 153.41h0M531.81 250.47h0M524.98 229.37h0M523.25 228.67h0M494.25 307.66h0M530.31 195.6h0M503.46 320.63h0M513.09 270.23h0M508.45 312.42h0M459.95 239.08h0M494.57 299.08h0M492.67 289.35h0M515.07 298.47h0M519.84 275.87h0M515.82 261.47h0M499.4 318.57h0M508.46 294.95h0M483.73 229.26h0M485.71 281.36h0M492.72 296.07h0M496.71 302.03h0M507.78 311.09h0M530.39 202.83h0M515.54 273.58h0M540.56 199.19h0M487.2 242.87h0M507.5 310.54h0M510.05 304.92h0M519.32 263.57h0M490.96 263.21h0M506.26 307.63h0M522.5 240.56h0M498.44 314.1h0M515.47 288.36h0M508.44 308.2h0M503.98 322.2h0M506.87 303.61h0M485.86 262.22h0M510.36 303.18h0M508.91 295.72h0M514.14 281.16h0M501.36 322.96h0M460.11 140.3h0M505.02 318.29h0M540.44 121.39h0M485.08 271.56h0M479.13 196.84h0M512.93 283.92h0M571.06 199.88h0M510.48 305.11h0M504.54 321.15h0M529.47 274.92h0M497.59 315.9h0M501.79 324.16h0M535.24 220.58h0M559.55 144.77h0M487.38 260.37h0M497.61 314h0M504.09 320.04h0M515.81 286.63h0M504.09 317.61h0M465.86 221.83h0M439.83 127.95h0M467.88 261.64h0M482.09 267.23h0M498.82 317.78h0M507.53 316.92h0M495.05 299.64h0M537.22 129.95h0M513.3 284.89h0M480.06 222.08h0M494.07 302.09h0M524.69 276.85h0M500.86 322.33h0M494.45 300.81h0M504.83 317.23h0M491.33 272.4h0M486.32 290.51h0M491.91 305.42h0M462.22 211.81h0M515.27 278.13h0M486.49 276.32h0M513.2 289.92h0M489.02 287.45h0M531.09 268.87h0M498.19 305.95h0M513.59 297.34h0M503.07 322.69h0M512.41 294.67h0M517.06 287.32h0M509.76 310.2h0M471.25 224.73h0M510.54 283.3h0M458.47 122.94h0M489.97 306.03h0M501.8 323.96h0M528.17 265.68h0M515.66 279.44h0M505.81 307.63h0M481.19 252.01h0M520.41 264.07h0M465.31 191.95h0M483.94 299.5h0M507.59 316.11h0M498.81 309.17h0M517.21 271.92h0M495.23 313h0M492.25 279.24h0M480.31 250.98h0M517.23 282.22h0M517.06 244.71h0M489.27 271.2h0M497.61 308.95h0M551.73 267.06h0M501.65 324.19h0M504.57 322.28h0M513.61 298.89h0M509.63 301.29h0M501.97 324.89h0M492.87 298.06h0M487.58 297.1h0M562.51 177.5h0M500.34 320.94h0M537.43 129.58h0M503.37 320.97h0M505.27 318.53h0M499.04 320.67h0M518.57 270.96h0M501.84 324.3h0M509.36 292.9h0M496.58 297.57h0M522.85 255.59h0M469.39 261.55h0M513.34 308.12h0M512.56 292.24h0M499.68 317.96h0M522.88 270.98h0M502.3 324.65h0M510.86 295.55h0M500.42 318.37h0M512.27 291.17h0M486.79 268.06h0M522.33 244.75h0M504.51 321.61h0M490.87 301.09h0M496.69 298.11h0M503.3 318.72h0M515.67 297.72h0M491.66 289.72h0M490.88 300.64h0M476.32 197.71h0M488.55 302.34h0M498.26 304.76h0M508.82 296.4h0M499.67 317.13h0M532.51 172.45h0M502.81 322.33h0M471.18 226.18h0M522.45 264.01h0M488.61 274.88h0M505.84 304.43h0M553.95 154.57h0M511.59 283.44h0M530.62 192.4h0M513.17 290.42h0M481.5 226.61h0M487.47 304.97h0M508.62 307.77h0M493.47 303h0M459.29 111.33h0M519.38 306.64h0M516.27 279.29h0M490.95 299.93h0M480.99 207.81h0M512.16 300.43h0M481.19 254.22h0M470.59 234.93h0M485.57 284.11h0M527.09 246.42h0M517.31 286.41h0M596.41 87.14h0M487.08 255.31h0M500.56 321.28h0M498.17 318.61h0M511.34 305.46h0M502.12 325.12h0M498.52 310.84h0M526.79 282.24h0M518.7 278.26h0M457.2 210.78h0M500.43 320.23h0M530.77 248.24h0M537.77 261.22h0M493.83 291.02h0M491.23 293.88h0M501.61 323.87h0M467.2 173.88h0M498.05 312.76h0M513.43 295.56h0M497.76 309.19h0M477.11 243.09h0M526.85 274.82h0M519.65 283.07h0M500.35 320.34h0M473.24 277.95h0M480.51 261.73h0M505.03 313.54h0M515.07 295.11h0M486.82 294.86h0M467.21 287.49h0M493.46 300.21h0M499.99 319.11h0M517.63 276.77h0M501.08 319.84h0M471.36 193.51h0M503.37 320.18h0M503.02 322.98h0M526.99 257.38h0M527.83 211.35h0M494.2 290.37h0M503.07 323.02h0M483.88 226.84h0M504.71 317.06h0M474.92 209.38h0M513.83 303.41h0M512.8 274.6h0M508.25 298.02h0M503.1 323.33h0M503.32 321.31h0M490.29 265.73h0M474.75 208.77h0M481.69 268.06h0M510.91 289.3h0M511.73 311.48h0M479.8 252.59h0M506.69 319.12h0M508.56 299.3h0M492.78 277.25h0M524.67 199.46h0M499.88 315.95h0M491.7 289.82h0M479.83 246.72h0M506.07 317.15h0M533.98 149.72h0M506.94 309.23h0M483.88 252.1h0M501.3 321.93h0M510.27 295.29h0M493.51 290.95h0M503.41 321.52h0M501.21 322.36h0M518.26 263.48h0M491.19 293.93h0M487.9 256.38h0M468.79 189.03h0M494.38 319.08h0M505.2 312.51h0M493.76 310.31h0M540.11 145.33h0M518.68 269.33h0M477 247.42h0M478.88 227.38h0M516.47 283.34h0M520.48 253.71h0M518.11 274.77h0M496.72 298.81h0M503.41 322.19h0M495.09 293.75h0M492.48 308.96h0M514.73 278.6h0M486.94 287.22h0M533.82 152.9h0M476.35 211.97h0M514.32 272.92h0M519.97 265.72h0M442.41 268.47h0M530.59 269.03h0M523.91 243.01h0M511.89 298.1h0M511.53 281.3h0M522.32 276.77h0M516.84 264.62h0M525.11 271.74h0M492.26 299.16h0M530.02 283.42h0M530.65 273.21h0M500.65 318.58h0M503.67 321.9h0M505.65 319.97h0M499.97 322.07h0M492.23 282.05h0M518.58 256.47h0M472.44 165.14h0M533.36 246.93h0M491.93 268.93h0M523.42 218.27h0M534.79 239.56h0M485.18 277.58h0M487.81 293.29h0M548.66 156.49h0M514.04 272.66h0M497.86 307.41h0M489.94 289.09h0M535.46 263.38h0M528.29 217.55h0M493.59 282.08h0M489.04 265.72h0M514.24 291.76h0M532.19 205.92h0M490.07 266.07h0M522.29 259.57h0M517.67 258.21h0M476.03 261.93h0M517.82 276.5h0M508.5 290.22h0M488.86 270.29h0M526.25 194.14h0M493.95 299.56h0M485.81 260h0M463.5 235.64h0M477.77 258.25h0M495.14 312.46h0M511.96 301.88h0M490.44 301.74h0M518.2 280.97h0M501.81 324.18h0M530.78 217.47h0M526.58 244.17h0M464.9 176.2h0M477.09 237.03h0M503.39 322.19h0M532.3 177.77h0M493 313.91h0M545 97.77h0M525.87 283.01h0M496.48 299.59h0M508.56 301.86h0M528.01 291.57h0M498.82 310.42h0M489.01 255.85h0M477.19 234.41h0M493.23 310.8h0M502.41 324.55h0M507.57 309.18h0M493.14 281.26h0M494.28 310.82h0M533.41 226.44h0M492.01 287.4h0M499.76 316.77h0M502.41 324.62h0M466.01 183.65h0M500.01 315.79h0M508.2 315.07h0M501.56 324.68h0M532.74 169.81h0M505.88 315.04h0M480.61 247.08h0M508.16 319.66h0M482.14 266.39h0M472.65 236.8h0M518.17 251.27h0M509.13 303.89h0M481.25 258.07h0M522.2 216.7h0M474.72 253.61h0M457.35 138.11h0M477.97 212.92h0M517.05 272.67h0M502.48 323.82h0M481.91 238.36h0M476.77 262.81h0M452.38 196.07h0M488.27 295.02h0M496.2 303.9h0M520.84 272.49h0M484.48 248.39h0M522.73 233.03h0M518.9 273.71h0M488.23 280.02h0M524.86 254.34h0M540.67 274.55h0M519.37 287.72h0M487.3 253.08h0M519.78 279.77h0M520.19 279.88h0M499.82 317.27h0M500.87 322.3h0M495.69 312.6h0M546.83 158.98h0M471.3 250.91h0M490.51 274.85h0M499.04 313.46h0M551.29 185.26h0M505.42 319.71h0" stroke="#707070" stroke-width="4.0"/><path d="M539.09 241.75h0M517.59 275.82h0M490.7 286.09h0M480.14 226.71h0M508.15 311.14h0M532.37 225.53h0M489.83 267.96h0M501.08 320.67h0M525.3 263.35h0M503.99 322.53h0M556.92 263.26h0M489.55 292.12h0M502.51 324.76h0M525.1 264.39h0M502.66 322.82h0M479.34 198.02h0M489.25 264.87h0M485.08 297.22h0M509.07 292.38h0M521.03 257.25h0M506.3 315.85h0M534.96 207.18h0M478 256.61h0M472.79 262.2h0M512.9 290.26h0M488.37 285.87h0M539.71 184.46h0M512.84 271.67h0M479.05 264.99h0M500.2 319.91h0M508.02 301.36h0M467.54 214.73h0M501.51 323.02h0M516.98 290.91h0M501.9 324.96h0M504.06 321.08h0M489.72 285.03h0M485.97 311.07h0M520.49 237.58h0M504.48 317.92h0M495.83 294.37h0M503.55 319.91h0M462.08 252.23h0M502.91 323.69h0M511.91 295.49h0M501.28 321.48h0M474.59 254.63h0M494.68 289.87h0M516.33 276.96h0M521.65 246.16h0M531.92 272.9h0M529.22 272.35h0M498.07 310.87h0M504.67 313.26h0M534.22 161.94h0M511.22 274.55h0M491.55 291.72h0M518.18 306.13h0M445.22 142.05h0M508.22 301.17h0M564.49 126.42h0M520.16 279.01h0M486.55 258.93h0M512.29 276.84h0M515.22 283.53h0M503.44 320.05h0M529.87 207.79h0M503.28 321.74h0M484.86 257.58h0M516.55 285.28h0M499.98 320.98h0M486.73 283.22h0M506.44 312.39h0M509.53 304.35h0M558.37 104.5h0M483.6 278.32h0M501.56 322.79h0M531.66 184.86h0M502.76 323.14h0M520.73 236.43h0M489.51 277.71h0M494.43 297.33h0M533.14 202.99h0M488.34 293.36h0M523.3 276.22h0M507.75 301.95h0M494.97 311.57h0M482.81 286.02h0M522.12 255.43h0M511.61 303h0M536.8 270.14h0M485.36 290.19h0M506.24 302.1h0M470.46 250.27h0M512.25 269.81h0M501.06 322h0M511.58 297.09h0M500.9 322.75h0M512.8 271.48h0M503.47 320.9h0M481.26 260.84h0M522.5 256.55h0M488.26 248.85h0M520.97 231.92h0M517.25 261.19h0M506.2 316.77h0M495.52 296.68h0M509.14 295.51h0M484.55 227.82h0M492.58 302.06h0M493.95 299.12h0M507.54 304.01h0M547.79 180.05h0M507.82 295.86h0M531.57 268.18h0M527.46 232.17h0M502.08 325.17h0M494.84 310.52h0M516.87 293.26h0M527.09 238.29h0M486.52 280.58h0M508.73 307.31h0M502.92 321.53h0M482.5 262.57h0M499.41 312.29h0M497.9 307.7h0M484.79 286.01h0M529.17 176.64h0M455.71 211.66h0M533.65 236.31h0M513.01 278.15h0M499.56 323.4h0M518.87 238.78h0M479.56 263.86h0M544.23 165.16h0M488.79 305.47h0M518.72 260.44h0M506.24 308.4h0M514.89 296.76h0M527.06 234.75h0M532.06 190.34h0M512.43 311.18h0M506.31 318.34h0M502.51 323.99h0M515.64 287.81h0M516.35 289.18h0M478.01 229.84h0M502.8 323.31h0M492.62 293.16h0M500.98 321.37h0M454.18 171.25h0M474.41 224.79h0M522.76 285.34h0M491.99 300.71h0M514.74 296.45h0M495.75 300.94h0M515.59 261.89h0M476.54 293.21h0M525.86 240.83h0M545.31 168.36h0M493.13 299.98h0M543.48 238.87h0M523.17 243.88h0M496.51 310.57h0M516.21 270.15h0M472.68 198.79h0M503.67 321.72h0M501.48 324.24h0M506.15 303.71h0M496.63 305.18h0M501.16 322.11h0M511.38 293.96h0M480.04 280.69h0M459.47 121.03h0M534.48 220.92h0M502.86 322.01h0M500.67 321.09h0M557.93 136.6h0M520.11 273.22h0M530.42 245.76h0M495.05 298.66h0M507.58 299.41h0M518.63 237.92h0M509.26 288.96h0M496.38 304.28h0M498.17 314.72h0M510.01 301.02h0M525.65 258.54h0M490.75 282.44h0M484.66 248.66h0M453.24 240.23h0M485.79 301.67h0M474.14 256h0M516.73 272.62h0M546.19 261.9h0M539.88 197.86h0M520.79 289.26h0M534.44 149.12h0M477.84 274.73h0M533.87 187.43h0M423.35 139.28h0M512.01 285.06h0M499.18 309.62h0M495.6 305.42h0M484.31 265.25h0M532.25 202.87h0M522.86 237.71h0M514.59 291.25h0M522.96 256.58h0M487.65 264.71h0M512.53 299.49h0M485.89 259.71h0M482.02 254.61h0M505.26 311.07h0M503.48 320.63h0M492.27 316.61h0M537.79 238.28h0M507.58 320.5h0M521.14 251.66h0M554.46 227.35h0M496.68 299.41h0M538.53 236.33h0M502.3 324.44h0M530.73 236.21h0M480.15 256.21h0M492.36 299.25h0M501.23 321.01h0M506.14 315.77h0M517.28 251.85h0M516.23 284.87h0M502.63 322.72h0M501.54 323.73h0M528.16 235.97h0M510.39 293.46h0M499.68 320.13h0M505.38 319.22h0M496.43 309.95h0M482.4 244.89h0M508.65 305.34h0M514.52 266.77h0M522.37 242.15h0M511.46 292.74h0M494.42 297.16h0M516.7 253.4h0M536.33 259.68h0M513.06 292.02h0M509.66 306.47h0M511.57 284.58h0M561.43 161.68h0M509.65 302h0M525.21 227.88h0M491.93 269.6h0M482.68 262.98h0M503.37 320.72h0M513.51 271.93h0M521.21 223.55h0M543.19 246.91h0M469.65 191.78h0M500.51 317.08h0M526.02 203.34h0M534.49 188.95h0M506.29 311.14h0M483.06 280.52h0M512.13 290.64h0M491.12 283.7h0M476.24 263.2h0M516.4 249.27h0M499.41 317.43h0M523.82 250.98h0M497.1 310.34h0M479.99 248.09h0M501.6 324.01h0M546.17 229.34h0M491.74 304.74h0M472.26 226.78h0M519.58 237.67h0M531.11 184.36h0M534.91 269.38h0M469.61 149.01h0M508.9 297.7h0M507.93 305.09h0M480.66 271.98h0M475.61 212.76h0M528.19 196.19h0M485.52 302.88h0M519.07 251.1h0M524.6 216.66h0M447.18 210.22h0M465.65 199.15h0M480.2 259.79h0M511.42 289.8h0M530.63 232.61h0M467.71 269.33h0M495.05 287.53h0M512.57 296.63h0M522.89 246.22h0M496.31 313.3h0M510.98 294.99h0M439.66 221.36h0M499.21 313.36h0M480.94 252.83h0M543.51 279.8h0M497.58 307.41h0M503.78 317.17h0M499.46 313.37h0M498.92 315.97h0M525.69 212.97h0M492.36 291.94h0M505.62 313.69h0M500.92 322.99h0M500.82 320.74h0M451.13 153.06h0M477.69 235.08h0M505.71 316.22h0M503.82 318.01h0M524.38 267.99h0M512.88 285.61h0M505.9 314.42h0M517.31 267.87h0M486.27 260.69h0M505.03 314.44h0M527.23 209.52h0M488.27 275.63h0M493.78 304.54h0M500.87 321.89h0M481.77 250.89h0M511.19 317.74h0M519.59 278.03h0M509.05 295.71h0M499.91 322.09h0M496.82 301.7h0M512.43 280.99h0M488.94 278.69h0M515.84 282.42h0M500.2 322.09h0M499.74 314.19h0M503.66 320.38h0M508 306.19h0M506.19 304.41h0M499.51 317.67h0M496.15 307.08h0M524.27 268.57h0M501.47 321.99h0M529.27 262.56h0M497.87 315.06h0M517.48 285.91h0M485.85 263.29h0M483.8 291.96h0M509.18 290.17h0M500.49 322.39h0M475.13 289.62h0M485.92 277.67h0M506.74 305.66h0M487.61 275.48h0M501 322.18h0M498.21 315.15h0M489.94 286.56h0M490.89 308.62h0M482.86 291.28h0M510.63 303.26h0M497.29 307.56h0M514.79 298.91h0M481.37 228.53h0M498.14 309.83h0M531.39 220.83h0M502.23 324.48h0M512.78 282.74h0M534.06 193.47h0M526.84 290.41h0M542.16 256.71h0M492.92 300.9h0M478.97 271.97h0M512.21 286.14h0M508.91 311.31h0M515.32 269.9h0M483.6 270.76h0M489.78 287.01h0M462.17 173.96h0M468.34 206.39h0M499.47 318.27h0M516.56 284.9h0M482.49 299.48h0M509.53 301.97h0M484.86 292.8h0M490.17 298.22h0M510.75 306.44h0M500.85 321.43h0M507.72 318.38h0M502.44 324.51h0M491.52 307.1h0M493.97 303.22h0M504.24 317.3h0M509.53 292.76h0M493.26 303.4h0M495.04 309.95h0M553.15 230.17h0M514.77 280.33h0M511.62 300.52h0M514.29 278.24h0M509.61 316.31h0M484.81 252.61h0M512.55 273.8h0M483.79 253.28h0M501.91 324.42h0M492.93 294.09h0M490.35 314.85h0M518.71 272.13h0M513.28 279.74h0M509.13 293.46h0M493.53 290.81h0M517.99 257.9h0M509.14 305.8h0M525.1 273.83h0M478.9 212.75h0M550.39 203.25h0M450.36 120.73h0M493.31 290.83h0M486.23 291.52h0M495.81 308.18h0M506.26 306.29h0M486.39 280.98h0M480.06 290.81h0M493.11 289.99h0M517 280.25h0M472.14 261.04h0M501.09 323.58h0M526.04 201.61h0M532.9 224.6h0M499.17 310.69h0M529.95 231.33h0M490.97 266.18h0M493.82 296.78h0M499.8 321.89h0M481.44 236.14h0M503.58 322.63h0M537.35 256.5h0M490.96 299.39h0M502.69 323.27h0M479.01 273.11h0M523.52 238.46h0M501.49 323.79h0M492.16 286.22h0M487.72 280.9h0M544.75 166.45h0M504.92 318.48h0M478.82 222.35h0M494.54 300.89h0M463.03 188.11h0M516.67 289.16h0M524.6 274.32h0M555.06 250.24h0M527.6 207.24h0M505.01 320.58h0M490.98 305.56h0M542.57 229.71h0M497.71 311.52h0M490.59 301.02h0M481.11 230.52h0M501.84 324.14h0M521.01 279.84h0M555.45 188.61h0M506.5 310.05h0M509.06 297.89h0M479.1 220.59h0M496.15 296.85h0M502.37 324.17h0M519.89 244.67h0M500.02 318.73h0M488.04 260.89h0M526.19 246.9h0M483.92 226.2h0M522.18 252.04h0M512.19 270.16h0M513.48 276.67h0M507.7 294.05h0M473.43 276.44h0M507.45 308.2h0M474.99 280.21h0M533.33 163.01h0M525.96 223.51h0M521.77 281.43h0M462.8 139.65h0M494.72 310.68h0M490.37 298.26h0M514.06 277.32h0M484.4 245.05h0M493.89 282.82h0M488.74 286.76h0M463.07 239.55h0M510.22 298.06h0M486.34 251.05h0M444.45 123.45h0M534.18 248.23h0M496.33 300.25h0M509.29 312.6h0M486.72 281.57h0M494.89 286.12h0M543.89 185.42h0M524.6 271.68h0M457.87 116.97h0M503.68 317.06h0M500.56 318.1h0M485.14 231.7h0M493.4 278.17h0M481.94 275.7h0M504.72 313.14h0M515.86 281.81h0M462.65 257.52h0M517.02 306.86h0M491.84 270.66h0M531.99 235.72h0M507.29 299.6h0M478 226.85h0M500.13 321.39h0M525.91 194.99h0M517.76 303.42h0M495.81 313.9h0M544.58 136.77h0M478.33 294.2h0M464.32 227.37h0M528.46 245.45h0M505.91 315.17h0M493.1 300.67h0M529.8 280.63h0M505.4 319.44h0M512.12 305.6h0M519.23 251.52h0M514.73 287.93h0M523.72 280.3h0M487.27 291.39h0M489.89 299.52h0M458.26 128.56h0M525.67 235.36h0M505.7 305.81h0M466.51 151.28h0M490.3 273.68h0M508.04 297.78h0M510.24 312.32h0M481.35 277.81h0M538.36 183.11h0M502.72 322.8h0M489.98 279.59h0M542.19 222.96h0M512.16 299.56h0M494.97 295.76h0M515.82 265.41h0M501.23 322.19h0M488.06 280.44h0M549.28 185.78h0M507.8 300.29h0M480.24 211.71h0M484.41 267.36h0M506.78 319.48h0M472.93 235.1h0M474.51 245.68h0M492.77 282.05h0M512.01 283.92h0M503.29 320.58h0M497.18 314.39h0M534.85 266.01h0M489.61 273.8h0M526.17 211.4h0M488.61 257.09h0M504.81 317.76h0M493.52 303.68h0M495.32 294.92h0M490.19 309.48h0M497.3 319.59h0M512.32 280.45h0M488.34 259.23h0M511.94 276.96h0M485.17 235.98h0M535.89 225.33h0M497.45 303.27h0M476.69 260.34h0M481.89 269.45h0M478.38 267.34h0M503.16 323.29h0M479.22 229.01h0M515.59 303.06h0M462.79 218.66h0M488.06 289.21h0M512.94 307.14h0M491.89 271.33h0M566.74 123.65h0M477.54 280.7h0M512.13 303.75h0M518.68 280.73h0M516.23 272.25h0M495.63 297.82h0M515.68 302.57h0M490.08 286.06h0M493.73 307.58h0M509.18 297.24h0M524.79 260.19h0M482.34 249.22h0M512.87 296.39h0M505.67 308.91h0M489.97 286.2h0M510.95 287.43h0M506.23 308.85h0M462.83 192.8h0M479.72 267.33h0M514.4 283.66h0M503.72 318.01h0M497.55 301.34h0M522.07 295.43h0M523.27 287.41h0M465.8 257.71h0M483.76 298.92h0M503.08 321.37h0M521.19 264.87h0M528.45 267.92h0M509.28 299.69h0M502.26 324.88h0M479.06 231.49h0M480.76 251.56h0M502.38 323.82h0M476.93 292.31h0M507.76 316.94h0M500.17 321.38h0M523.14 243.94h0M513.43 293.87h0M508.92 290.35h0M479.93 266.28h0M513.96 297.81h0M518.82 240.97h0M486.84 291.38h0M503.09 324.11h0M509.06 314.58h0M510.6 283.79h0M526.29 238.77h0M492.27 272.43h0M489.87 280.72h0M513.5 294.42h0M497.21 313.25h0M490.09 300.23h0M481.59 253.2h0M483.93 264.16h0M499.19 316.64h0M478.17 252.76h0M504.93 318.27h0M499.37 312.6h0M473.46 254.06h0M519.71 282.12h0M509.73 305.69h0M480.33 230.31h0M513.47 276.27h0M476.49 234.57h0M462.68 200.1h0M493.32 304.94h0M516.2 282.36h0M471.24 228.8h0M508.75 316.26h0M503.53 320.35h0M490.65 291.03h0M534.1 236.16h0M528.51 247.56h0M504.34 317.78h0M492.88 295.45h0M509.59 304.72h0M493.16 301.94h0M511.06 284.93h0M494.64 289.42h0M511.88 288.58h0M504.6 318.49h0M488.34 301.87h0M481.63 246.29h0M502.91 321.76h0M510.78 308.36h0M507.51 311.26h0M509.27 295.72h0M518.21 268.42h0M523.14 232.82h0M484.71 283.51h0M496.1 305.02h0M526.03 264.76h0M517.89 266.03h0M506.12 315.92h0M501.1 321.4h0M519.81 275.44h0M470.16 279.72h0M521.34 228.89h0M490.5 275.35h0M411.81 154.33h0M475.43 181.81h0M523.09 270.38h0M474.74 183.97h0M512.44 281.98h0M506.99 315.85h0M500.71 319.47h0M492.82 297.86h0M493.11 300.31h0M482.7 266.03h0M492.91 308.21h0M520.3 286.97h0M495.97 291.56h0M506.16 312.91h0M507.88 297.85h0M509.34 290.4h0M509.62 299.85h0M467.67 228.26h0M520.29 265.29h0M524.04 291.72h0M532.72 258.38h0M496.5 317.3h0M489.27 270.92h0M463.3 215.48h0M518.93 277.09h0M489.2 290.67h0M512.87 296.37h0M528.87 176.8h0M503.67 319.93h0M487.37 263.64h0M495.52 296.39h0M487 289.54h0M499.45 311.76h0M482.62 231.74h0M509.63 306.44h0M482.55 259.74h0M463.08 162.1h0M527.3 219.98h0M505.35 313.44h0M483.71 275.47h0M540.48 273.11h0M467.6 156.47h0M517.59 251.64h0M498.63 307.79h0M492.79 298.36h0M531.88 172.61h0M494.84 285.42h0M479.33 244.45h0M483.18 295.32h0M514.68 291.41h0M514.53 287.89h0M484.19 255.52h0M517.35 277.66h0M489.31 278.45h0M553.01 151.22h0M494.77 307.78h0M493.6 292.54h0M475.79 202.55h0M505.8 316.98h0M498.69 315.6h0M498.6 321.5h0M524.59 269.14h0M500.77 322.33h0M455.26 151.64h0M531.69 172.92h0M514.39 292.99h0M517.91 239.97h0M514.95 256.96h0M480.77 236.76h0M505.74 309.84h0M485.48 272.48h0M496.91 301.93h0M508.82 298.78h0M493.37 282.81h0M511.1 282.24h0M501.57 323.09h0M516.43 293.17h0M528.96 208.54h0M504.82 320.55h0M521.27 241.77h0M483.97 253.07h0M515.34 291.98h0M508.05 299.33h0M499.28 315.26h0M531.01 240.95h0M483.59 273.29h0M515.28 301.17h0M516.61 290.83h0M485.28 260.6h0M515.85 269.15h0M532.98 181.47h0M492.55 294.23h0M515.75 278.67h0M510.83 298.26h0M497.61 303.14h0M495.19 310.75h0M513.75 302.84h0M482.52 259.39h0M474.95 201.75h0M474.62 284.47h0M493.7 300.43h0M491.96 303.52h0M525.01 227.63h0M484.31 231.88h0M512.72 302.06h0M493.55 303.06h0M494.06 287.18h0M503.5 318.86h0M523.47 221.7h0M522.19 237.52h0M502.78 324.23h0M518.55 292.97h0M509.49 303.19h0M500.13 318.21h0M553.72 156.1h0M504.6 319.32h0M495.54 302.2h0M476.24 224.33h0M495.67 294.96h0M494.54 303.52h0M471.34 210.23h0M527.79 234.47h0M500.89 321.72h0M497.53 314.43h0M495.82 302.74h0M525.49 248.73h0M516.82 266.38h0M503.35 320.62h0M523.79 292.89h0M495.43 299.64h0M514.03 296.59h0M492.46 284.93h0M495.66 307.19h0M523.32 248.97h0M490.01 275.41h0M528.67 235.84h0M497.76 318.96h0M473 252.52h0M521.22 290.21h0M493.02 309.24h0M505.88 312.19h0M498.24 312.69h0M521.55 257.9h0M546.24 115.48h0M521.31 242.78h0M518.78 291.29h0M512.02 306.24h0M498.53 316.34h0M503.65 321.04h0M519.49 272.42h0M498.06 316.66h0M497.85 314.49h0M508.62 292.09h0M468.35 207.47h0M506.95 314.42h0M530.19 261.34h0M515.26 273.6h0M531.71 213.18h0M518.21 236h0M504.53 317.65h0M510.63 290.82h0M502.53 323.9h0M510.77 297.73h0M494.38 305.38h0M465.61 200.25h0M523.34 258.2h0M523.67 240.83h0M510.14 298.78h0M530.51 248.27h0M521.38 232.07h0M506.77 299.12h0M501.45 323.89h0M505.98 317.15h0M498.6 317.59h0M478.42 243.17h0M482.7 221.21h0M522.81 283.59h0M476.66 211.12h0M495.54 289h0M516.25 285.6h0M532.47 271.69h0M510.04 307.73h0M518.94 261.37h0M511.58 276.06h0M484.59 256.85h0M512.21 283.58h0M495.72 312.01h0M492.65 299.54h0M484.81 275.56h0M538.19 238.71h0M487.16 288.71h0M506.88 314.26h0M464.11 162.07h0M490.64 292.51h0M526.66 211.87h0M546.4 194.24h0M498.6 313.45h0M509.56 311.7h0M520.83 257.52h0M508.78 297.15h0M497.11 308.98h0M520.65 267h0M510.65 288.28h0M555.78 205.28h0M506.94 313.22h0M533.91 192.56h0M519.8 283.76h0M509.46 300.73h0M501.91 324.55h0M515.66 266.44h0M542.3 260.39h0M502.2 324.66h0M505.14 318.59h0M508.66 303.03h0M480.51 212.14h0M482.43 257.35h0M505.43 317.69h0M480.96 235.35h0M538.19 237.19h0M508.31 306.79h0M496.5 309.41h0M508.7 310.66h0M509.63 304.47h0M543.61 248.26h0M513.85 273.46h0M516.93 263.62h0M519.48 236.82h0M481.61 237.08h0M497.14 305.65h0M499.67 320.66h0M504.3 314.36h0M484.44 260.28h0M496.6 318.07h0M514.01 278.87h0M516.29 277.39h0M504.22 315.19h0M474.94 277.1h0M471.42 250.21h0M503.72 317.4h0M475.87 295.44h0M483.88 273.38h0M504.6 313.56h0M520.45 258.96h0M496.89 311.61h0M500.69 320.72h0M540.24 231.39h0M487.55 250.97h0M489.41 254.75h0M492.1 307.64h0M506.38 312.98h0M506.11 317.22h0M482.03 230.33h0M492.18 273.57h0M527.02 251.3h0M483.47 283.3h0M520.77 227.86h0M496.94 301.5h0M506.75 318.14h0M498.83 319.26h0M472.01 177.95h0M479.21 230.33h0M514.69 287.76h0M500.35 317.62h0M476.52 207.09h0M499.34 318.54h0M499.65 320.73h0M504.81 318.13h0M498.94 310.77h0M489.38 272.81h0M461.23 133.35h0M499.89 320.97h0M511 293.84h0M500.87 323.8h0M497.34 318.43h0M497.42 314.47h0M509.91 301.78h0M502.68 324h0M494.44 313.06h0M487.53 280.97h0M526.41 222.14h0M495.4 312.71h0M498.85 310.36h0M502.6 323.65h0M539.16 130.71h0M483.61 238.25h0M514.43 282.13h0M496.11 297.5h0M504.28 316.1h0M542.26 176.58h0M505.28 316.09h0M501.43 322.56h0M507.33 297.85h0M529.63 213.01h0M498.6 318.78h0M528.05 217.99h0M455.65 172.73h0M470.52 283.97h0M484.82 270.71h0M525.4 257.47h0M520.81 298.91h0M512.26 293.07h0M494.96 310.11h0M513.42 297.7h0M536.5 213.61h0M497.84 308.11h0M510.02 314.17h0M518.87 287.64h0M478.2 293.01h0M494.72 292.98h0M510.59 292.04h0M510.33 281.15h0M514.47 302.4h0M532.31 164.18h0M530.62 198.93h0M512.64 308.35h0M572.45 94.14h0M522.92 293.25h0M507.25 299.85h0M510.14 285.8h0M509.5 311.34h0M469.78 212.21h0M511.23 301.25h0M527.69 238.39h0M502.9 321.55h0M489.7 286.08h0M491.39 304.14h0M505.93 305.92h0M495.27 307.13h0M500.25 321.63h0M486.14 284.96h0M486.05 274.64h0M522.67 216.18h0M472.81 249.16h0M482.61 262.61h0M512.95 270.02h0M477.21 264.74h0M486.1 277.15h0M512.9 293.74h0M509.12 288.4h0M510.98 307.58h0M503.92 321.15h0M465.43 203.25h0M520.91 245.08h0M502.1 325.19h0M525.27 212.5h0M544.73 225.79h0M509.76 291.15h0M502.78 323.88h0M459.73 146.26h0M450.38 110.63h0M505.3 314.69h0M486.63 293.99h0M498.11 319.07h0M501.08 323.09h0M519.73 239.04h0M494.23 304.27h0M504.36 313.01h0M506.61 311.03h0M457.45 240.73h0M506.1 314.6h0M518.45 250.93h0M486.13 276.93h0M465.86 186.62h0M479.59 274.07h0M495.07 311.79h0M523.23 240.41h0M498.26 317.62h0M516.97 278.09h0M488.01 278.14h0M509.59 292.73h0M485.32 249.42h0M459.3 237.68h0M480.14 257.53h0M508.18 304.85h0M515.25 283.48h0M525.15 273.87h0M509.55 314.97h0M558.84 218.11h0M505.12 317.51h0M513.15 293.7h0M486.26 293.26h0M482.15 256.88h0M507.19 313.34h0M492.16 287.42h0M486.19 260.05h0M490.97 304.67h0M528.66 254.98h0M503.43 321.44h0M543.41 115.33h0M496.29 299.53h0M536.88 192.1h0M477.05 244.51h0M510.24 291.44h0M545.29 212.51h0M556.08 101.7h0M510.63 295.08h0M502.41 323.69h0M475.29 262.2h0M507.61 303.07h0M518.29 292.32h0M506.32 315.84h0M516.34 263.62h0M468.74 191.77h0M530.65 261.74h0M495.32 294.52h0M522.88 261.67h0M512.25 290.15h0M460.26 118.54h0M514.98 275.56h0M496.77 297.24h0M497.98 314.43h0M481.99 219.52h0M525.8 228.19h0M510.29 302.83h0M465.21 205.81h0M510.78 306.56h0M500.69 321.37h0M510.5 307.97h0M510.86 276.46h0M509.7 288h0M506.37 318.67h0M474.63 257.19h0M499.37 313.34h0M509.59 315.88h0M506.31 313.29h0M516.43 268.69h0M546.03 175.47h0M510.26 303.74h0M503.39 318.89h0M493.5 303.86h0M530.93 178.59h0M512.73 290.88h0M512.74 273.99h0M543.05 138.03h0M502.92 321.26h0M509.55 306.66h0M463.06 185.24h0M525.2 288.94h0M494.73 307.88h0M541.65 237.27h0M486.48 251.43h0M484.38 286.62h0M494.26 307.52h0M506.53 311.82h0M505.42 314.99h0M481.33 230.33h0M502.9 323.88h0M507.67 307.94h0M484.88 265.04h0M510.76 283.48h0M501.77 324.21h0M518.75 301.58h0M513.56 306.1h0M536.5 247.79h0M509.19 292.28h0M477.95 238.65h0M505.73 306.73h0M483.64 281.72h0M502.71 323.31h0M457.04 167.34h0M532.23 171.02h0M515.75 290.2h0M489.17 300.91h0M492.73 273.73h0M506.24 308.64h0M490.28 275.3h0M522.6 230.44h0M518.85 252.71h0M482.78 275.56h0M537.98 229.32h0M492.34 282.98h0M473.91 269.93h0M488.69 262.31h0M498.85 315.93h0M505.08 314.25h0M506.18 303.27h0M490.47 283.19h0M515.47 266.63h0M492.07 294.75h0M507.46 302.56h0M506.56 304.43h0M486.3 251.47h0M472.37 231.98h0M477.15 274.48h0M524.29 230.02h0M508.94 297.51h0M493.77 278.92h0M458.23 164.97h0M486.68 280.23h0M510.93 296.35h0M480.64 282.64h0M470.48 237.8h0M502.45 323.44h0M498.25 316.51h0M538.67 124.37h0M538.25 180.15h0M509.7 297.45h0M527.41 253.83h0M514.77 261.76h0M520.57 266.89h0M492.8 292.99h0M521 264.01h0M487.19 277.82h0M485.62 257.99h0M493.79 306.84h0M498.59 316.63h0M476.77 275.89h0M508.69 304.99h0M478.01 228.07h0M450.76 181.79h0M511.63 293.32h0M508.59 292.42h0M526.53 248.9h0M489.39 299.6h0M487.26 255.79h0M533.18 223.56h0M486.46 276.38h0M522.56 287.21h0M536.75 257.08h0M498.47 308.67h0M517.18 264.79h0M530.48 232.62h0M513.42 298.45h0M483.67 251.94h0M493.88 306.42h0M498.03 313.79h0M472.4 194.32h0M492.49 282.95h0M506.5 314.39h0M489.19 267.24h0M486.59 258.8h0M491.93 295.64h0M490.9 305.69h0M514.96 277.14h0M498.53 313.47h0M504.04 320.11h0M471.86 270.58h0M503.82 317.94h0M489.55 274.37h0M454.33 153.89h0M539.84 157.22h0M503.37 320.84h0M504.18 321.62h0M442.31 229.54h0M519.12 263.35h0M500.1 321.64h0M521.85 273.83h0M494.39 288.24h0M484.06 242.22h0M493.52 306.29h0M497.35 315.36h0M498.06 313.7h0M499.37 320.36h0M492.38 296.75h0M500.53 316.93h0M511.26 291.2h0M476.35 260.58h0M537.43 157.28h0M534.24 220.27h0M472.34 159.9h0M496.56 298.46h0M562.9 143.27h0M534.72 145.04h0M509.47 285.92h0M503 321.95h0M508.25 313.7h0M492.59 299.92h0M528.54 280.63h0M508.78 301.07h0M490.88 302.9h0M493.57 309.53h0M536.68 178.88h0M497.97 309.91h0M516.53 299.41h0M503.75 319.22h0M529.35 237.2h0M495.5 315.06h0M495.45 297.3h0M471.6 281.65h0M499.75 315.29h0M547.49 102.91h0M494.92 304.27h0M513.29 266.7h0M494.56 301.3h0M515.8 267.89h0M484.94 271.5h0M509.46 310.95h0M516.42 278.21h0M494.21 282.35h0M491 284.67h0M525.71 255.9h0M505.64 310.91h0M512.9 288.74h0M486.38 298.58h0M455.36 134.91h0M482.43 249.86h0M532.78 243.59h0M491.18 282.98h0M550.23 199.78h0M497.3 308.78h0M489.89 281.53h0M505.99 308.81h0M464.03 234.49h0M462.16 240.71h0M494.92 300.96h0M516.17 250.6h0M506.31 316.6h0M509.47 302.73h0M514.32 268.55h0M488.58 269.13h0M519.47 234.66h0M493.22 289.01h0M463.45 165.05h0M497.06 306.8h0M488.08 252.47h0M502.24 324.6h0M519.78 278.49h0M497.73 307.77h0M501.59 322.84h0M485.39 253.17h0M489.58 281.52h0M473.41 280.4h0M461.42 225.51h0M486.05 250.91h0M505.91 313.86h0M491.72 270.74h0M501.11 321.9h0M481 291.51h0M474.83 243.75h0M517.85 245.6h0M509.81 300.63h0M498.11 317.81h0M503.06 320.8h0M505.64 310.55h0M500.84 322.38h0M535.96 186.59h0M518.14 269.87h0M515.07 274.93h0M480.21 290h0M496.53 313.07h0M517.81 288.84h0M480.66 266.09h0M508.87 301.56h0M513.21 278.99h0M527.65 241.72h0M494.6 284.91h0M479.94 210.55h0M476.06 271.47h0M513.3 286.06h0M495.53 303.05h0M516.45 278.12h0M502.12 325.09h0M448.89 198.64h0M490.22 266.69h0M498.56 316.7h0M485.2 269.14h0M505.98 318.95h0M477.2 268.42h0M481.96 262.12h0M529.28 196.22h0M486.64 281.02h0M497.52 310.77h0M490.59 271.54h0M459.76 161.19h0M519.05 247.52h0M473.52 277.54h0M510.55 310.2h0M491.96 303.36h0M532.26 220.67h0M451.66 126.22h0M479.85 206.85h0M503.72 319.93h0M509.99 294.28h0M483.15 249.35h0M508.58 313.84h0M494.61 311.04h0M511.17 284.79h0M553.58 248.57h0M522.62 285h0M527.4 242.51h0M506.69 309.61h0M483.42 265.61h0M499.27 314.31h0M537.37 148.38h0M511.48 277.96h0M502.86 323.44h0M515.26 275.53h0M499.41 316.56h0M480.72 265.93h0M516.08 305.77h0M534.17 265.98h0M527.53 230.6h0M521.07 280.56h0M512.09 301.16h0M493.73 305.65h0M474.95 294.86h0M537.38 128.22h0M488.05 252.98h0M455.56 99.72h0M522.08 287.19h0M517.68 258.7h0M531.08 200.94h0M478.16 243.57h0M513.97 300.77h0M542.19 240.96h0M492.03 277.81h0M489 297.09h0M506.43 320.35h0M489.64 302.51h0M454.87 156.01h0M489.15 254.71h0M505.49 309.07h0M539.4 165.62h0M500.44 318.65h0M550.39 109.87h0M515.67 302.16h0M487 285.6h0M511.92 279.76h0M488.86 287.51h0M486.7 271.46h0M469.21 232.02h0M465.53 213.24h0M475.46 236.81h0M478.37 222.96h0M474.66 267.35h0M590.52 146.75h0M511.63 299.97h0M487.69 279.94h0M499.98 319.57h0M468.89 189.85h0M481.77 264.53h0M490.59 304.53h0M499.05 315.77h0M484.44 242.71h0M525.58 295.01h0M486.95 242.06h0M493.18 289.97h0M490.58 288.98h0M521.09 255.62h0M508.75 310.13h0M499.28 319.66h0M496.94 307.75h0M543.5 130.91h0M497.39 311.02h0M491.92 314.11h0M482.58 232.04h0M482.72 249.82h0M514.72 298.67h0M474.94 273.55h0M518.54 284.86h0M519.03 254.69h0M490.37 285.6h0M500.61 321.74h0M542.82 218.65h0M491.84 306.98h0M478.34 266.31h0M495.19 304.68h0M498.04 316.62h0M517.18 248.88h0M498.11 313.2h0M529.25 221.29h0M480.4 276.07h0M536.1 142.32h0M509.36 290.34h0M523.38 261.22h0M500.47 321.92h0M492.3 301.57h0M505.02 314.54h0M504.38 316.05h0M487.14 281.33h0M490.47 302.62h0M523 224.42h0M519.41 280.65h0M479.75 261.03h0M517.83 279.35h0M501.88 324.35h0M518.93 274.46h0M461.21 195.85h0M488.41 293.25h0M516.85 283.82h0M501.43 323.74h0M489.42 270.81h0M485.46 286.03h0M463.72 142.37h0M483.54 268.62h0M557.21 177.98h0M514.01 296.49h0M498.76 312.54h0M541.4 165.78h0M499.37 317.3h0M526.54 302.26h0M521.91 222.08h0M469.17 203.74h0M501.95 324.42h0M470.15 190.08h0M524.62 206.77h0M505.72 307.28h0M504.92 313.26h0M494.61 294.61h0M483.06 245.55h0M504.77 314.18h0M530.12 288.45h0M513.54 277.63h0M548.32 237.4h0M502.2 324.93h0M507.7 308.32h0M538.39 201.83h0M520.59 263.59h0M532.22 232.94h0M530.67 201.74h0M503.33 322.2h0M482.69 265.18h0M504.61 320.65h0M503.14 322.8h0M525.63 233.61h0M464.41 193.08h0M499.8 314.72h0M502.44 324.1h0M537.09 192.37h0M543.27 169.06h0M483.7 308.41h0M489.19 293.97h0M480.2 264.51h0M505.47 310.22h0M502.78 323.91h0M480.57 250.14h0M496.33 294.66h0M508.96 307.43h0M493.2 301.65h0M506.31 308.63h0M562.38 108.08h0M482.25 269.65h0M508.29 315.07h0M519.74 231.77h0M521.79 255.73h0M537.58 151.44h0M515.08 285.86h0M487.61 270.78h0M495.62 315.16h0M480.9 270.57h0M487.24 265.59h0M530.2 281.4h0M539.34 152.78h0M507.29 311.47h0M490.16 285.21h0M488.97 286.85h0M495.95 291.67h0M555.31 176.1h0M484.79 242.35h0M504.46 322.28h0M477.48 194.62h0M504.95 316.07h0M541.89 117.35h0M468.3 244.04h0M494.76 301.47h0M505.64 314.51h0M499.52 313.5h0M495.63 305.06h0M505.72 315.27h0M475.85 252.38h0M491.63 279.35h0M468.13 153.59h0M491.49 284.27h0M505.13 315.58h0M523.72 219.58h0M501.25 322.56h0M528.45 226.3h0M501.97 324.63h0M534.11 256.38h0M481.12 281.47h0M504.7 315.16h0M503.65 319.97h0M483.63 297.73h0M489.98 293.43h0M484.93 239.61h0M501.14 323.25h0M514.82 275.7h0M485.4 263.81h0M516.18 287.5h0M509.83 314.45h0M506.98 318.25h0M493.78 313.74h0M501.27 323.07h0M498.5 314.41h0M474.86 206.21h0M498.72 316.14h0M479.73 289.96h0M488.84 291.94h0M503.37 322.13h0M496.04 297.74h0M541.85 151.05h0M495.86 293.6h0M511.11 298.4h0M526.94 211.87h0M516.22 278.57h0M509.06 310.34h0M511.53 305.61h0M426.14 158.2h0M516.94 250.03h0M499.46 317.05h0M504.22 322.26h0M492.24 297.24h0M486.15 287.49h0M502.33 324.29h0M540.76 171.03h0M522.17 255.59h0M502.21 324.73h0M489.1 280.62h0M474.37 285.07h0M514.55 306.99h0M501.47 323.06h0M498.22 306.94h0M518.89 262.45h0M465.95 212.84h0M512.8 281.81h0M530.2 230.8h0M483.24 254.22h0M474.29 198.64h0M503.13 322.13h0M498.86 313.01h0M506.66 300.36h0M499.43 316.6h0M491.84 272.23h0M513.92 302.68h0M494.34 298.69h0M501.93 324.77h0M497.91 314.39h0M474.27 201.75h0M527.44 260.66h0M496.74 296.04h0M541.02 165.53h0M479.21 210.15h0M489.89 282.66h0M498.03 308.75h0M515.47 288.7h0M492.1 278.42h0M509.59 295.43h0M511.27 307.11h0M510.44 295.98h0M521.06 287.94h0M507.5 295.58h0M546.16 167.28h0M487.88 304.43h0M508.44 317.41h0M507.37 304.08h0M505.57 313.97h0M506.9 306.97h0M497.57 313.33h0M521.24 264.83h0M496.34 304.97h0M493.31 301.57h0M497.69 305.48h0M496.76 315.11h0M518.89 249.19h0M511.35 301.77h0M515.48 254.99h0M487.23 273.09h0M492.37 305.62h0M519.82 228.63h0M486.51 269.43h0M510.66 299.79h0M475.8 207.81h0M483.55 268.97h0M548.71 216.68h0M470.99 212.83h0M473.6 197.06h0M513.37 285.75h0M479.19 287.95h0M477.69 266.75h0M480.55 227.14h0M514.66 275.94h0M505.86 313.85h0M534.12 218.37h0M502.23 325h0M496.17 308.07h0M539.05 222.88h0M482.56 261.68h0M517.79 282.7h0M491.86 312.14h0M509.66 301.96h0M511.44 301.86h0M504.42 319.89h0M495.5 314.87h0M511.81 293.54h0M515.05 270.95h0M502.01 324.73h0M472.05 195.16h0M502.41 323.94h0M522.09 248.2h0M513.21 294.19h0M492.17 308.19h0M512.82 287.57h0M522.12 300.89h0M409.07 153.41h0M531.81 250.47h0M524.98 229.37h0M523.25 228.67h0M494.25 307.66h0M530.31 195.6h0M503.46 320.63h0M513.09 270.23h0M508.45 312.42h0M459.95 239.08h0M494.57 299.08h0M492.67 289.35h0M515.07 298.47h0M519.84 275.87h0M515.82 261.47h0M499.4 318.57h0M508.46 294.95h0M483.73 229.26h0M485.71 281.36h0M492.72 296.07h0M496.71 302.03h0M507.78 311.09h0M530.39 202.83h0M515.54 273.58h0M540.56 199.19h0M487.2 242.87h0M507.5 310.54h0M510.05 304.92h0M519.32 263.57h0M490.96 263.21h0M506.26 307.63h0M522.5 240.56h0M498.44 314.1h0M515.47 288.36h0M508.44 308.2h0M503.98 322.2h0M506.87 303.61h0M485.86 262.22h0M510.36 303.18h0M508.91 295.72h0M514.14 281.16h0M501.36 322.96h0M460.11 140.3h0M505.02 318.29h0M540.44 121.39h0M485.08 271.56h0M479.13 196.84h0M512.93 283.92h0M571.06 199.88h0M510.48 305.11h0M504.54 321.15h0M529.47 274.92h0M497.59 315.9h0M501.79 324.16h0M535.24 220.58h0M559.55 144.77h0M487.38 260.37h0M497.61 314h0M504.09 320.04h0M515.81 286.63h0M504.09 317.61h0M465.86 221.83h0M439.83 127.95h0M467.88 261.64h0M482.09 267.23h0M498.82 317.78h0M507.53 316.92h0M495.05 299.64h0M537.22 129.95h0M513.3 284.89h0M480.06 222.08h0M494.07 302.09h0M524.69 276.85h0M500.86 322.33h0M494.45 300.81h0M504.83 317.23h0M491.33 272.4h0M486.32 290.51h0M491.91 305.42h0M462.22 211.81h0M515.27 278.13h0M486.49 276.32h0M513.2 289.92h0M489.02 287.45h0M531.09 268.87h0M498.19 305.95h0M513.59 297.34h0M503.07 322.69h0M512.41 294.67h0M517.06 287.32h0M509.76 310.2h0M471.25 224.73h0M510.54 283.3h0M458.47 122.94h0M489.97 306.03h0M501.8 323.96h0M528.17 265.68h0M515.66 279.44h0M505.81 307.63h0M481.19 252.01h0M520.41 264.07h0M465.31 191.95h0M483.94 299.5h0M507.59 316.11h0M498.81 309.17h0M517.21 271.92h0M495.23 313h0M492.25 279.24h0M480.31 250.98h0M517.23 282.22h0M517.06 244.71h0M489.27 271.2h0M497.61 308.95h0M551.73 267.06h0M501.65 324.19h0M504.57 322.28h0M513.61 298.89h0M509.63 301.29h0M501.97 324.89h0M492.87 298.06h0M487.58 297.1h0M562.51 177.5h0M500.34 320.94h0M537.43 129.58h0M503.37 320.97h0M505.27 318.53h0M499.04 320.67h0M518.57 270.96h0M501.84 324.3h0M509.36 292.9h0M496.58 297.57h0M522.85 255.59h0M469.39 261.55h0M513.34 308.12h0M512.56 292.24h0M499.68 317.96h0M522.88 270.98h0M502.3 324.65h0M510.86 295.55h0M500.42 318.37h0M512.27 291.17h0M486.79 268.06h0M522.33 244.75h0M504.51 321.61h0M490.87 301.09h0M496.69 298.11h0M503.3 318.72h0M515.67 297.72h0M491.66 289.72h0M490.88 300.64h0M476.32 197.71h0M488.55 302.34h0M498.26 304.76h0M508.82 296.4h0M499.67 317.13h0M532.51 172.45h0M502.81 322.33h0M471.18 226.18h0M522.45 264.01h0M488.61 274.88h0M505.84 304.43h0M553.95 154.57h0M511.59 283.44h0M530.62 192.4h0M513.17 290.42h0M481.5 226.61h0M487.47 304.97h0M508.62 307.77h0M493.47 303h0M459.29 111.33h0M519.38 306.64h0M516.27 279.29h0M490.95 299.93h0M480.99 207.81h0M512.16 300.43h0M481.19 254.22h0M470.59 234.93h0M485.57 284.11h0M527.09 246.42h0M517.31 286.41h0M596.41 87.14h0M487.08 255.31h0M500.56 321.28h0M498.17 318.61h0M511.34 305.46h0M502.12 325.12h0M498.52 310.84h0M526.79 282.24h0M518.7 278.26h0M457.2 210.78h0M500.43 320.23h0M530.77 248.24h0M537.77 261.22h0M493.83 291.02h0M491.23 293.88h0M501.61 323.87h0M467.2 173.88h0M498.05 312.76h0M513.43 295.56h0M497.76 309.19h0M477.11 243.09h0M526.85 274.82h0M519.65 283.07h0M500.35 320.34h0M473.24 277.95h0M480.51 261.73h0M505.03 313.54h0M515.07 295.11h0M486.82 294.86h0M467.21 287.49h0M493.46 300.21h0M499.99 319.11h0M517.63 276.77h0M501.08 319.84h0M471.36 193.51h0M503.37 320.18h0M503.02 322.98h0M526.99 257.38h0M527.83 211.35h0M494.2 290.37h0M503.07 323.02h0M483.88 226.84h0M504.71 317.06h0M474.92 209.38h0M513.83 303.41h0M512.8 274.6h0M508.25 298.02h0M503.1 323.33h0M503.32 321.31h0M490.29 265.73h0M474.75 208.77h0M481.69 268.06h0M510.91 289.3h0M511.73 311.48h0M479.8 252.59h0M506.69 319.12h0M508.56 299.3h0M492.78 277.25h0M524.67 199.46h0M499.88 315.95h0M491.7 289.82h0M479.83 246.72h0M506.07 317.15h0M533.98 149.72h0M506.94 309.23h0M483.88 252.1h0M501.3 321.93h0M510.27 295.29h0M493.51 290.95h0M503.41 321.52h0M501.21 322.36h0M518.26 263.48h0M491.19 293.93h0M487.9 256.38h0M468.79 189.03h0M494.38 319.08h0M505.2 312.51h0M493.76 310.31h0M540.11 145.33h0M518.68 269.33h0M477 247.42h0M478.88 227.38h0M516.47 283.34h0M520.48 253.71h0M518.11 274.77h0M496.72 298.81h0M503.41 322.19h0M495.09 293.75h0M492.48 308.96h0M514.73 278.6h0M486.94 287.22h0M533.82 152.9h0M476.35 211.97h0M514.32 272.92h0M519.97 265.72h0M442.41 268.47h0M530.59 269.03h0M523.91 243.01h0M511.89 298.1h0M511.53 281.3h0M522.32 276.77h0M516.84 264.62h0M525.11 271.74h0M492.26 299.16h0M530.02 283.42h0M530.65 273.21h0M500.65 318.58h0M503.67 321.9h0M505.65 319.97h0M499.97 322.07h0M492.23 282.05h0M518.58 256.47h0M472.44 165.14h0M533.36 246.93h0M491.93 268.93h0M523.42 218.27h0M534.79 239.56h0M485.18 277.58h0M487.81 293.29h0M548.66 156.49h0M514.04 272.66h0M497.86 307.41h0M489.94 289.09h0M535.46 263.38h0M528.29 217.55h0M493.59 282.08h0M489.04 265.72h0M514.24 291.76h0M532.19 205.92h0M490.07 266.07h0M522.29 259.57h0M517.67 258.21h0M476.03 261.93h0M517.82 276.5h0M508.5 290.22h0M488.86 270.29h0M526.25 194.14h0M493.95 299.56h0M485.81 260h0M463.5 235.64h0M477.77 258.25h0M495.14 312.46h0M511.96 301.88h0M490.44 301.74h0M518.2 280.97h0M501.81 324.18h0M530.78 217.47h0M526.58 244.17h0M464.9 176.2h0M477.09 237.03h0M503.39 322.19h0M532.3 177.77h0M493 313.91h0M545 97.77h0M525.87 283.01h0M496.48 299.59h0M508.56 301.86h0M528.01 291.57h0M498.82 310.42h0M489.01 255.85h0M477.19 234.41h0M493.23 310.8h0M502.41 324.55h0M507.57 309.18h0M493.14 281.26h0M494.28 310.82h0M533.41 226.44h0M492.01 287.4h0M499.76 316.77h0M502.41 324.62h0M466.01 183.65h0M500.01 315.79h0M508.2 315.07h0M501.56 324.68h0M532.74 169.81h0M505.88 315.04h0M480.61 247.08h0M508.16 319.66h0M482.14 266.39h0M472.65 236.8h0M518.17 251.27h0M509.13 303.89h0M481.25 258.07h0M522.2 216.7h0M474.72 253.61h0M457.35 138.11h0M477.97 212.92h0M517.05 272.67h0M502.48 323.82h0M481.91 238.36h0M476.77 262.81h0M452.38 196.07h0M488.27 295.02h0M496.2 303.9h0M520.84 272.49h0M484.48 248.39h0M522.73 233.03h0M518.9 273.71h0M488.23 280.02h0M524.86 254.34h0M540.67 274.55h0M519.37 287.72h0M487.3 253.08h0M519.78 279.77h0M520.19 279.88h0M499.82 317.27h0M500.87 322.3h0M495.69 312.6h0M546.83 158.98h0M471.3 250.91h0M490.51 274.85h0M499.04 313.46h0M551.29 185.26h0M505.42 319.71h0" stroke="#f5a000" stroke-width="3.3"/></g></g>
<rect x="361.2" y="75.6" width="140.2" height="18.3" fill="#fff"/>
<ellipse cx="366.8" cy="84" rx="2.9" ry="3.4" fill="#f5a623"/>
<g transform="translate(375.16,89.5) scale(1.0298,1)"><text fill="#231f20"><tspan x="0" y="0" font-size="17">Predicted RBPs</tspan></text></g>
<rect x="360.5" y="74.9" width="312.8" height="262.1" fill="none" stroke="#444" stroke-width="1.3"/>
<g transform="translate(343.73,330.2) scale(1.0000,1)"><text fill="#231f20"><tspan x="0" y="0" font-size="16">0</tspan></text></g>
<g transform="translate(343.88,278.6) scale(1.0000,1)"><text fill="#231f20"><tspan x="0" y="0" font-size="16">1</tspan></text></g>
<g transform="translate(343.91,227) scale(1.0000,1)"><text fill="#231f20"><tspan x="0" y="0" font-size="16">2</tspan></text></g>
<g transform="translate(343.8,175.4) scale(1.0000,1)"><text fill="#231f20"><tspan x="0" y="0" font-size="16">3</tspan></text></g>
<g transform="translate(343.57,123.8) scale(1.0000,1)"><text fill="#231f20"><tspan x="0" y="0" font-size="16">4</tspan></text></g>
<g transform="translate(357.11,356.7) scale(0.8770,1)"><text fill="#231f20"><tspan x="0" y="0" font-size="16">−2</tspan></text></g>
<g transform="translate(426.37,356.7) scale(0.8037,1)"><text fill="#231f20"><tspan x="0" y="0" font-size="16">−1</tspan></text></g>
<g transform="translate(497.65,356.7) scale(1.0000,1)"><text fill="#231f20"><tspan x="0" y="0" font-size="16">0</tspan></text></g>
<g transform="translate(565.53,356.7) scale(1.0000,1)"><text fill="#231f20"><tspan x="0" y="0" font-size="16">1</tspan></text></g>
<g transform="translate(633.85,356.7) scale(1.0000,1)"><text fill="#231f20"><tspan x="0" y="0" font-size="16">2</tspan></text></g>
<g transform="translate(433.63,383) scale(1.1095,1)"><text fill="#231f20"><tspan x="0" y="0" font-size="17">log</tspan><tspan x="22.69" y="4.5" font-size="11">2</tspan><tspan x="28.8" y="0" font-size="17">(proteomics FC)</tspan></text></g>
<g transform="translate(323.6,289.4) rotate(-90)"><g transform="translate(-0.91,0) scale(1.0900,1)"><text fill="#231f20"><tspan x="0" y="0" font-size="17">−log</tspan><tspan x="32.61" y="4.5" font-size="11">10</tspan><tspan x="44.85" y="0" font-size="17">(proteomics </tspan><tspan x="138.37" y="0" font-size="17" font-style="italic">P</tspan><tspan x="149.71" y="0" font-size="17">)</tspan></text></g></g>
<line x1="84.9" y1="481.8" x2="84.9" y2="744.1" stroke="#ebebeb" stroke-width="1.0"/><line x1="139.4" y1="481.8" x2="139.4" y2="744.1" stroke="#ebebeb" stroke-width="1.0"/><line x1="52.6" y1="738.6" x2="172.5" y2="738.6" stroke="#ebebeb" stroke-width="1.0"/><line x1="52.6" y1="710.2" x2="172.5" y2="710.2" stroke="#ebebeb" stroke-width="1.0"/><line x1="52.6" y1="681.8" x2="172.5" y2="681.8" stroke="#ebebeb" stroke-width="1.0"/><line x1="52.6" y1="653.4" x2="172.5" y2="653.4" stroke="#ebebeb" stroke-width="1.0"/><line x1="52.6" y1="596.6" x2="172.5" y2="596.6" stroke="#ebebeb" stroke-width="1.0"/><line x1="52.6" y1="568.2" x2="172.5" y2="568.2" stroke="#ebebeb" stroke-width="1.0"/><line x1="52.6" y1="539.8" x2="172.5" y2="539.8" stroke="#ebebeb" stroke-width="1.0"/><line x1="52.6" y1="511.4" x2="172.5" y2="511.4" stroke="#ebebeb" stroke-width="1.0"/><line x1="52.6" y1="625" x2="172.5" y2="625" stroke="#e2e2e2" stroke-width="3.2"/>
<polygon points="84.1,529.5 83.4,545 82.2,560 81.3,570 80.8,575 80,580 78.9,585 76.9,590 74.7,595 73.4,600 71,605 69,610 68,612 64.9,615 62.5,620 62,625 64.9,630 67.9,635 70.5,640 73.8,645 76.5,650 78.2,655 80.4,660 81.3,665 81.9,670 82.6,680 83.2,700 83.9,735 86.1,735 86.8,700 87.4,680 88.1,670 88.7,665 89.6,660 91.8,655 93.5,650 96.2,645 99.5,640 102.1,635 105.1,630 108,625 107.5,620 105.1,615 102,612 101,610 99,605 96.6,600 95.3,595 93.1,590 91.1,585 90,580 89.2,575 88.7,570 87.8,560 86.6,545 85.9,529.5" fill="#4a4a4a"/>
<polygon points="138.4,541.8 138,560 137.8,570 137.2,580 136.1,590 135,595 133.3,600 131.5,605 129.7,610 126.5,613 123.4,617 119.5,622 116.6,627 117.7,630 120.3,635 124.1,640 130,645 132.6,650 134.6,655 136.3,660 137,665 137.6,670 137.8,680 138.4,688 140.8,688 141.4,680 141.6,670 142.2,665 142.9,660 144.6,655 146.6,650 149.2,645 155.1,640 158.9,635 161.5,630 162.6,627 159.7,622 155.8,617 152.7,613 149.5,610 147.7,605 145.9,600 144.2,595 143.1,590 142,580 141.4,570 141.2,560 140.8,541.8" fill="#f7941d"/>
<g fill="#4a4a4a"><circle cx="84.9" cy="493.7" r="1.6"/><rect x="83.7" y="510.5" width="2.4" height="16" /></g>
<g fill="#f7941d"><circle cx="139.5" cy="530.1" r="2"/><circle cx="139.5" cy="694" r="1.8"/><circle cx="139.5" cy="699" r="1.8"/><circle cx="139.5" cy="704" r="1.8"/><circle cx="139.5" cy="709" r="1.8"/><circle cx="139.5" cy="714" r="1.8"/><circle cx="139.5" cy="719" r="1.8"/><circle cx="139.5" cy="724.5" r="1.8"/></g>
<rect x="72.1" y="607.4" width="26.2" height="26.4" fill="#fff"/>
<rect x="72.1" y="621" width="26.2" height="2.2" fill="#737373"/>
<rect x="128" y="617.7" width="22.7" height="18.3" fill="#fff"/>
<rect x="128" y="626.3" width="22.7" height="2.2" fill="#ffb566"/>
<rect x="52.6" y="481.8" width="119.9" height="262.3" fill="none" stroke="#555" stroke-width="1.3"/>
<g transform="translate(35.21,516.4) scale(1.0000,1)"><text fill="#231f20"><tspan x="0" y="0" font-size="16">2</tspan></text></g>
<g transform="translate(35.18,573.2) scale(1.0000,1)"><text fill="#231f20"><tspan x="0" y="0" font-size="16">1</tspan></text></g>
<g transform="translate(35.03,630) scale(1.0000,1)"><text fill="#231f20"><tspan x="0" y="0" font-size="16">0</tspan></text></g>
<g transform="translate(30.31,686.8) scale(0.7438,1)"><text fill="#231f20"><tspan x="0" y="0" font-size="16">−1</tspan></text></g>
<g transform="translate(28.11,743.6) scale(0.8710,1)"><text fill="#231f20"><tspan x="0" y="0" font-size="16">−2</tspan></text></g>
<g transform="translate(58.6,468.3) scale(0.9531,1)"><text fill="#231f20"><tspan x="0" y="0" font-size="17" font-style="italic">P</tspan><tspan x="11.34" y="0" font-size="17"> &lt; 2.2 × 10</tspan><tspan x="92.63" y="-7.2" font-size="11.5">−16</tspan></text></g>
<line x1="84.6" y1="474.4" x2="138.7" y2="474.4" stroke="#777" stroke-width="1.3"/>
<g transform="translate(64.64,765.1) scale(1.1182,1)"><text fill="#231f20"><tspan x="0" y="0" font-size="17">Non-</tspan></text></g>
<g transform="translate(64.43,784.8) scale(0.9482,1)"><text fill="#231f20"><tspan x="0" y="0" font-size="17">RBPs</tspan></text></g>
<g transform="translate(118.22,765.1) scale(0.9531,1)"><text fill="#231f20"><tspan x="0" y="0" font-size="17">RBPs</tspan></text></g>
<g transform="translate(15.6,694.1) rotate(-90)"><g transform="translate(-1.25,0) scale(1.0946,1)"><text fill="#231f20"><tspan x="0" y="0" font-size="17">log</tspan><tspan x="22.69" y="4.5" font-size="11">2</tspan><tspan x="28.8" y="0" font-size="17">(proteomics FC)</tspan></text></g></g>
<defs><linearGradient id="gc" gradientUnits="userSpaceOnUse" x1="0" y1="481.3" x2="0" y2="744.6"><stop offset="0" stop-color="#42a5f5"/><stop offset="1" stop-color="#6cc24a"/></linearGradient></defs><path d="M185.1,481.3 L194.1,502.7 L188,499.5 L188,726.4 L194.1,723.2 L185.1,744.6 L176.1,723.2 L182.2,726.4 L182.2,499.5 L176.1,502.7 Z" fill="url(#gc)"/>
<g transform="translate(218.6,499.5) rotate(90)"><g transform="translate(-1.53,0) scale(1.0951,1)"><text fill="#231f20"><tspan x="0" y="0" font-size="17">Enriched in</tspan></text></g></g>
<g transform="translate(198,487.3) rotate(90)"><g transform="translate(-0.77,0) scale(1.0779,1)"><text fill="#231f20"><tspan x="0" y="0" font-size="17">old-age brains</tspan></text></g></g>
<g transform="translate(218.6,632.1) rotate(90)"><g transform="translate(-1.52,0) scale(1.0914,1)"><text fill="#231f20"><tspan x="0" y="0" font-size="17">Enriched in</tspan></text></g></g>
<g transform="translate(198.3,616.1) rotate(90)"><g transform="translate(-1.24,0) scale(1.0958,1)"><text fill="#231f20"><tspan x="0" y="0" font-size="17">mid-age brains</tspan></text></g></g>
<g transform="translate(286.86,439.9) scale(1.1035,1)"><text fill="#231f20"><tspan x="0" y="0" font-size="17">Mid-age</tspan></text></g>
<g transform="translate(294.38,459.7) scale(1.1314,1)"><text fill="#231f20"><tspan x="0" y="0" font-size="17">cohort</tspan></text></g>
<g transform="translate(388,441.2) scale(1.1151,1)"><text fill="#231f20"><tspan x="0" y="0" font-size="17">Old-age</tspan></text></g>
<g transform="translate(395.08,461) scale(1.1336,1)"><text fill="#231f20"><tspan x="0" y="0" font-size="17">cohort</tspan></text></g>
<rect x="277.8" y="469.6" width="87.9" height="2.9" fill="#77c043"/>
<rect x="378" y="469.6" width="88" height="2.9" fill="#42a5f0"/>
<line x1="270.5" y1="478.7" x2="270.5" y2="760" stroke="#333" stroke-width="1.1"/>
<g transform="translate(265.1,659.3) rotate(-90)"><g transform="translate(-0.74,0) scale(0.9468,1)"><text fill="#231f20"><tspan x="0" y="0" font-size="18.5">α-TDP-43</tspan></text></g></g>
<defs><filter id="fib1" x="0" y="0" width="1" height="1" color-interpolation-filters="sRGB"><feTurbulence type="turbulence" baseFrequency="0.055" numOctaves="1" seed="2"/><feColorMatrix type="matrix" values="0 0 0 0 0.6 0 0 0 0 0.1 0 0 0 0 0.85 -9 0 0 0 1.0"/><feComposite in2="SourceGraphic" operator="in"/></filter><filter id="fib2" x="0" y="0" width="1" height="1" color-interpolation-filters="sRGB"><feTurbulence type="fractalNoise" baseFrequency="0.09" numOctaves="3" seed="5"/><feColorMatrix type="matrix" values="0 0 0 0 0.5 0 0 0 0 0.04 0 0 0 0 0.75 2.6 0 0 0 -1.05"/><feComposite in2="SourceGraphic" operator="in"/></filter><filter id="fib3" x="0" y="0" width="1" height="1" color-interpolation-filters="sRGB"><feTurbulence type="fractalNoise" baseFrequency="0.07" numOctaves="3" seed="9"/><feColorMatrix type="matrix" values="0 0 0 0 0.55 0 0 0 0 0.12 0 0 0 0 0.95 2.2 0 0 0 -0.8"/><feComposite in2="SourceGraphic" operator="in"/></filter><filter id="fib4" x="0" y="0" width="1" height="1" color-interpolation-filters="sRGB"><feTurbulence type="fractalNoise" baseFrequency="0.05" numOctaves="2" seed="11"/><feColorMatrix type="matrix" values="0 0 0 0 0.05 0 0 0 0 0.0 0 0 0 0 0.15 2.5 0 0 0 -0.8"/><feComposite in2="SourceGraphic" operator="in"/></filter><filter id="grain" x="0" y="0" width="1" height="1" color-interpolation-filters="sRGB"><feTurbulence type="fractalNoise" baseFrequency="0.5" numOctaves="1" seed="13"/><feColorMatrix type="matrix" values="0 0 0 0 0.55 0 0 0 0 0.1 0 0 0 0 0.85 3.0 0 0 0 -1.35"/><feComposite in2="SourceGraphic" operator="in"/></filter><filter id="spk" x="0" y="0" width="1" height="1" color-interpolation-filters="sRGB"><feTurbulence type="fractalNoise" baseFrequency="0.28" numOctaves="2" seed="4"/><feColorMatrix type="matrix" values="0 0 0 0 0.85 0 0 0 0 0.18 0 0 0 0 0.98 3.0 0 0 0 -1.05"/><feComposite in2="SourceGraphic" operator="in"/><feGaussianBlur stdDeviation="0.7"/></filter><filter id="spk2" x="0" y="0" width="1" height="1" color-interpolation-filters="sRGB"><feTurbulence type="fractalNoise" baseFrequency="0.3" numOctaves="2" seed="7"/><feColorMatrix type="matrix" values="0 0 0 0 0.9 0 0 0 0 0.25 0 0 0 0 1.0 3.2 0 0 0 -1.1"/><feComposite in2="SourceGraphic" operator="in"/><feGaussianBlur stdDeviation="0.7"/></filter><filter id="soft" x="-0.3" y="-0.3" width="1.6" height="1.6"><feGaussianBlur stdDeviation="1.3"/></filter><radialGradient id="ng0"><stop offset="0" stop-color="#5a3ce0"/><stop offset="0.8" stop-color="#4a2ad0"/><stop offset="1" stop-color="#4a2ad0" stop-opacity="0.6"/></radialGradient><radialGradient id="ng1"><stop offset="0" stop-color="#7034ec"/><stop offset="0.8" stop-color="#5624dc"/><stop offset="1" stop-color="#5624dc" stop-opacity="0.6"/></radialGradient><radialGradient id="ng2"><stop offset="0" stop-color="#3a34e0"/><stop offset="0.8" stop-color="#2a20b0"/><stop offset="1" stop-color="#2a20b0" stop-opacity="0.6"/></radialGradient><radialGradient id="ng3"><stop offset="0" stop-color="#9030ec"/><stop offset="0.8" stop-color="#7024dc"/><stop offset="1" stop-color="#7024dc" stop-opacity="0.6"/></radialGradient><radialGradient id="ng4"><stop offset="0" stop-color="#7440f4"/><stop offset="0.8" stop-color="#5c2ce4"/><stop offset="1" stop-color="#5c2ce4" stop-opacity="0.6"/></radialGradient><clipPath id="tc0"><rect x="272.1" y="472.6" width="97.7" height="97.6"/></clipPath><clipPath id="tc1"><rect x="373.1" y="472.6" width="97.6" height="97.6"/></clipPath><clipPath id="tc2"><rect x="272.1" y="572.9" width="97.7" height="96.6"/></clipPath><clipPath id="tc3"><rect x="373.1" y="572.9" width="97.6" height="96.6"/></clipPath><clipPath id="tc4"><rect x="272.1" y="671.9" width="97.7" height="97.9"/></clipPath><clipPath id="tc5"><rect x="373.1" y="671.9" width="97.6" height="97.9"/></clipPath></defs>
<g clip-path="url(#tc0)"><rect x="272.1" y="472.6" width="97.7" height="97.6" fill="#14021f"/><rect x="272.1" y="472.6" width="97.7" height="97.6" fill="#fff" filter="url(#fib2)" opacity="0.35"/><rect x="272.1" y="472.6" width="97.7" height="97.6" fill="#fff" filter="url(#fib1)" opacity="0.6"/><ellipse cx="272" cy="532" rx="9" ry="14" fill="url(#ng2)" opacity="0.35" filter="url(#soft)"/><ellipse cx="366" cy="517.6" rx="12" ry="13" fill="url(#ng2)" opacity="0.7" filter="url(#soft)"/><ellipse cx="325.8" cy="516.2" rx="17.5" ry="16.5" fill="url(#ng0)" opacity="1.0" filter="url(#soft)"/><ellipse cx="325.8" cy="516.2" rx="16.1" ry="15.18" fill="#fff" filter="url(#spk)" opacity="0.75"/><circle cx="357" cy="543" r="10" fill="#1e1070" stroke="#3028e0" stroke-width="2.6" opacity="0.9"/><circle cx="345" cy="538" r="1.8" fill="#e040ff"/></g>
<g clip-path="url(#tc1)"><rect x="373.1" y="472.6" width="97.6" height="97.6" fill="#0c0014"/><rect x="373.1" y="472.6" width="97.6" height="97.6" fill="#fff" filter="url(#fib2)" opacity="0.12"/><rect x="373.1" y="472.6" width="97.6" height="97.6" fill="#fff" filter="url(#grain)" opacity="0.12"/><ellipse cx="447" cy="519" rx="9" ry="17" transform="rotate(-10 447 519)" fill="url(#ng3)" opacity="0.22" filter="url(#soft)"/><ellipse cx="447" cy="519" rx="8.5" ry="16" transform="rotate(-10 447 519)" fill="url(#ng3)" opacity="0.0" filter="url(#soft)"/><ellipse cx="447" cy="519" rx="7.82" ry="14.72" transform="rotate(-10 447 519)" fill="#fff" filter="url(#spk2)" opacity="0.6"/><ellipse cx="388.1" cy="549.7" rx="10.5" ry="15" transform="rotate(-10 388.1 549.7)" fill="url(#ng1)" opacity="1.0" filter="url(#soft)"/><ellipse cx="388.1" cy="549.7" rx="9.66" ry="13.8" transform="rotate(-10 388.1 549.7)" fill="#fff" filter="url(#spk)" opacity="0.75"/><ellipse cx="432" cy="521.4" rx="10.5" ry="14.5" transform="rotate(-15 432 521.4)" fill="url(#ng0)" opacity="1.0" filter="url(#soft)"/><ellipse cx="432" cy="521.4" rx="9.66" ry="13.34" transform="rotate(-15 432 521.4)" fill="#fff" filter="url(#spk)" opacity="0.75"/><ellipse cx="426" cy="541" rx="6" ry="10" fill="url(#ng3)" opacity="0.15" filter="url(#soft)"/><ellipse cx="426" cy="541" rx="5.52" ry="9.2" fill="#fff" filter="url(#spk2)" opacity="0.5"/><polygon points="435,546.7 451,546.7 435,562" fill="#8a8a12"/></g>
<g clip-path="url(#tc2)"><rect x="272.1" y="572.9" width="97.7" height="96.6" fill="#10001c"/><rect x="272.1" y="572.9" width="97.7" height="96.6" fill="#fff" filter="url(#fib2)" opacity="0.2"/><rect x="272.1" y="572.9" width="97.7" height="96.6" fill="#fff" filter="url(#grain)" opacity="0.25"/><ellipse cx="319.9" cy="621.4" rx="15.5" ry="13.8" transform="rotate(25 319.9 621.4)" fill="url(#ng1)" opacity="1.0" filter="url(#soft)"/><ellipse cx="319.9" cy="621.4" rx="14.26" ry="12.7" transform="rotate(25 319.9 621.4)" fill="#fff" filter="url(#spk)" opacity="0.75"/></g>
<g clip-path="url(#tc3)"><rect x="373.1" y="572.9" width="97.6" height="96.6" fill="#120020"/><rect x="373.1" y="572.9" width="97.6" height="96.6" fill="#fff" filter="url(#fib2)" opacity="0.3"/><rect x="373.1" y="572.9" width="97.6" height="96.6" fill="#fff" filter="url(#grain)" opacity="0.35"/><ellipse cx="417.9" cy="605.7" rx="16" ry="13.5" fill="url(#ng3)" opacity="1.0" filter="url(#soft)"/><ellipse cx="417.9" cy="605.7" rx="14.72" ry="12.42" fill="#fff" filter="url(#spk2)" opacity="0.75"/><ellipse cx="396.3" cy="637.7" rx="6.8" ry="6.8" fill="url(#ng2)" opacity="1.0" filter="url(#soft)"/><circle cx="421" cy="620" r="1.4" fill="#d040ff"/><circle cx="424" cy="622" r="1.4" fill="#d040ff"/><circle cx="427" cy="619" r="1.4" fill="#d040ff"/><circle cx="430" cy="621" r="1.4" fill="#d040ff"/><circle cx="426" cy="624" r="1.4" fill="#d040ff"/><circle cx="433" cy="618" r="1.4" fill="#d040ff"/><circle cx="418" cy="623" r="1.4" fill="#d040ff"/><ellipse cx="470" cy="575" rx="6" ry="6" fill="url(#ng4)" opacity="1.0" filter="url(#soft)"/><polygon points="429.8,625.8 444.7,631 424.3,640.7" fill="#8a8a12"/></g>
<g clip-path="url(#tc4)"><rect x="272.1" y="671.9" width="97.7" height="97.9" fill="#3512a0"/><rect x="272.1" y="671.9" width="97.7" height="97.9" fill="#fff" filter="url(#fib4)" opacity="1.0"/><rect x="272.1" y="671.9" width="97.7" height="97.9" fill="#fff" filter="url(#fib3)" opacity="0.5"/><ellipse cx="343" cy="709.5" rx="14.5" ry="17.5" transform="rotate(15 343 709.5)" fill="url(#ng1)" opacity="1.0" filter="url(#soft)"/><ellipse cx="343" cy="709.5" rx="13.34" ry="16.1" transform="rotate(15 343 709.5)" fill="#fff" filter="url(#spk2)" opacity="0.75"/><ellipse cx="281.7" cy="740" rx="15" ry="16" fill="url(#ng1)" opacity="1.0" filter="url(#soft)"/><ellipse cx="281.7" cy="740" rx="13.8" ry="14.72" fill="#fff" filter="url(#spk2)" opacity="0.75"/><circle cx="317.6" cy="722" r="2.4" fill="#c040ff"/><circle cx="334" cy="728.8" r="2" fill="#c040ff"/><circle cx="341.5" cy="729.6" r="2" fill="#c040ff"/></g>
<g clip-path="url(#tc5)"><rect x="373.1" y="671.9" width="97.6" height="97.9" fill="#2a0a68"/><rect x="373.1" y="671.9" width="97.6" height="97.9" fill="#fff" filter="url(#fib3)" opacity="0.4"/><rect x="373.1" y="671.9" width="97.6" height="97.9" fill="#fff" filter="url(#grain)" opacity="0.35"/><ellipse cx="406" cy="712.4" rx="13" ry="13" fill="url(#ng4)" opacity="1.0" filter="url(#soft)"/><ellipse cx="406" cy="712.4" rx="11.96" ry="11.96" fill="#fff" filter="url(#spk)" opacity="0.75"/><ellipse cx="458.8" cy="705" rx="7" ry="7.5" fill="url(#ng3)" opacity="1.0" filter="url(#soft)"/><ellipse cx="458.8" cy="705" rx="5" ry="5.5" fill="#c050ff" opacity="0.7" filter="url(#soft)"/><polygon points="406,736.3 417.9,745.2 396.3,748.2" fill="#8c8a14"/><rect x="438" y="759" width="27.1" height="5.1" fill="#fff"/></g>
<g transform="translate(287.49,490.6) scale(1.0584,1)"><text fill="#fff"><tspan x="0" y="0" font-size="17">Case 20</tspan></text></g>
<g transform="translate(388.89,491) scale(1.0495,1)"><text fill="#fff"><tspan x="0" y="0" font-size="17">Case 65</tspan></text></g>
<g transform="translate(288.61,590.4) scale(1.0290,1)"><text fill="#fff"><tspan x="0" y="0" font-size="17">Case 26</tspan></text></g>
<g transform="translate(388.9,590.6) scale(1.0455,1)"><text fill="#fff"><tspan x="0" y="0" font-size="17">Case 67</tspan></text></g>
<g transform="translate(286.16,690) scale(0.9679,1)"><text fill="#fff"><tspan x="0" y="0" font-size="17">Case 131</tspan></text></g>
<g transform="translate(383.4,690) scale(1.0385,1)"><text fill="#fff"><tspan x="0" y="0" font-size="17">Case 103</tspan></text></g>
<g transform="translate(584.84,488.9) scale(1.0641,1)"><text fill="#231f20"><tspan x="0" y="0" font-size="17" font-style="italic">P</tspan><tspan x="11.34" y="0" font-size="17"> = 0.043</tspan></text></g>
<line x1="598.8" y1="495.2" x2="649.7" y2="495.2" stroke="#333" stroke-width="1.1"/>
<line x1="565.4" y1="493" x2="565.4" y2="728.5" stroke="#2a2a2a" stroke-width="1.2"/>
<line x1="561.8" y1="727.9" x2="685" y2="727.9" stroke="#2a2a2a" stroke-width="1.2"/>
<line x1="561.6" y1="727.6" x2="565.4" y2="727.6" stroke="#2a2a2a" stroke-width="1.1"/>
<g transform="translate(546.33,732.6) scale(1.0000,1)"><text fill="#231f20"><tspan x="0" y="0" font-size="16">0</tspan></text></g>
<line x1="561.6" y1="680.78" x2="565.4" y2="680.78" stroke="#2a2a2a" stroke-width="1.1"/>
<g transform="translate(531.02,685.78) scale(1.1000,1)"><text fill="#231f20"><tspan x="0" y="0" font-size="16">0.2</tspan></text></g>
<line x1="561.6" y1="633.96" x2="565.4" y2="633.96" stroke="#2a2a2a" stroke-width="1.1"/>
<g transform="translate(530.65,638.96) scale(1.1000,1)"><text fill="#231f20"><tspan x="0" y="0" font-size="16">0.4</tspan></text></g>
<line x1="561.6" y1="587.14" x2="565.4" y2="587.14" stroke="#2a2a2a" stroke-width="1.1"/>
<g transform="translate(530.91,592.14) scale(1.1000,1)"><text fill="#231f20"><tspan x="0" y="0" font-size="16">0.6</tspan></text></g>
<line x1="561.6" y1="540.32" x2="565.4" y2="540.32" stroke="#2a2a2a" stroke-width="1.1"/>
<g transform="translate(530.9,545.32) scale(1.1000,1)"><text fill="#231f20"><tspan x="0" y="0" font-size="16">0.8</tspan></text></g>
<line x1="561.6" y1="493.5" x2="565.4" y2="493.5" stroke="#2a2a2a" stroke-width="1.1"/>
<g transform="translate(546.48,498.5) scale(1.0000,1)"><text fill="#231f20"><tspan x="0" y="0" font-size="16">1</tspan></text></g>
<line x1="598.6" y1="727.9" x2="598.6" y2="732.8" stroke="#2a2a2a" stroke-width="1.1"/>
<line x1="650.1" y1="727.9" x2="650.1" y2="732.8" stroke="#2a2a2a" stroke-width="1.1"/>
<g transform="translate(582.86,754.6) scale(1.1726,1)"><text fill="#231f20"><tspan x="0" y="0" font-size="17">Mid</tspan></text></g>
<g transform="translate(583.19,774.6) scale(1.1158,1)"><text fill="#231f20"><tspan x="0" y="0" font-size="17">age</tspan></text></g>
<g transform="translate(634.76,754.6) scale(1.1729,1)"><text fill="#231f20"><tspan x="0" y="0" font-size="17">Old</tspan></text></g>
<g transform="translate(634.5,774.6) scale(1.1009,1)"><text fill="#231f20"><tspan x="0" y="0" font-size="17">age</tspan></text></g>
<g transform="translate(501.8,719.7) rotate(-90)"><g transform="translate(-1.51,0) scale(1.0806,1)"><text fill="#231f20"><tspan x="0" y="0" font-size="17">Fraction of Map2</tspan><tspan x="127.56" y="-6.5" font-size="11">+</tspan><tspan x="133.98" y="0" font-size="17"> neurons</tspan></text></g></g><g transform="translate(522.3,730) rotate(-90)"><g transform="translate(0.03,0) scale(1.0985,1)"><text fill="#231f20"><tspan x="0" y="0" font-size="17">with cytoplasmic TDP-43 foci</tspan></text></g></g>
<line x1="598.8" y1="566.4" x2="598.8" y2="584.8" stroke="#888" stroke-width="1.2"/><line x1="596.7" y1="566.4" x2="607.3" y2="566.4" stroke="#333" stroke-width="1.3"/><line x1="590.8" y1="584.8" x2="607.3" y2="584.8" stroke="#333" stroke-width="1.3"/><rect x="583" y="569.7" width="32.1" height="3.4" fill="#7cc142" stroke="#222" stroke-width="0.9"/><line x1="584" y1="571.4" x2="614.1" y2="571.4" stroke="#333" stroke-width="0.6"/><ellipse cx="593.6" cy="566.2" rx="2.8" ry="3.5" fill="#7cc142" stroke="#222" stroke-width="0.9"/><ellipse cx="604.1" cy="572.1" rx="2.8" ry="3.5" fill="#7cc142" stroke="#222" stroke-width="0.9"/><ellipse cx="598.8" cy="584.6" rx="2.8" ry="3.5" fill="#7cc142" stroke="#222" stroke-width="0.9"/>
<line x1="650.1" y1="510" x2="650.1" y2="545.2" stroke="#888" stroke-width="1.2"/><line x1="642.2" y1="510" x2="658.5" y2="510" stroke="#333" stroke-width="1.3"/><line x1="645.8" y1="545.2" x2="658.5" y2="545.2" stroke="#333" stroke-width="1.3"/><rect x="634.2" y="538.6" width="32.4" height="3.4" fill="#3f8fd6" stroke="#222" stroke-width="0.9"/><line x1="635.2" y1="540.3" x2="665.6" y2="540.3" stroke="#333" stroke-width="0.6"/><ellipse cx="650.1" cy="510.1" rx="2.8" ry="3.5" fill="#42a5f5" stroke="#222" stroke-width="0.9"/><ellipse cx="655.4" cy="540.3" rx="2.8" ry="3.5" fill="#42a5f5" stroke="#222" stroke-width="0.9"/><ellipse cx="644.8" cy="545.6" rx="2.8" ry="3.5" fill="#42a5f5" stroke="#222" stroke-width="0.9"/>
<g transform="translate(128.25,869) scale(1.0442,1)"><text fill="#231f20"><tspan x="0" y="0" font-size="17" font-style="italic">P</tspan><tspan x="11.34" y="0" font-size="17"> = 0.025</tspan></text></g>
<line x1="129.6" y1="876" x2="202.8" y2="876" stroke="#888" stroke-width="1.8"/>
<line x1="79.6" y1="876.2" x2="79.6" y2="1108.9" stroke="#2a2a2a" stroke-width="1.2"/>
<line x1="78.4" y1="1108.3" x2="256.8" y2="1108.3" stroke="#2a2a2a" stroke-width="1.2"/>
<line x1="75.6" y1="1108.3" x2="79.6" y2="1108.3" stroke="#2a2a2a" stroke-width="1.1"/>
<g transform="translate(59.93,1113.3) scale(1.0000,1)"><text fill="#231f20"><tspan x="0" y="0" font-size="16">0</tspan></text></g>
<line x1="75.6" y1="992.5" x2="79.6" y2="992.5" stroke="#2a2a2a" stroke-width="1.1"/>
<g transform="translate(44.25,997.5) scale(1.1000,1)"><text fill="#231f20"><tspan x="0" y="0" font-size="16">0.4</tspan></text></g>
<line x1="75.6" y1="876.7" x2="79.6" y2="876.7" stroke="#2a2a2a" stroke-width="1.1"/>
<g transform="translate(44.5,881.7) scale(1.1000,1)"><text fill="#231f20"><tspan x="0" y="0" font-size="16">0.8</tspan></text></g>
<line x1="128.3" y1="1108.3" x2="128.3" y2="1115.3" stroke="#2a2a2a" stroke-width="1.1"/>
<line x1="202.3" y1="1108.3" x2="202.3" y2="1115.3" stroke="#2a2a2a" stroke-width="1.1"/>
<g transform="translate(94.66,1138.2) scale(1.1041,1)"><text fill="#231f20"><tspan x="0" y="0" font-size="17">Mid age</tspan></text></g>
<g transform="translate(168.8,1138.2) scale(1.1211,1)"><text fill="#231f20"><tspan x="0" y="0" font-size="17">Old age</tspan></text></g>
<g transform="translate(15.2,1068.7) rotate(-90)"><g transform="translate(-1.19,0) scale(1.0826,1)"><text fill="#231f20"><tspan x="0" y="0" font-size="17">p-eIF2α/total eIF2α</tspan></text></g></g>
<g transform="translate(36.1,1036.4) rotate(-90)"><g transform="translate(-0.79,0) scale(1.0910,1)"><text fill="#231f20"><tspan x="0" y="0" font-size="17">expression</tspan></text></g></g>
<line x1="202.8" y1="906.5" x2="202.8" y2="985.2" stroke="#333" stroke-width="1.2"/><line x1="190.4" y1="906.5" x2="214.7" y2="906.5" stroke="#555" stroke-width="1.3"/><line x1="190.4" y1="985.2" x2="214.7" y2="985.2" stroke="#555" stroke-width="1.3"/><rect x="179.2" y="931.7" width="47.2" height="3.2" fill="#3f8fd6" stroke="#222" stroke-width="0.9"/><line x1="180.2" y1="933.3" x2="225.4" y2="933.3" stroke="#333" stroke-width="0.6"/><ellipse cx="202.8" cy="906.5" rx="3.7" ry="3.7" fill="#42a5f5" stroke="#222" stroke-width="0.9"/><ellipse cx="202.8" cy="933.3" rx="3.7" ry="3.7" fill="#42a5f5" stroke="#222" stroke-width="0.9"/><ellipse cx="202.8" cy="985.2" rx="3.7" ry="3.7" fill="#42a5f5" stroke="#222" stroke-width="0.9"/>
<line x1="128.6" y1="1017.8" x2="128.6" y2="1071.2" stroke="#333" stroke-width="1.2"/><line x1="116.7" y1="1017.8" x2="141" y2="1017.8" stroke="#555" stroke-width="1.3"/><line x1="116.7" y1="1071.2" x2="141" y2="1071.2" stroke="#555" stroke-width="1.3"/><rect x="105.5" y="1047.7" width="46.4" height="3.4" fill="#d8d8d8" stroke="#222" stroke-width="0.9"/><line x1="106.5" y1="1049.4" x2="150.9" y2="1049.4" stroke="#333" stroke-width="0.6"/><ellipse cx="128.6" cy="1017.8" rx="3.7" ry="3.7" fill="#7cc142" stroke="#222" stroke-width="0.9"/><ellipse cx="128.6" cy="1049.4" rx="3.7" ry="3.7" fill="#7cc142" stroke="#222" stroke-width="0.9"/><ellipse cx="128.6" cy="1071.2" rx="3.7" ry="3.7" fill="#7cc142" stroke="#222" stroke-width="0.9"/>
<g transform="translate(377.86,827.2) scale(1.1073,1)"><text fill="#231f20"><tspan x="0" y="0" font-size="17">Reproduced</tspan></text></g>
<g transform="translate(384.13,848.3) scale(1.1090,1)"><text fill="#231f20"><tspan x="0" y="0" font-size="17">from Fig. 3</tspan></text></g>
<line x1="400" y1="856.5" x2="458" y2="856.5" stroke="#444" stroke-width="1.2"/>
<rect x="395.9" y="862.8" width="26.3" height="22.9" fill="#9a9a9a"/>
<rect x="395.9" y="885.7" width="26.3" height="4.94" fill="#ffc425"/>
<rect x="395.9" y="890.63" width="26.3" height="26.85" fill="#f7931e"/>
<rect x="395.9" y="917.48" width="26.3" height="142.72" fill="#ff5e1f"/>
<rect x="435.9" y="862.8" width="25.7" height="19.15" fill="#9a9a9a"/>
<rect x="435.9" y="881.95" width="25.7" height="5.92" fill="#ffc425"/>
<rect x="435.9" y="887.87" width="25.7" height="100.08" fill="#f7931e"/>
<rect x="435.9" y="987.95" width="25.7" height="72.25" fill="#ff5e1f"/>
<rect x="474.7" y="862.8" width="26.3" height="14.02" fill="#9a9a9a"/>
<rect x="474.7" y="876.82" width="26.3" height="1.18" fill="#ffc425"/>
<rect x="474.7" y="878" width="26.3" height="172.92" fill="#f7931e"/>
<rect x="474.7" y="1050.92" width="26.3" height="9.28" fill="#ff5e1f"/>
<rect x="514.2" y="862.8" width="25.9" height="12.83" fill="#9a9a9a"/>
<rect x="514.2" y="875.63" width="25.9" height="0.99" fill="#ffc425"/>
<rect x="514.2" y="876.62" width="25.9" height="171.34" fill="#f7931e"/>
<rect x="514.2" y="1047.96" width="25.9" height="12.24" fill="#ff5e1f"/>
<line x1="387.7" y1="862.3" x2="387.7" y2="1060.8" stroke="#2a2a2a" stroke-width="1.2"/>
<line x1="387.1" y1="1060.2" x2="546.9" y2="1060.2" stroke="#2a2a2a" stroke-width="1.2"/>
<g transform="translate(371.13,1065.2) scale(1.0000,1)"><text fill="#231f20"><tspan x="0" y="0" font-size="16">0</tspan></text></g>
<g transform="translate(355.82,1025.72) scale(1.1000,1)"><text fill="#231f20"><tspan x="0" y="0" font-size="16">0.2</tspan></text></g>
<g transform="translate(355.45,986.24) scale(1.1000,1)"><text fill="#231f20"><tspan x="0" y="0" font-size="16">0.4</tspan></text></g>
<g transform="translate(355.71,946.76) scale(1.1000,1)"><text fill="#231f20"><tspan x="0" y="0" font-size="16">0.6</tspan></text></g>
<g transform="translate(355.7,907.28) scale(1.1000,1)"><text fill="#231f20"><tspan x="0" y="0" font-size="16">0.8</tspan></text></g>
<g transform="translate(371.28,867.8) scale(1.0000,1)"><text fill="#231f20"><tspan x="0" y="0" font-size="16">1</tspan></text></g>
<rect x="395.9" y="1067.7" width="26.3" height="3" fill="#77c043"/>
<rect x="404.45" y="1078.4" width="9.2" height="1.9" fill="#222"/>
<rect x="435.9" y="1067.7" width="25.7" height="3" fill="#42a5f0"/>
<rect x="444.15" y="1078.4" width="9.2" height="1.9" fill="#222"/>
<rect x="474.7" y="1067.7" width="26.3" height="3" fill="#77c043"/>
<rect x="483.25" y="1078.4" width="9.2" height="1.9" fill="#222"/>
<rect x="514.2" y="1067.7" width="25.9" height="3" fill="#42a5f0"/>
<rect x="522.55" y="1078.4" width="9.2" height="1.9" fill="#222"/>
<g transform="translate(331.47,1084) scale(1.0736,1)"><text fill="#231f20"><tspan x="0" y="0" font-size="17">Stress:</tspan></text></g>
<rect x="548.8" y="865.6" width="8.1" height="8" fill="#9a9a9a"/>
<g transform="translate(564.52,874.9) scale(1.0934,1)"><text fill="#231f20"><tspan x="0" y="0" font-size="17">Other</tspan></text></g>
<rect x="548.8" y="886.9" width="8.1" height="8" fill="#ffc425"/>
<g transform="translate(564.72,895.8) scale(0.9998,1)"><text fill="#231f20"><tspan x="0" y="0" font-size="17">5′UTR</tspan></text></g>
<rect x="548.8" y="907.8" width="8.1" height="8" fill="#f7931e"/>
<g transform="translate(564.75,916.6) scale(0.9990,1)"><text fill="#231f20"><tspan x="0" y="0" font-size="17">3′UTR</tspan></text></g>
<rect x="548.8" y="928.7" width="8.1" height="8" fill="#ff5e1f"/>
<g transform="translate(564.54,937.5) scale(0.9927,1)"><text fill="#231f20"><tspan x="0" y="0" font-size="17">CDS</tspan></text></g>
<g transform="translate(318.8,1016.4) rotate(-90)"><g transform="translate(-0.9,0) scale(1.0483,1)"><text fill="#231f20"><tspan x="0" y="0" font-size="17">G3BP1-bound</tspan></text></g></g>
<g transform="translate(339.8,1016.4) rotate(-90)"><g transform="translate(-1.48,0) scale(1.0597,1)"><text fill="#231f20"><tspan x="0" y="0" font-size="17">RNA windows</tspan></text></g></g>
<g transform="translate(420.7,1094.6) rotate(-60)"><g transform="translate(-91.99,0) scale(1.0502,1)"><text fill="#231f20"><tspan x="0" y="0" font-size="17">iPSC-diff.1*</tspan></text></g></g>
<g transform="translate(454.9,1093.7) rotate(-60)"><g transform="translate(-56.3,0) scale(1.0506,1)"><text fill="#231f20"><tspan x="0" y="0" font-size="17">Tdiff.1*</tspan></text></g></g>
<g transform="translate(494,1095.3) rotate(-60)"><g transform="translate(-63.66,0) scale(1.0495,1)"><text fill="#231f20"><tspan x="0" y="0" font-size="17">Mid-age</tspan></text></g></g>
<g transform="translate(532.4,1095.3) rotate(-60)"><g transform="translate(-62.75,0) scale(1.0506,1)"><text fill="#231f20"><tspan x="0" y="0" font-size="17">Old-age</tspan></text></g></g>
</svg></body></html>
